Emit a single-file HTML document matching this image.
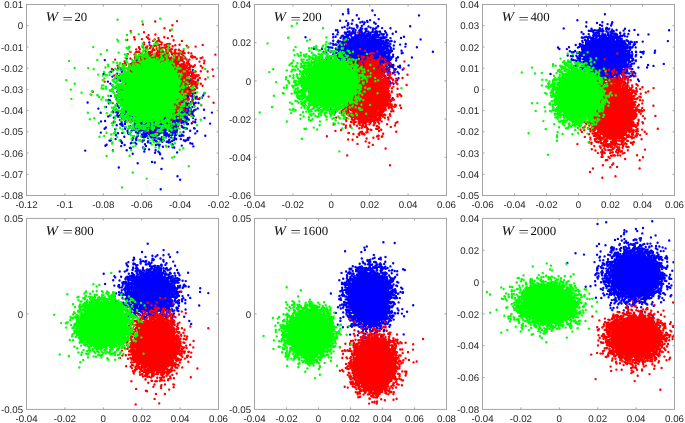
<!DOCTYPE html>
<html><head><meta charset="utf-8"><title>W clusters</title>
<style>
html,body{margin:0;padding:0;background:#fff}
svg{display:block}
text{font-family:"Liberation Sans",sans-serif;font-size:9.7px;fill:#262626;text-rendering:geometricPrecision}
text.t{font-family:"Liberation Serif",serif;fill:#111}
text.i{font-style:italic;font-size:13.4px}
text.e{font-size:13px}
text.n{font-size:12.4px}
</style></head><body>
<svg width="685" height="423" viewBox="0 0 685 423">
<rect width="685" height="423" fill="#fff"/>
<g>
<g fill="#0000ff" stroke="#0000ff">
<ellipse cx="158" cy="100" rx="24.3007" ry="25.8518" transform="rotate(0 158 100)" stroke="none"/>
<path d="M149.3 42.5h0m0.1 11.5h0m17.5 0.2h0m-62.1 5.9h0m21.9 -1.5h0m10 1.8h0m44.6 -2.7h0m-56.3 6.1h0m7 -0.3h0m4.1 -0.6h0m-25 8.9h0m2.1 -1.8h0m4.9 -1.9h0m2.3 1.2h0m1.4 2.4h0m0.9 -1.9h0m0.7 0.2h0m65.3 -0.9h0m4.3 1h0m0.2 1.7h0m-89.6 2.1h0m8.8 2.7h0m4.7 -2.8h0m1.7 2.3h0m68.8 -0.8h0m1.8 -2.4h0m2.7 1.8h0m0.6 2.4h0m0.3 -3.3h0m-85.1 7.8h0m8.3 -3.3h0m3.5 1.5h0m0.6 1h0m4.9 1.4h0m60.3 -0.4h0m4.1 -0.8h0m0.1 1.2h0m0.3 -3.4h0m1.8 1.5h0m3.3 2h0m3.1 -2.1h0m-87.8 3.4h0m2.1 1.9h0m-0.2 3.9h0m3.1 -1.9h0m1.9 4.3h0m0.5 -4.1h0m0.7 2.3h0m1.8 0.5h0m2.3 -0.4h0m62.5 -1.3h0m3.3 0.2h0m0 -0.8h0m1.7 0.1h0m0 1.6h0m0.6 1.5h0m1.1 -0.7h0m3.1 -1.2h0m-84.1 6.4h0m5.1 0.8h0m70.3 -1.6h0m1.2 1.3h0m0.7 0.9h0m0.2 0h0m0.3 -2.2h0m2.5 0.8h0m1.3 -2.3h0m0.2 3.8h0m0 -1.1h0m0.1 -1.7h0m0.9 2.8h0m1 -0.3h0m0.7 -4.1h0m1.4 3.8h0m6.5 -1.3h0m1.3 -2.2h0m-116.9 9.2h0m20.9 -2.5h0m1.5 0.4h0m6.8 -1.8h0m0.9 2.2h0m3.7 -1.1h0m0.8 1.6h0m0.7 -2.4h0m60.4 3.3h0m2 -2.1h0m0.9 2.2h0m2.4 -3h0m2.1 2.9h0m1.9 -3h0m0.8 -0.7h0m2.4 0h0m3.4 0.6h0m2.6 -1.4h0m-95.8 9.3h0m2.9 -3.7h0m8.4 0.3h0m0.2 2.1h0m64.6 -2.4h0m2 2.6h0m0.2 1.4h0m0.2 -0.3h0m0.1 -0.6h0m0.8 0.5h0m1.5 -2.8h0m0.6 3.2h0m0.1 -4.3h0m0.2 2.2h0m0.9 -1.1h0m0.6 3.2h0m1.4 -3.3h0m1.8 3h0m1 -3.9h0m0.5 0.5h0m0 1.1h0m1.7 -2h0m2.8 0.3h0m-100.1 5.6h0m14.7 2.6h0m0.1 1.1h0m3.2 -0.1h0m1.4 0.1h0m1.2 -4.7h0m3 1.8h0m0.5 2.7h0m2.6 -1.9h0m0.8 0.9h0m0.4 1.2h0m54.1 -1.5h0m0 1.4h0m1.3 -0.6h0m0.8 0.3h0m1.1 -2h0m1.1 2.5h0m0.1 -4.7h0m0.5 0.7h0m0.2 2.9h0m0 -3.7h0m0.4 3.7h0m0.1 -2.3h0m0.5 2.8h0m0.1 0.4h0m0.4 -3.8h0m0.4 1.8h0m0.4 1.5h0m0 0.6h0m0.7 -4.1h0m0.1 2.9h0m0.7 -0.9h0m0.5 -1.9h0m0 2.1h0m1 -1.2h0m1.1 2.4h0m1.2 0h0m0.9 -1.1h0m0.4 -0.4h0m1.1 -0.5h0m2.2 -1.2h0m6.3 1.3h0m-103.3 3h0m7.5 3.7h0m2 -1h0m6.7 0.2h0m0.4 -0.4h0m0.5 -2.3h0m0.2 3.6h0m1.4 -0.8h0m0.4 1.2h0m1.1 -2.7h0m2.4 -1.6h0m1.3 4.7h0m0.2 -3.6h0m4.6 2h0m0.1 1.6h0m0.4 -2.3h0m1.6 1.4h0m0.4 0.4h0m1.6 0.6h0m1.6 -0.8h0m2 0.4h0m39.7 0.3h0m0.9 -0.5h0m1.8 -3h0m0.9 -0.8h0m0.4 3.6h0m0.1 -1.7h0m1.4 -2.1h0m0.6 0.4h0m0.2 0.8h0m0.1 3.3h0m0.4 -3.8h0m0 2.2h0m0.7 0.3h0m0.2 1.4h0m0.5 -0.5h0m1.2 -2.7h0m0.1 0.8h0m0.6 2.1h0m1.4 -2.8h0m2 -1.2h0m1 2.1h0m0.1 -1.4h0m1.2 0.1h0m0.4 2.1h0m0.6 -0.1h0m18.3 -3.3h0m-110.9 8.8h0m4.1 -0.4h0m8.8 -3.2h0m0.2 3.9h0m5.8 -1.6h0m1.7 2.2h0m0.5 -3.8h0m3 3.2h0m0.7 -0.4h0m5.1 1h0m0.8 -2.9h0m0.3 1.1h0m0.5 0h0m2.1 -0.2h0m0.4 -1.6h0m0.4 2.9h0m0 -3.3h0m2.1 2.4h0m0.8 1.3h0m1.9 -1.8h0m1.5 1.3h0m0.8 -0.3h0m0.1 0.7h0m0.5 0.6h0m27.5 -0.3h0m1.7 -0.7h0m0.7 -1.1h0m0.3 0.8h0m0.8 -1.3h0m0.2 2.5h0m0 -2.4h0m0.3 1.5h0m0.1 -1.3h0m0.4 -0.7h0m0.3 -2h0m0.2 1.8h0m0.8 -0.5h0m0.5 2.6h0m0.4 -0.5h0m0.5 -0.7h0m0.2 1.7h0m0.4 -0.4h0m0.5 0.4h0m0.6 -2.3h0m0.8 1.8h0m0.8 -1.9h0m0.2 -2h0m0.2 2.8h0m0.3 1.4h0m1.4 -0.5h0m1.6 -0.4h0m0.5 -3h0m0.7 2.6h0m0.3 2.1h0m0.1 -2.8h0m1.2 -1.2h0m1.2 1.3h0m4.2 -1.8h0m1.7 4h0m0.5 0.3h0m0.4 -2.7h0m8.9 -1.6h0m-87.8 7.3h0m3.5 -1.2h0m1.4 0.9h0m0.7 -0.9h0m0.3 1.8h0m2.4 -2h0m0.4 3.3h0m5 -1.1h0m3.2 -0.4h0m0.5 -0.6h0m0.7 -1.6h0m0 -0.9h0m0.6 3.5h0m0.2 -2.2h0m1.5 3.1h0m2.5 -4.4h0m0.9 0.1h0m0.3 1.9h0m0.6 0.8h0m0.2 -1.6h0m2 1.8h0m0.2 -0.7h0m1.1 -1.3h0m0.5 1.6h0m0.1 -2.1h0m0.7 1.8h0m0.1 -1.9h0m0.8 1.3h0m0.7 -0.6h0m0.8 3.5h0m0.6 -3h0m0.5 3.2h0m0.5 -1.6h0m1.9 -1.1h0m0.3 1.4h0m1.6 -0.9h0m0.4 0.1h0m0.2 1.6h0m0.1 -2.1h0m0.8 0.5h0m1.2 0.7h0m0 1.1h0m0.6 0h0m1.9 0.1h0m0.9 -0.2h0m1 0.3h0m2.9 -0.2h0m2.2 -2.2h0m0.7 -2.1h0m1.2 1.1h0m1.6 -1.2h0m0.2 4h0m0.7 -1.2h0m1 -1.2h0m0.9 2.3h0m0.5 -3.2h0m0.1 2.2h0m0.6 0.4h0m0.7 -3h0m0 2.5h0m0.7 -1.7h0m1 -0.7h0m0 2.7h0m0.2 -3h0m0.3 0.9h0m1.9 1h0m3 -1.9h0m0.1 2.9h0m0.3 1.1h0m1.7 -4h0m3.3 1.3h0m1.1 -0.1h0m3.8 -0.7h0m18.3 0.3h0m-105.5 5.2h0m1.3 -1.3h0m9.3 1.7h0m10 -0.5h0m2.3 2.2h0m2.2 -3.4h0m1.6 3.7h0m1.2 -1.7h0m1.2 -2h0m0.3 2.2h0m0.6 -0.2h0m0.3 -0.2h0m1 2.8h0m0.2 -0.9h0m1.4 -2.6h0m0.2 0.2h0m0.8 1.5h0m0.5 2.2h0m0 -2.5h0m0.4 1.4h0m0.7 -2.7h0m0.3 2.4h0m0.7 -0.8h0m0.7 -2h0m0.3 1.8h0m0.6 -1.3h0m0.2 1.2h0m0.2 -0.4h0m1.7 0.8h0m0.5 0.2h0m1.2 -0.6h0m0.3 -2.4h0m0.3 2.9h0m0.5 -2.4h0m0.6 0.4h0m0.1 0.7h0m1.6 3h0m0 -2.2h0m0.3 -2.5h0m0 2.1h0m0.1 1.5h0m0.4 1.3h0m0.5 -2h0m2.2 1.3h0m0.8 -0.5h0m0.2 -1.8h0m0.9 2.9h0m0.1 -2.4h0m0 -1.9h0m0.7 1.4h0m0.7 2.4h0m0.1 0.7h0m0.3 0h0m0.1 -2.6h0m0.9 -1.9h0m0.1 4.1h0m0.2 -3.3h0m0.4 -0.3h0m0.2 3.8h0m2.5 -0.9h0m0.2 -2.8h0m0.3 1.3h0m0.1 2.3h0m0.3 -3.6h0m0.2 2.8h0m0.4 0.9h0m0.3 -1.4h0m1.3 -1.3h0m0.5 2h0m0.2 -3h0m0.1 0.6h0m0.3 0.7h0m3.5 0.8h0m0.6 -2.4h0m1.2 2.8h0m0.4 0.2h0m0.4 -0.7h0m0.3 -3.1h0m0.3 0.7h0m0.7 4.3h0m0.2 -4.1h0m0.5 2.3h0m0.4 1.4h0m0.2 -3.6h0m0.2 -0.9h0m1 0.3h0m0.4 4.3h0m0.2 -1.7h0m0.4 -1.6h0m0.1 3.5h0m0 -4.6h0m0.2 2.5h0m6.1 -2.7h0m0.4 4.4h0m0.4 -4.4h0m0.7 0.3h0m1 0.4h0m1.4 0.3h0m3.2 2.1h0m3.9 -2.5h0m0.5 0.3h0m2.6 2.7h0m-96.4 1.4h0m15.1 2.7h0m2.1 -2.1h0m4.3 -0.3h0m2 3.8h0m3.7 -3.7h0m0.6 0.8h0m0.8 -0.5h0m7.2 4.1h0m1.2 -4.2h0m0.1 2.5h0m4 -1.3h0m0.3 2.3h0m0.6 0.1h0m0.9 -4.2h0m0.3 2h0m0.3 2.3h0m0.4 -3.2h0m0.1 3.2h0m0.3 0h0m0.1 -1.2h0m0.9 -1.8h0m0.1 -0.8h0m0.7 3h0m0.5 -2.9h0m0.6 -0.6h0m1.3 2h0m1 -1h0m0 2.5h0m0.9 -0.9h0m0.4 0.7h0m0.4 -3h0m1.5 -0.3h0m0.9 1.6h0m0.1 0.8h0m1.9 -0.8h0m0.4 3.1h0m0.3 -1h0m0.9 -2.6h0m0 1.6h0m0.2 -0.3h0m0.5 -2.3h0m0.1 1.7h0m1.6 -1.3h0m1.4 4.1h0m2.4 -4.1h0m0.1 1.8h0m1.3 2.5h0m0.2 -3h0m0.2 0.5h0m0.4 0.9h0m0.1 -2.9h0m0.3 1.8h0m0 -1.5h0m1.9 1.5h0m0.1 1.6h0m0 0.2h0m0.1 -0.8h0m0.7 -1.1h0m1 0.2h0m0.2 -1.7h0m1 1.8h0m0.3 -1.8h0m0.3 1.4h0m2.5 1h0m0.3 -2.5h0m0.8 2h0m0.9 -2h0m2.6 2.8h0m1 0.3h0m0.9 -0.3h0m0.5 -1.2h0m1.5 1h0m11.9 -2.2h0m10 2.4h0m-95.8 4.8h0m1.2 -0.1h0m4.9 -1.4h0m5 1.4h0m0.4 0.5h0m0.6 0.9h0m10.9 -2.2h0m0.7 -1.7h0m2.9 1.3h0m0.2 0.8h0m6 1.4h0m0.5 -1h0m1 -0.2h0m4.1 1.9h0m0.2 -4.2h0m0.1 3.1h0m3.1 -3.6h0m2.3 0.1h0m0.6 2.4h0m1.3 -2.4h0m0.5 3h0m0.2 0.9h0m0.8 0.1h0m1 -3h0m1.1 -0.1h0m1.1 0.7h0m0.9 1.4h0m0.4 -2.1h0m0.8 3.2h0m0.3 -3.3h0m0.1 0.6h0m1 1.4h0m3 1.4h0m1.5 -0.3h0m0.5 1h0m0.6 -2.8h0m0.8 2.4h0m1.2 -4.6h0m0.7 3.6h0m1.7 -1.8h0m0.3 0.7h0m0.6 -2.2h0m1.6 1.2h0m4.6 0.1h0m3 1.2h0m1.4 0.7h0m1 -0.8h0m1.6 -2h0m0.4 1.5h0m1.3 -2.1h0m-84.1 8.1h0m1.2 -1h0m14.6 1.4h0m0.8 -3.1h0m2.6 2h0m6.3 -1.8h0m0.7 -0.5h0m3.6 -0.1h0m1.1 1.3h0m6.7 3.5h0m2 -3.1h0m1 1.7h0m4.5 -2.9h0m5.3 2h0m1.8 -0.8h0m1.7 1.4h0m0.4 -1.1h0m3.2 2.1h0m5.7 -0.1h0m3.5 -2.3h0m0.5 2.9h0m0.1 -2.7h0m9.1 1.1h0m8.5 -2.4h0m2.1 0.5h0m1 2.7h0m-108.2 4.2h0m27.7 -0.1h0m13.8 -0.2h0m3.2 -2.4h0m0.4 -0.1h0m0.6 0.6h0m12.6 -0.2h0m0.8 3.3h0m0.7 -2.4h0m4.1 0.3h0m6.5 0.9h0m2.7 1.3h0m15.9 -4.1h0m2.9 4.9h0m-44.4 1.4h0m22.3 -1h0m4.5 0h0m0.6 1.5h0m-8.1 7.6h0m2.8 0.6h0m7.5 -4.1h0m-24.6 4.9h0m-18.9 4.2h0m42.6 1.5h0m16.1 7.2h0m2.6 3.5h0m-19.4 9.6h0" fill="none" stroke-width="2.4" stroke-linecap="round"/>
</g>
<g fill="#ff0000" stroke="#ff0000">
<ellipse cx="160" cy="85" rx="24.431" ry="25.9904" transform="rotate(0 160 85)" stroke="none"/>
<path d="M155.2 21.5h0m21.8 -0.4h0m-34.1 3.3h0m29.5 0.9h0m-41.7 5.8h0m13.3 1.2h0m20.5 -4.1h0m5.6 2.3h0m-35.9 6.8h0m12.5 -0.2h0m1.8 -1.9h0m6.9 -0.7h0m8.9 2.7h0m7.7 -0.9h0m-44.8 3.6h0m7.6 -0.5h0m7.1 -0.3h0m6.2 -0.8h0m1.2 1.1h0m3.9 1.5h0m1.5 -1.4h0m1.4 3h0m1.1 -1.1h0m1.3 -3.3h0m0.2 1.9h0m0.3 1.1h0m1.1 0.5h0m7.7 -3.5h0m5.8 2.1h0m8.3 0.7h0m-52.8 6.5h0m9.9 0h0m0 -0.3h0m3.7 -0.2h0m1.3 -4.1h0m0 1.8h0m3.2 1.8h0m2.4 -1.3h0m1.4 1.7h0m0.3 -0.8h0m2.9 -0.3h0m2.1 0h0m2.1 -0.9h0m0.9 0.1h0m0.2 2.2h0m1.9 -2.6h0m0.4 -1.8h0m2.5 4.7h0m0.3 -2.5h0m1.7 2h0m0 -2.3h0m0.8 2.2h0m0 -2.7h0m0.9 -0.2h0m1.8 0.1h0m2.9 2.3h0m2.6 -1h0m4.3 -0.6h0m7.1 0.9h0m1.6 1.6h0m7.3 -0.6h0m7.1 -1.7h0m-72.1 7.2h0m5.1 0.3h0m0.5 -3h0m0.7 2.6h0m1.9 -0.2h0m0.3 -4h0m0.3 4.2h0m0.6 -2.8h0m5.3 1.4h0m0.4 -3.1h0m0.3 4.6h0m0.8 -3.9h0m1.9 4h0m1.3 -3.9h0m0.1 3.6h0m0.1 0.2h0m1.6 -0.1h0m0.2 -0.2h0m0.1 -0.6h0m0.6 -1.2h0m0.5 -1.8h0m1.3 1.9h0m2.2 -1.7h0m0.8 2.1h0m0.1 -0.8h0m0.3 0.1h0m0.3 2.2h0m0.5 0h0m0.7 -3.2h0m0.4 3.1h0m0 -0.5h0m0.2 0.8h0m0.1 -3.4h0m0.1 2.2h0m1.8 0.2h0m0 -3.5h0m0.1 0.7h0m0.8 3h0m2.6 -3.2h0m0.8 2.9h0m0.2 -1.2h0m1.4 2.3h0m1.5 -2h0m0 -2.7h0m0.8 3.3h0m0.3 -0.9h0m0.6 1.9h0m0.4 0.4h0m0.3 -3.2h0m2.9 1.3h0m0.1 0.6h0m0.1 1.6h0m0.8 -2.9h0m3.1 0.1h0m1.8 1.6h0m2.1 0.8h0m0.7 -1.1h0m-55.6 3.1h0m6.7 0.3h0m0.7 2.6h0m1 -1.1h0m3.6 -0.1h0m0.1 0.4h0m0.4 0.3h0m0.6 -2.6h0m1.9 2.5h0m1.6 -1.8h0m1.3 -1.4h0m0.1 2.7h0m1.5 0.2h0m0.9 -3h0m0.1 2.6h0m0.7 1.5h0m0.7 -0.4h0m0 -3.4h0m0.4 -0.3h0m0.6 2.7h0m0.5 -0.7h0m1.3 -0.4h0m0.4 2.5h0m2 -1.1h0m0.1 0.7h0m0.2 -3.1h0m0.4 2.1h0m0.2 -0.9h0m0.2 2.1h0m1.1 -4h0m0.2 2.5h0m0.1 0.6h0m0.6 0.8h0m0.5 -1.9h0m0.4 -0.3h0m0.2 2.4h0m0.6 -2.4h0m1 2.1h0m0 -3.6h0m0.2 -0.3h0m0.9 3.4h0m0.1 1.1h0m0.3 -2.6h0m0.2 -1.4h0m0.1 -0.3h0m0.2 3.6h0m0.9 -0.5h0m0 1h0m0.1 -2.5h0m0.5 1.5h0m0.3 -3.4h0m0.5 1.9h0m0 -0.6h0m0.6 2.2h0m0.9 0.2h0m0.6 -3.5h0m0.1 2.2h0m1.1 -0.7h0m0 1.6h0m0.2 -0.5h0m2.8 1.8h0m0.5 -4h0m0.3 0.9h0m1.1 0.8h0m0.3 0.4h0m0.1 -1.8h0m0.3 1.4h0m0.5 -0.2h0m0 1.6h0m0 -2.8h0m0.2 1.3h0m1.6 -1.6h0m0.4 3.3h0m0.9 0.7h0m0.6 -0.8h0m0.3 -3.2h0m0.2 1.5h0m0.2 0.9h0m0.7 0.9h0m0.7 -3.5h0m0.5 3.9h0m1.4 -2.8h0m1 3.1h0m0.4 -1.5h0m0.2 -2.8h0m0.8 4.1h0m0.2 -4.1h0m3.8 -0.3h0m2.5 3.7h0m0.3 -3.1h0m1.1 2.5h0m0.4 1.3h0m1.9 -0.1h0m0.2 0h0m20.4 -2.5h0m-100.2 5h0m9.5 1.9h0m0.7 0.7h0m5.1 -3.7h0m4.5 -0.6h0m0.1 2.5h0m2.4 -1h0m0.3 3h0m1.3 -0.6h0m1.6 -3.9h0m0.6 2h0m1.4 -0.6h0m0.5 0h0m0.5 -1.6h0m1.1 2.5h0m0.4 -2.1h0m0.9 0.4h0m5.4 -0.6h0m1 0.6h0m0.2 0h0m0.2 1h0m1.3 -1.7h0m1.1 0.8h0m0.5 1.3h0m0.3 -2.4h0m2 1h0m0.8 -0.5h0m0.2 1.2h0m0.4 0.4h0m4.9 -0.5h0m0 -0.4h0m1.4 -1h0m0.3 0.7h0m0.6 1.3h0m0.5 0.1h0m1.2 -2h0m0.3 3.6h0m0.3 0.3h0m1.1 -2.1h0m0.3 -1.5h0m0.9 3.4h0m0.3 -3.2h0m0.3 1.7h0m0.2 -0.6h0m0.2 1.2h0m0.2 -0.3h0m0.1 1h0m0.8 -0.8h0m0.5 1.1h0m0.1 -2.5h0m1.8 2h0m0.1 -0.7h0m0.1 -2.9h0m0.1 2.3h0m0.3 1.5h0m0.6 1.2h0m0 -3.6h0m0.5 1h0m0.4 1.2h0m0.3 1h0m0.7 -1.1h0m0.6 -0.8h0m0 1.2h0m0.4 -0.8h0m0.8 -1.8h0m0.4 1.6h0m0.5 -1h0m0.9 -0.8h0m0.1 -0.3h0m0 0.4h0m0.2 2.1h0m1.3 1.3h0m0.7 -3.7h0m0.4 -0.9h0m1.5 2h0m0.4 2.9h0m0.3 0h0m0.9 -1h0m1.2 -1.8h0m2.8 -2.1h0m4.5 1.2h0m2.8 2.9h0m1.1 -3.4h0m1.8 -0.7h0m2 3.2h0m-86.9 4.9h0m5.5 -1.4h0m3.1 0.6h0m2.8 1.9h0m1.6 -2.6h0m0.9 2.1h0m2.4 -3.4h0m0.3 0.7h0m1.3 0.5h0m0.1 0.1h0m0.3 2h0m0.5 -2.5h0m0 -0.5h0m1.8 0.6h0m1.6 3.2h0m0 -3.5h0m0.6 0.8h0m0.9 1.2h0m32.4 -2.7h0m0.5 0.3h0m0.2 2.2h0m0.4 -1.9h0m0.1 2h0m0.3 -0.9h0m0.2 -1h0m0.5 -0.6h0m0.5 0.9h0m0.1 0.9h0m1 1.7h0m0.4 -2.4h0m0.3 -0.9h0m0.1 4.2h0m1.5 -2.3h0m0.5 1.8h0m0.2 -1.3h0m0.1 0.6h0m0.2 0.4h0m0.8 -2.1h0m0.2 1.6h0m0.3 -0.9h0m0.3 -1h0m0.6 2.3h0m0.3 -1h0m0.8 -1h0m0.4 -0.5h0m0.7 3.5h0m0 -0.7h0m0.2 -1.4h0m1.2 0.2h0m0.3 0.6h0m0.3 -3.1h0m1.2 1.1h0m0.6 -0.4h0m0.5 1.3h0m0.2 0.1h0m0.9 1.3h0m0.9 -0.3h0m1.5 1.1h0m0.3 -0.1h0m0.7 -0.9h0m0.9 -0.8h0m6 0.6h0m3.3 -2.6h0m-92.2 5.6h0m8.7 -0.7h0m7.5 1.5h0m2 -0.2h0m0.1 1.6h0m1.3 0.1h0m0.7 0.7h0m0.7 -4.1h0m46.2 2h0m0.5 -0.8h0m0.5 3h0m0.6 -3.6h0m0.4 2h0m0 -2.5h0m0.7 0.4h0m0.4 1.7h0m0 0.9h0m1.4 -2.3h0m0 2h0m0.2 -2.9h0m0.1 3.2h0m0.9 -2h0m0.9 -0.7h0m0.1 -0.7h0m0.1 3.8h0m0.4 -0.6h0m1.6 0.8h0m0.1 -3.3h0m0 3h0m0.7 1.2h0m0.2 -4.7h0m1 -0.2h0m0.3 2.1h0m0.7 2.4h0m2.1 0.5h0m0.2 -0.5h0m1.4 -0.5h0m0.9 0h0m0.1 0.1h0m5.2 -0.4h0m1.7 -3.5h0m5.1 3.8h0m5 -2h0m-98.4 5.9h0m12.4 0.6h0m54.3 -3.3h0m1.1 1.5h0m0.3 -1.5h0m0.1 3.1h0m0.1 -0.6h0m0.2 1h0m0 -2.2h0m1.2 2.2h0m0.2 -1.1h0m0.4 -2.4h0m0.4 1.2h0m0.2 -0.9h0m0.5 1h0m0.3 2h0m0 1h0m0.1 -3.9h0m0.3 3.7h0m0.9 0.2h0m0.2 -4.1h0m0.2 2.8h0m0.5 -0.9h0m0.7 -0.4h0m1.8 1.5h0m0.8 -2.9h0m0.6 3.5h0m0.6 -1.2h0m1 -0.4h0m1.3 0.5h0m0.8 1.6h0m0.9 -1.7h0m0.9 0.7h0m1.1 -0.7h0m14.8 0.8h0m-108.8 5.5h0m16.4 -3.1h0m62.5 -0.1h0m0.4 -0.8h0m0.1 3.3h0m0.3 -3h0m0.1 2.8h0m0 -0.3h0m0.2 -1.2h0m0.1 1.5h0m0.5 1.4h0m0 -3h0m0.8 0.5h0m0.3 -0.3h0m0.8 -1.3h0m0.1 3.3h0m0.3 -2.7h0m0.7 1.6h0m0.4 -1.4h0m0.4 3.6h0m1.9 -0.2h0m0.3 -2.7h0m0.4 -0.1h0m0.9 1.6h0m0.3 0.9h0m0.5 -3.7h0m0.3 3.1h0m0.3 -3.7h0m1.2 0.8h0m1.4 3.9h0m0.3 -0.7h0m1 -2.2h0m2 -1.4h0m5.6 1.3h0m-79.8 5.2h0m58.5 1.8h0m0.3 -2h0m0.3 -1.7h0m0.2 4.7h0m0.5 -2.8h0m0.3 2.1h0m0.9 -2.8h0m0.1 2.3h0m0.8 -1.6h0m0 1.2h0m0.1 -2.9h0m0 1h0m0.2 2.5h0m1.2 -2.4h0m1.6 -0.5h0m0.6 2.9h0m0.7 -2h0m0.4 -1.5h0m0.2 0.8h0m0.2 1.5h0m0.1 -2h0m1.2 0.2h0m0.7 -0.3h0m0.2 0h0m0.3 1.9h0m0.4 1.4h0m0.3 -1.4h0m0.7 0.8h0m0.1 1.6h0m0.9 -3.6h0m3.2 0.1h0m1.8 2h0m-109.8 5.9h0m28.7 -2.5h0m60.9 2.6h0m0.8 -0.9h0m0.5 -1.7h0m0.2 1.7h0m0 -2.9h0m0 0.8h0m0.1 3.7h0m0.1 -0.7h0m0.2 -2h0m0.3 0.9h0m0.3 -2.8h0m1.2 4h0m0.1 0.3h0m0.2 -1.3h0m0.3 -1.2h0m0.3 -1.3h0m0.5 0.7h0m0 1h0m0.3 1.1h0m1.6 0.6h0m0.2 -1.2h0m0.1 -2.9h0m1.7 2.9h0m2.1 -0.8h0m0.2 0h0m0.3 -0.4h0m3.1 -1.5h0m-79.9 7.5h0m64 0.1h0m0.4 0.4h0m0.3 -1.7h0m0.8 0.3h0m0.8 -1.5h0m0.3 3.7h0m1.4 -1.5h0m0.2 -0.2h0m0.2 1.1h0m1.7 -2.5h0m1.5 0.2h0m0.1 -0.8h0m0.4 1.6h0m0.8 0.9h0m1 -2.5h0m2.6 2.7h0m0 -3.1h0m14.9 4h0m-30.2 5.8h0m1.9 0h0m0 -0.3h0m0.3 -2.5h0m0.1 -1.8h0m0.7 2.4h0m1 -2.3h0m0.2 3.2h0m0.5 -1.9h0m0.9 1.3h0m0.2 1.6h0m0.4 0.1h0m0.4 -3.2h0m0.5 0h0m0.2 -1.1h0m1.9 1.3h0m0.6 1.2h0m0.4 -1.6h0m3.3 2.9h0m0.6 -1.5h0m0.2 1h0m1.3 -3.6h0m3.5 1.2h0m2.2 -0.6h0m-87 4.9h0m62.8 0.7h0m0.5 2h0m0.1 1.6h0m0.7 -3h0m0.9 1h0m0.6 0.7h0m1.5 -3.3h0m0.7 1.5h0m0.5 -0.6h0m1.2 1.6h0m0.2 1.3h0m0.6 -0.4h0m2.5 -1.8h0m0.7 0.9h0m8.1 1.2h0m0.1 -0.9h0m6.9 -0.4h0m12.3 -2.4h0m-39.3 8.8h0m0.7 0h0m0.6 -3.9h0m0.4 3.1h0m0.9 -1.1h0m0.3 -1.7h0m0.2 -0.4h0m0.3 4.4h0m0 0.3h0m0.2 -1.3h0m1 -2.8h0m0.4 1.1h0m0.7 -1.7h0m2 0.4h0m0.4 -0.4h0m1.6 1.6h0m2.2 1.6h0m0.4 -0.6h0m3.9 0.5h0m-57.4 4.1h0m30.2 2.5h0m0.8 -1.3h0m3.3 -1.9h0m3.6 -0.7h0m1.7 0.1h0m0 2.3h0m1.2 -3.1h0m1.5 0.6h0m1.8 -0.1h0m1.9 2.9h0m0.7 -0.5h0m9.8 -0.9h0m-76 7.8h0m15.1 -2.5h0m30.7 1.7h0m2 -0.5h0m6.2 -2.2h0m0.8 3.5h0m3.4 -2.2h0m0.2 -1.4h0m0.4 -1.3h0m7.6 0h0m0.4 1.6h0m0.1 1.8h0m4.4 -1.2h0m8.2 1.9h0m-54.7 3h0m27.1 -1.2h0m4 2h0m2.3 0h0m6.3 1.3h0m-29.6 4.8h0m4.6 -1.4h0m3.3 2h0" fill="none" stroke-width="2.4" stroke-linecap="round"/>
</g>
<g fill="#00ff00" stroke="#00ff00">
<ellipse cx="152" cy="91" rx="24.1182" ry="25.6576" transform="rotate(0 152 91)" stroke="none"/>
<path d="M117.6 19.8h0m24.7 1.7h0m17.9 -2.8h0m-29.2 13.8h0m40.9 -3h0m-44.9 5.5h0m11.8 -0.9h0m-21.5 5.5h0m1 1.8h0m7.7 -1.4h0m28 0.1h0m-60.8 7h0m36.2 -0.3h0m12.9 -0.8h0m0.4 -2.2h0m10 2.7h0m1.8 -2.5h0m2.6 -1h0m0.4 1.5h0m11 0.6h0m0.4 0.5h0m18.7 1.6h0m-80.6 3h0m19.6 -2.5h0m1.5 1h0m1.4 2.7h0m13.9 -0.4h0m0.1 -2.5h0m0.6 2.6h0m2.5 -1.1h0m1.2 -0.5h0m10.4 -0.8h0m2.8 1.9h0m1.5 -1.2h0m5.1 2h0m0.4 -3.4h0m0 0.8h0m12.6 3.5h0m3.1 -3.4h0m-82.9 5.3h0m17.9 -1.6h0m6.1 1.8h0m2 0.2h0m0.3 1.5h0m8.6 -1.6h0m0.2 1.6h0m1.1 0.9h0m1 -0.1h0m1.2 -2.2h0m0.7 0.7h0m0.9 -0.7h0m1.4 -2.1h0m0.7 4.8h0m0.1 -2.8h0m0.2 1.7h0m2.1 -2.3h0m0.1 1.5h0m0 1.6h0m0.1 -0.2h0m1.1 -4h0m0.7 2.4h0m0.3 -1h0m0.4 2.2h0m4.9 -0.6h0m1.5 -0.5h0m0.2 -1.4h0m6.6 -0.3h0m0.1 2.3h0m0.5 1.1h0m1.1 -3.4h0m2 -1h0m0.7 3.7h0m1 -1.2h0m0.1 2.1h0m2.6 -2.3h0m4.5 0.3h0m0.4 2.1h0m9.5 0h0m-114.6 3.5h0m28.2 -1h0m16.1 2.3h0m12.1 -4.5h0m0.6 3h0m1.1 1.8h0m4.8 -2.7h0m0.6 1.1h0m1.9 0.1h0m0.4 0.2h0m0.8 -2.7h0m0.7 -0.1h0m2 2.7h0m0.4 -2.6h0m0.3 2.2h0m0.3 0.4h0m0.7 0.8h0m1.7 -4.1h0m0.2 4.1h0m0.5 -1.1h0m0.1 0.7h0m0.3 -2h0m0.7 0.9h0m0.3 0.5h0m1 0.8h0m1.4 -1.2h0m0.2 -0.9h0m0.6 2.2h0m0.1 -1.4h0m0.5 -2.2h0m0.2 3.8h0m0.7 -2.1h0m0.2 2.1h0m0.3 0.2h0m0.4 -2.8h0m0.3 -1.8h0m0.4 4h0m0.4 -2.9h0m0.1 0.3h0m0 -0.2h0m0.3 1.1h0m0.1 2.3h0m0.6 -1.2h0m0.7 -1.3h0m0.3 1h0m0.7 -0.6h0m0.2 2.2h0m0.3 -3.5h0m1.1 1.6h0m0.6 0h0m0.7 0.8h0m0.1 0.2h0m0.2 0.3h0m0.1 -0.6h0m0.2 -3.2h0m0.8 0.5h0m1 3.5h0m0.6 -1.1h0m0.1 -0.3h0m0.4 0.8h0m0.2 -0.6h0m1 -2h0m1.3 1.3h0m0.3 -0.1h0m0.6 -0.3h0m0.2 -0.8h0m1.6 3.2h0m1.7 -1.2h0m0.5 -1.7h0m0.2 0.5h0m0.7 0.4h0m2.5 1.8h0m0.6 0h0m1.1 0.7h0m0.3 -2.7h0m6 -0.2h0m0.5 -2.1h0m-71.2 7.3h0m0.4 1.6h0m8.7 -3.7h0m2.2 4.3h0m0.3 -2.6h0m0.6 -1.5h0m2.3 2.9h0m0.7 1.3h0m0.6 -1.6h0m0 0.4h0m0.6 0.8h0m0.2 -1.9h0m0.4 0.7h0m0.2 -0.3h0m4 -0.9h0m0.2 3.1h0m0.1 -1.9h0m0.2 0.6h0m0.9 1.3h0m1.6 -0.7h0m0.3 -0.4h0m0.2 -0.8h0m0.2 -1.7h0m0.2 -0.4h0m0.1 3.4h0m0.1 -1.1h0m1.5 0.9h0m0.3 0.7h0m0.6 -3.6h0m0.8 2.6h0m0.2 0.2h0m0.2 -2.1h0m0.6 2.7h0m0.1 -2.7h0m0.4 0.3h0m0 1h0m0.5 1h0m0.7 0.5h0m0.1 -2.5h0m0.7 2.4h0m1.2 -0.2h0m0.3 -0.6h0m0.1 -2.5h0m0.1 2.7h0m0.1 -1.3h0m0.1 1.1h0m0.4 -2.4h0m0.2 0.9h0m0.2 0.6h0m0.3 0.5h0m0.2 -0.9h0m1 -1.8h0m0.4 2.8h0m0.4 -1.9h0m0.3 2.1h0m0.2 -2.9h0m0.9 1.2h0m0 2.2h0m1 -0.6h0m0.3 -3.2h0m0.6 0.4h0m0.2 3h0m0.1 -1.6h0m1.4 0.4h0m0.1 1.1h0m0.6 -2.4h0m0.1 1.6h0m0.1 -1h0m1.5 0.8h0m0 -0.2h0m0.7 -1.8h0m0.1 1.9h0m0.1 -2.1h0m1.4 1.8h0m0.6 1h0m0.3 -2.9h0m0.2 0.5h0m0.2 -0.3h0m0.2 3.3h0m0.1 -2h0m0.6 -1.7h0m0.1 3.5h0m0.7 -2.4h0m0 1.2h0m0.2 -2.1h0m0.4 -0.1h0m1 2.2h0m0.1 1.2h0m0.1 1.1h0m0.1 -2h0m0 -1.6h0m0.2 1.8h0m0.2 -1.2h0m1.2 1.6h0m0.6 -0.5h0m0.1 -0.3h0m0.2 -1.9h0m0.1 -0.5h0m1 1.1h0m0.2 0.4h0m0.2 2.1h0m0.2 -3.5h0m0.1 3.8h0m0.1 0.1h0m0.3 -1.7h0m0.5 0.3h0m0.8 1.1h0m0.1 -1.8h0m0.7 -1.8h0m0.1 0.7h0m0.2 0.9h0m0 1.4h0m0.5 1.3h0m0.2 -1.5h0m0.2 0.3h0m0.7 -3.1h0m0.1 2.2h0m0.1 -1.9h0m0.3 3.5h0m0 -1.3h0m0.8 -1.3h0m0.2 3.2h0m0.2 -3.6h0m0.2 1.5h0m0.6 0.1h0m0 0.8h0m0.9 -3h0m0.2 3.5h0m2.2 -2.5h0m0.6 2.7h0m3.5 -0.7h0m-103.5 1.9h0m13.6 0.2h0m5.5 1.2h0m10.3 2.6h0m1.4 -4.4h0m4.1 4.7h0m3.2 -1h0m2.6 -2.5h0m1.9 1.3h0m0.3 0h0m2.1 -1h0m3.1 0.1h0m0.6 1.1h0m1 2.3h0m0.1 -4.3h0m0.1 4.2h0m0.5 -3.8h0m0 2.6h0m1.4 1h0m0.2 -4.3h0m0.6 4.5h0m0.7 -3h0m0.5 1.5h0m0.1 0.2h0m0.3 -2.7h0m0.1 1.7h0m0 1.8h0m0.2 -3.1h0m1.2 -0.2h0m1.8 -0.1h0m0.3 1.3h0m0.1 0.3h0m0.4 0.4h0m0.3 -0.8h0m0 1.3h0m0.2 0.7h0m0.4 0.2h0m0.2 -1.2h0m0.2 -1.9h0m0 1.7h0m1.1 1.3h0m0.3 -3h0m0.1 2.2h0m0.4 -2.4h0m0.3 2.5h0m0.2 -0.6h0m0.3 -0.9h0m0.2 1.4h0m0.6 -3.4h0m0.3 1.1h0m1.4 0.5h0m0.6 -0.2h0m0.8 0h0m0.4 -0.1h0m20.1 -1.2h0m1.1 -0.2h0m0.1 0.2h0m0.7 -0.1h0m1.1 1.4h0m0.2 -0.4h0m1.5 1.1h0m0.5 -0.6h0m0.2 3h0m0.2 -3.4h0m0 1.6h0m1.4 -0.9h0m0 1.6h0m0.8 -3.4h0m0.1 2.2h0m0.2 1.5h0m1.2 0.6h0m0.2 -1h0m0.1 -2.2h0m0.3 -0.4h0m0.3 1.4h0m0.5 2.1h0m0.2 0.2h0m1.1 -3.6h0m0.1 1.8h0m0.5 0.3h0m0.2 1.5h0m0.3 -1.1h0m1.6 1.1h0m0.3 -1.6h0m0.2 0.3h0m0.1 -2.4h0m0.1 2.6h0m1.2 -2.5h0m1 0.1h0m1.7 0h0m3.1 2.9h0m1.1 0h0m9.3 -0.5h0m11 -2h0m-106.9 5.7h0m4.7 1h0m2.5 -0.4h0m1.4 0h0m2.8 -0.5h0m6.6 -0.2h0m0 0.8h0m1 1.6h0m1.6 -0.3h0m1.1 -2.7h0m1.2 2.1h0m0.2 -0.8h0m0.2 1.2h0m0.8 -2.4h0m0 0.6h0m0.8 1.1h0m0 -1.2h0m1.2 0.2h0m0.3 2.5h0m0.5 -1.2h0m0.4 1.2h0m0.2 -3.3h0m0.1 1.1h0m1.4 -0.3h0m0.1 -1.3h0m0.1 1.5h0m0 1.9h0m0.4 -2h0m0 2.3h0m0.5 -0.6h0m0.1 -3h0m0.2 3.4h0m0.2 -2.3h0m0.8 -0.2h0m0.5 -1.1h0m0.1 3h0m0.7 -2.3h0m0.7 1.6h0m0.1 1.5h0m0.2 -1.5h0m0.3 -1.7h0m1 -0.6h0m0 0.5h0m0.1 -0.2h0m1 -0.1h0m0.1 1.3h0m0.9 -2h0m0.4 0.1h0m31.7 -0.3h0m0.8 0.6h0m0.5 -0.4h0m0.5 1h0m0.6 1h0m0.6 -0.2h0m0.5 -1.8h0m1.4 3.1h0m0.3 -1.5h0m0.1 -0.4h0m0.4 2.8h0m0.2 -4.1h0m0.5 4.5h0m0.7 -2h0m0 0.8h0m0 -1.2h0m0.2 -2.1h0m0.1 0.3h0m0.6 1.9h0m0.3 0.4h0m0.4 1.8h0m0.3 0h0m0.4 -3.4h0m0.4 2.6h0m0.8 -1h0m1.2 -1.7h0m1.3 3.6h0m0.3 -2.1h0m0.4 -1.3h0m0.6 1.3h0m26.1 2.3h0m-141.7 2.7h0m36.5 0h0m1.7 -1.7h0m8.2 1.8h0m1 1.3h0m0.3 -2h0m1 2.9h0m0.3 -4.7h0m0.7 4.4h0m0.2 -0.7h0m0.4 -0.3h0m0.9 -0.8h0m0.8 0.1h0m0.3 -2.7h0m0.2 1.1h0m2.2 -0.6h0m0.2 -0.6h0m0.9 2.9h0m0.1 0.1h0m0.4 0.6h0m0.2 -1.6h0m0.1 -0.1h0m0.2 -1.6h0m0.6 4.2h0m0.6 -1.9h0m0.2 1.4h0m1 -2.8h0m0 2.8h0m0.1 -3.4h0m0 3.4h0m0.2 -2h0m0.1 1.9h0m0.3 -1h0m0.9 1.7h0m0.1 -3.7h0m1 1.9h0m0.3 -2.3h0m0.3 4.1h0m0.1 -4.5h0m0.6 -0.1h0m0.3 3.4h0m0 -1.3h0m0.3 -0.8h0m0.3 1.5h0m43.1 -0.3h0m0.3 -2.3h0m0.2 1.7h0m0.4 -0.6h0m0.1 -0.8h0m0.1 4.2h0m0.1 -1.4h0m0.1 -0.7h0m0.1 2.2h0m0.7 -1.4h0m0.6 -3.2h0m0.4 1.6h0m0.2 1.4h0m0 0.8h0m0.4 0.7h0m0.1 -4.3h0m0.6 3.9h0m0.1 -0.5h0m0.1 -1.9h0m0 0.1h0m1 2.6h0m0.2 -0.5h0m0.2 -3.4h0m0.3 2.2h0m0.8 1.2h0m0.4 -0.5h0m3.3 -1h0m2.3 1.9h0m0.6 -4.4h0m2.3 0.7h0m8.9 4.1h0m-123.6 1.2h0m27.1 1.9h0m1.6 -0.2h0m2.5 1.3h0m7.1 -1.5h0m1.8 1.7h0m0.1 0.5h0m1.4 -1.1h0m0.1 -2.8h0m1 2.6h0m0.2 -2h0m0.1 2.9h0m1.3 -2.5h0m0.6 1.9h0m0.3 0.9h0m0.6 -3.3h0m0.1 2.2h0m0.3 -2.1h0m0.4 1.2h0m0.4 0.9h0m0.1 -0.9h0m0.5 -1.6h0m0.2 -0.5h0m0.9 2h0m0.2 1.5h0m1.6 -0.3h0m0.1 0.7h0m0 0.3h0m1.3 -2.4h0m0.2 -0.8h0m0 1.5h0m0 -2.8h0m0.3 0.8h0m0.1 0.9h0m0.3 0.8h0m0 1.7h0m0.2 -2.4h0m0.4 2h0m0.1 -4.1h0m0.6 1.6h0m45.5 -0.8h0m0.1 0.1h0m0.5 0.2h0m0.1 2.6h0m0 -2.5h0m0.1 -0.7h0m0.4 3.9h0m0.4 -1.1h0m0.7 -0.3h0m0.2 -1.7h0m0.2 2h0m0.7 -0.1h0m0 -1.4h0m0.4 -0.2h0m0.4 0.4h0m0.1 1h0m0.7 -0.8h0m0.4 -0.9h0m2 3.1h0m0.8 -1.2h0m0.2 0.9h0m0.4 0.4h0m0.3 -3.6h0m0.1 1.1h0m0.6 2.1h0m2.8 -0.6h0m1.2 -2.6h0m4.9 3.3h0m0.6 -0.4h0m-122.8 3.2h0m21.1 1.7h0m9.7 -3h0m1.9 0.5h0m2.6 0h0m3.7 1.4h0m0.5 0.8h0m1.1 -0.6h0m0.6 0.4h0m0.6 0.7h0m0.1 -0.3h0m0.2 -2h0m0.3 -1.4h0m4.2 1.4h0m0.5 2.9h0m0 -3.8h0m0.5 3.4h0m0.2 -2.3h0m0.1 -0.4h0m1.2 3h0m0.4 -1.1h0m0.1 -3h0m0.4 0.1h0m0.9 3.1h0m0 -3.3h0m0.1 -0.3h0m1 4.7h0m0.5 -3.5h0m0.3 3h0m0 -2.4h0m0.3 2.3h0m0.4 -1.6h0m0.2 1.4h0m0.5 -3.3h0m0.3 0.6h0m0.1 -0.2h0m0.2 2.4h0m0.3 -2h0m0.2 3.3h0m0.7 0h0m0 -0.4h0m0 -1.6h0m0.5 2h0m0.1 -0.4h0m0 -3.5h0m0.1 1.4h0m1.1 -1.7h0m46.8 2.8h0m0.2 -0.3h0m0.1 -1.3h0m0.2 0.5h0m0.5 -1.7h0m0.2 4.1h0m0.1 0.2h0m0.1 -2.8h0m0.3 2.6h0m0.1 -1.6h0m0.5 -1.7h0m0.3 1.5h0m0.7 -2.7h0m0.7 2.2h0m0.6 -1.2h0m0 -0.2h0m2.4 -0.6h0m0 3.5h0m0.5 -3.4h0m0.8 -0.2h0m3.8 3.7h0m3.5 -3.7h0m1.6 4.2h0m0.7 -0.3h0m0.1 -3.2h0m3.7 4h0m-115.5 0.4h0m9 1.7h0m0.8 0.2h0m5.9 0.5h0m0.4 -0.1h0m1.4 1.8h0m3.7 0.3h0m5.5 -1.4h0m5.6 -3.1h0m1.1 2.9h0m0.1 1.3h0m0.1 -2h0m0.2 0.3h0m0 0.5h0m1.6 0.7h0m0.8 0.9h0m0.4 -4h0m0.6 1.5h0m0.2 0.7h0m0.3 -2.2h0m0.3 3.7h0m0.9 -0.6h0m0.3 -3.4h0m0.1 1.6h0m0.4 -0.9h0m0.4 0.6h0m0.6 1.6h0m0.7 -2.5h0m0.4 3.1h0m0.1 -0.8h0m0.3 -2.1h0m0.3 3.5h0m0.1 -0.9h0m0.3 0.1h0m0.2 -1.9h0m0.2 -1h0m0.3 2.9h0m0.6 1.1h0m0.2 -3.2h0m0.1 -0.3h0m0.1 0.4h0m0.2 0.8h0m0.8 -0.2h0m0.3 1.6h0m0.7 -2.6h0m0 -0.6h0m0.6 2.3h0m0.2 1.7h0m45.8 -4.3h0m0.4 3.1h0m0.6 -1.7h0m0.1 3h0m0.2 -1.3h0m0.6 -2.7h0m0.5 2.7h0m0.6 -1h0m0.1 -2.3h0m0.1 1.6h0m0.1 0.5h0m0.5 -1.2h0m0 3.2h0m1 -0.1h0m0 -2.8h0m0.3 1.9h0m0.5 -1.2h0m0.6 1.1h0m0.6 1.4h0m0.6 -4.3h0m0.9 3.6h0m1 -2h0m0.2 -0.2h0m1.1 3.1h0m0.2 -3.5h0m0 3.2h0m0.2 -3.1h0m8.4 1.5h0m10.3 -2.9h0m-133.1 6.3h0m30 0.6h0m4.7 0.8h0m2.3 1.4h0m3.2 0.7h0m4.5 -3h0m1 0h0m0.1 0.8h0m0.5 -1h0m0.3 2.7h0m0.5 -0.3h0m1.2 -1.5h0m0.1 1.6h0m1 -3.2h0m0.4 3h0m0 0.7h0m0.5 -4.7h0m0.1 4.1h0m1.3 -1.3h0m0.2 -0.4h0m0 -1.9h0m0 4.5h0m1.3 -2.2h0m0.5 -1.7h0m0.1 3.5h0m0.3 -3.4h0m1 -0.2h0m0.1 2h0m0.4 -0.5h0m0 0.9h0m0.2 0.2h0m0.6 -1.9h0m0.3 -0.9h0m0.7 2.6h0m0 -1.9h0m0.4 3.3h0m1.2 -0.6h0m0.2 0.2h0m42.7 -1.6h0m0.3 1.1h0m0 0.7h0m0.1 -2.4h0m0.2 1.5h0m0.1 -3.5h0m0.5 3.6h0m0.1 0.8h0m0.5 -2.2h0m0.3 0.5h0m0.1 0.9h0m0.5 -2.9h0m0.2 -0.1h0m0.6 0h0m0.1 3.6h0m0 -3.6h0m0.9 2.9h0m1.5 -1.9h0m0.1 0.8h0m0.3 0.7h0m0.2 -2.8h0m0.1 1.3h0m1.8 -1.7h0m0.1 1.7h0m2.7 -1.6h0m0.8 3.4h0m2.2 0.6h0m6.2 -3.7h0m7.3 -0.3h0m-96.2 9.3h0m5 -4.1h0m4.5 4.4h0m1 -2.2h0m0.3 0.8h0m0.1 -0.2h0m2.1 -3h0m0.4 0.4h0m1.7 -0.4h0m0.2 3.4h0m0.6 -1.1h0m0.9 -1.5h0m0.1 -0.4h0m0.2 1.8h0m0 -1.9h0m0.1 2.3h0m0.4 -0.7h0m0.7 1.4h0m0 -2.1h0m0.6 2.9h0m0.1 -4.2h0m0.3 3.4h0m0.2 -2.2h0m0.2 -0.5h0m0.1 2.2h0m1.3 -1.7h0m0.3 1.1h0m0.1 2.2h0m0.1 -4.5h0m0.3 0.3h0m0 2.6h0m0.2 -0.6h0m0.7 -1.8h0m0 2.8h0m0.5 -0.9h0m0.1 -0.5h0m0.4 2.6h0m0.1 -1.5h0m0 0.7h0m0.4 -3.5h0m0.1 1.3h0m0.1 0.4h0m0.1 1.3h0m0.7 0h0m0.3 -1.2h0m0.6 2.7h0m0.1 -4.6h0m0.7 2.8h0m0.4 0h0m0.5 1h0m37.8 -0.7h0m0.3 0.6h0m0.7 -1.2h0m0.3 -0.4h0m0 1.5h0m0.1 -2.6h0m0.6 3.1h0m0.2 -1.4h0m0 -1h0m0.4 -1.5h0m0.2 4h0m1.8 -0.5h0m1.3 -3h0m0.6 0.1h0m0.4 -0.6h0m1.1 2.5h0m2.4 1.1h0m1 -0.1h0m0.2 -2.3h0m0.5 1.7h0m1.5 -0.1h0m0.1 -1h0m0 -1.4h0m3 3.7h0m1.8 -1.8h0m1.5 -0.7h0m1.1 -1.9h0m0.1 0.5h0m2.1 3.7h0m7 -2.1h0m-89.3 7.2h0m0.2 -4.3h0m1.3 0.4h0m0.6 1.9h0m1 0.4h0m1.5 -1.6h0m0.5 0.9h0m1.4 0.8h0m1.1 0.2h0m0.5 1.1h0m0.9 -0.8h0m1 -1.3h0m0.6 0.4h0m0.2 2.3h0m0.6 -3.3h0m1 1h0m0.1 -0.8h0m0.3 -0.3h0m0.4 -1.4h0m0.8 0.6h0m0.2 0.9h0m1.6 -0.4h0m0 0.7h0m0.2 3h0m0.2 -0.9h0m0 -2.2h0m0 1.4h0m0.2 -2.2h0m0 2.2h0m0.6 -2.6h0m0.7 3.3h0m0.1 -2.2h0m0 1h0m0.6 -1.4h0m0.2 0.4h0m0.4 -1h0m0.6 3.8h0m0.1 -0.8h0m0.8 -1.7h0m0.4 -1.6h0m0 2.2h0m0.2 1.3h0m0.1 -1.3h0m0.1 -1.5h0m0.1 2h0m0.2 1.9h0m1 -2.6h0m0.4 -0.6h0m0.2 0.8h0m0 1.1h0m1 -0.7h0m0.1 1.4h0m0.6 0h0m2 -0.6h0m0.6 0.8h0m26.6 0.3h0m0.4 -0.3h0m0.1 0.3h0m0.3 -1.7h0m0.8 0.3h0m0.4 1.4h0m0.2 -3.2h0m1 1.6h0m0.4 -2.1h0m0.5 2.7h0m0.4 -2.5h0m0.2 3.7h0m0.1 -4.6h0m0.1 3.1h0m0.1 -0.8h0m0.9 1.7h0m0.6 -1h0m0.3 -2.3h0m0.1 2.2h0m0.5 -1h0m0 1.8h0m0.6 0.4h0m0.1 -3.3h0m0.2 1.9h0m0.6 -0.2h0m0.1 0.5h0m0.7 -3h0m2.8 2.6h0m0.5 1h0m1.2 -0.3h0m0.5 -2.2h0m1.4 0.7h0m0.4 0.1h0m7.9 -0.3h0m-102.2 3.2h0m18.9 0.5h0m3.9 1.9h0m4.8 1.2h0m4.5 1h0m0.9 -2.6h0m1 0.5h0m0 -1.4h0m0.2 2.2h0m0.2 -0.1h0m1.6 0.1h0m0 0.9h0m0.6 -3.8h0m1.6 3h0m0 -0.4h0m0.4 -0.5h0m0.8 0.8h0m0.1 0.7h0m0.2 -3.3h0m1 1.1h0m0 2.7h0m0.5 -3.8h0m0.7 0.4h0m0.8 -0.5h0m0.4 3.8h0m0.2 -3.1h0m0.2 -0.9h0m0.1 2h0m0.2 -1.1h0m0.7 0.5h0m1.1 -0.2h0m0.2 -1h0m0.3 -0.3h0m0.1 1.7h0m0 2h0m0.3 0.6h0m0.2 -4.4h0m1.3 2.7h0m0.3 -1.5h0m0.6 -0.8h0m0.1 1.4h0m0.2 1h0m0.5 0.7h0m0.2 -2.3h0m0 -0.4h0m0.3 2.5h0m0.2 -2.9h0m0 3.4h0m0.3 0.5h0m0.9 -1.5h0m0.6 -1.5h0m0.5 0.2h0m0.3 1.2h0m1.3 -1.3h0m0.2 1.1h0m0 0.5h0m0.7 -2.1h0m1.2 1.2h0m0.1 1.5h0m0 -2.4h0m1.2 2.3h0m0.6 0.3h0m1.4 -0.3h0m0.4 -0.3h0m0.8 0.8h0m1.8 -1.1h0m0.5 1.6h0m0.3 -0.4h0m0.2 -0.3h0m0.2 -0.1h0m1.4 0.3h0m1.2 -0.2h0m1 0.5h0m0.8 -0.2h0m1 -1.8h0m1 0.3h0m0.7 0.9h0m0.1 -1.6h0m1.5 1.1h0m0.3 1.4h0m0.6 -3.3h0m0.1 2.6h0m0.4 -0.4h0m0.1 -0.7h0m0.1 -2.1h0m0.7 3.9h0m0.3 -2.7h0m0.2 0.5h0m0.2 0.3h0m0.5 -1.4h0m0.2 1.5h0m0.2 0.2h0m0.5 -2.9h0m0.1 3h0m0.2 -2.3h0m0.3 1.8h0m0.5 -0.6h0m0 -0.3h0m1.3 1.4h0m0.9 -3.2h0m0 1.5h0m0.1 1.7h0m0.2 -1.4h0m0.5 0h0m0.8 2.4h0m0.6 -1h0m0.9 -2.3h0m0.1 1.6h0m0.3 1.7h0m0 -1.6h0m0.3 1.7h0m0 -1.5h0m2.2 -0.9h0m0.1 1.9h0m0.2 0.1h0m0.6 -1.5h0m2.1 -0.8h0m0.4 0.4h0m0.3 -0.2h0m1.2 -1.6h0m1.3 1.6h0m0.5 2.9h0m0.6 -2.5h0m1.2 2.6h0m0.6 -2.9h0m1 -0.1h0m0.4 -1h0m2.1 1.3h0m2.9 -2h0m1.5 3h0m1.4 1.3h0m-102.8 2.2h0m4.5 -1h0m20.5 0.3h0m0.1 3.4h0m5.8 -1.5h0m1.7 -1.4h0m0.7 -1.2h0m0.7 1.9h0m1.4 -0.5h0m0.2 -1.5h0m0.7 0.4h0m0.7 3.8h0m0.9 -2.7h0m0.4 -0.7h0m1.4 0.8h0m0 2.5h0m0.3 -4.2h0m0.1 3.1h0m0.5 -2.8h0m0.3 0.3h0m0.7 3.9h0m0.2 -0.9h0m1.3 -3h0m0.2 0.9h0m0.7 1h0m0.8 -2.6h0m0.5 1h0m0.3 3.4h0m0.7 0.4h0m0.1 -2.5h0m0.6 -1h0m0.4 -1h0m0.3 1.9h0m0.7 1.1h0m0.6 -3.2h0m0.1 3.2h0m0.2 -3.3h0m0.3 1.1h0m0.4 3h0m0.5 -4.1h0m0.1 1.6h0m0.5 -1.5h0m0.3 3.1h0m0.6 -0.3h0m0.6 -1.2h0m0.2 -1.6h0m0.7 2.7h0m0.2 0.6h0m0 1.4h0m0.3 -4.4h0m0.1 2.9h0m0.1 -1.5h0m0.4 3.2h0m0.2 -3.1h0m0.1 3.1h0m0.3 -0.4h0m0.5 -1.2h0m0.1 -1.6h0m0.5 -1.5h0m0.1 3.4h0m0.2 -2.8h0m0.8 0.6h0m0.2 -0.4h0m0 2.9h0m0.6 -1.9h0m0.1 -1.2h0m0.4 3.3h0m0.1 -1h0m0.1 -2.4h0m0.2 1.1h0m0.6 -1.1h0m0.5 2.8h0m0.2 -1.9h0m0.8 2.4h0m0.4 0.2h0m0 -0.9h0m0.1 0.9h0m0 -3h0m0 1.3h0m0.7 2h0m0.5 -4.5h0m0.2 3.6h0m0.7 -3h0m0.3 1.2h0m0.1 -1.7h0m0.3 1.4h0m0.5 0.9h0m0.9 1.6h0m0.2 0.9h0m0.6 -4.1h0m0 1h0m0.5 2h0m0.6 0.2h0m0.2 -2.4h0m0.1 -1.7h0m0.2 0.2h0m0.8 2.5h0m0.1 2.2h0m0.1 -1.6h0m0.5 -3.3h0m0.5 1.3h0m0.2 -0.7h0m0 0.1h0m0.4 1.3h0m0.2 -2h0m0.4 4.9h0m0.1 -2.7h0m0.3 0.5h0m0.9 0h0m0.2 -1.7h0m0.1 2.9h0m1.6 1h0m0.4 -1.7h0m0.4 0.3h0m0.5 -1.2h0m0 1.6h0m0.9 -1.1h0m0.3 0.5h0m0.1 -3.2h0m0.2 3.4h0m0.5 -1.6h0m0.7 2.3h0m0.2 0.3h0m0.5 -4.3h0m0.1 2.2h0m0.9 -2h0m0.7 4.1h0m2.6 -3.4h0m1.3 0.1h0m0.4 -0.3h0m2.9 -0.4h0m6.5 1.8h0m2.9 1.1h0m13.3 -1.2h0m-101.9 3.6h0m13 -0.2h0m0.7 2.3h0m13.1 1.3h0m3.2 -0.8h0m1.3 0.8h0m3.1 -2.1h0m0.3 1.6h0m2.5 0.6h0m0.1 -1.5h0m1.6 -1.9h0m0.1 2.4h0m0.1 1.4h0m0.2 -3.9h0m0.7 -0.7h0m0 1.8h0m0.9 0.5h0m0.1 1.4h0m2.2 -0.7h0m1.5 -2h0m0.6 2.3h0m0.4 -3.1h0m1.5 2.7h0m0.7 0.6h0m0.3 -1.5h0m0.4 1.5h0m0.9 -3.2h0m0.3 3.2h0m0.4 -0.8h0m0.1 0.7h0m0 -2h0m2.4 2.5h0m0.3 -3.4h0m0.3 2.2h0m0.4 2h0m0.9 -2.9h0m0.5 2.8h0m0.1 -2.8h0m1.3 0.1h0m0.9 0.9h0m0.9 -1.9h0m0.6 2.2h0m1 -2.4h0m0.4 2.5h0m1.9 0.7h0m0.2 0.5h0m0.9 -0.6h0m1 -0.4h0m0 -2.6h0m0.6 -0.6h0m0.3 3.3h0m0.4 -2.3h0m0.7 -1.1h0m0.2 2.2h0m0.4 2.5h0m0.7 -2.1h0m1.1 0.9h0m0.3 -0.1h0m0.7 -0.3h0m0 -0.7h0m0.5 -0.8h0m0.1 1.4h0m0.2 -0.5h0m2.1 -1.5h0m0.1 2.7h0m2.1 -2.8h0m0.2 1h0m2.8 -1.4h0m1.4 1.5h0m1 -1.3h0m5 0.9h0m13 1h0m-82.1 6.5h0m0.7 -3.2h0m4.4 -0.7h0m2.6 1.5h0m0.9 3.1h0m4.4 -3.5h0m1.5 -1.5h0m1.4 4.4h0m1.1 -3.5h0m0.6 0.6h0m0.8 -0.2h0m0.6 -0.1h0m2 1.5h0m1.6 0h0m1.9 -1.5h0m0.8 -0.7h0m0.4 -0.4h0m1.5 1.1h0m1.6 0.4h0m0.6 -1.5h0m0.7 2h0m0.6 -1.2h0m1.9 2.1h0m0 -0.3h0m0.9 -1.6h0m2.8 -0.7h0m0.4 1.4h0m0.2 -0.1h0m1.1 0.6h0m0.6 -1.7h0m0.5 -0.1h0m3.6 2.9h0m0.4 -0.6h0m1.1 1.1h0m0.1 -0.6h0m1.1 -0.9h0m0 1.6h0m0.6 -1h0m0.9 -1.8h0m0.6 2.9h0m0.8 -3.6h0m4 0.2h0m0.6 1.7h0m0.9 -1.8h0m1.2 0.1h0m1.6 2.4h0m0.3 -1h0m3 -0.8h0m0.6 -0.2h0m2.4 -0.5h0m1.5 0.5h0m0.9 3.6h0m5 -3.5h0m-85.9 8h0m4.8 -0.8h0m2.3 -3.1h0m4.8 1.7h0m2.5 -1.1h0m2 -0.3h0m1.5 4h0m11.8 -4h0m1.6 2.1h0m2.3 1h0m1.1 -0.3h0m3.2 -0.8h0m2.8 -2.4h0m0.6 3.4h0m7.6 1h0m2.6 -2h0m1.3 0.5h0m0.8 -0.7h0m2.1 -0.6h0m0.6 1h0m1.5 -1.3h0m0.2 3.2h0m5.7 -0.3h0m0.7 0.2h0m6.9 -3.2h0m6.5 -0.2h0m-66 4.9h0m1.3 3.8h0m7 -2h0m12 -1.7h0m6.9 1.5h0m1.7 -0.2h0m1.1 1.1h0m2.6 -2.1h0m5.9 1.4h0m2.8 -0.6h0m1.3 2.2h0m5.8 -0.5h0m3.4 -3.2h0m0.2 2.7h0m2.1 -3.4h0m7.3 0.8h0m-60.5 5.2h0m21 -0.7h0m0.1 3.9h0m2.4 -1.3h0m16.2 -0.9h0m3.8 2.8h0m1.7 -4.6h0m8.6 2.9h0m0.4 0.8h0m5 -2.2h0m1.4 1.8h0m2.3 -2.9h0m-62 8h0m18.2 -1.1h0m12.4 -2.2h0m15.3 -0.1h0m20.8 1.9h0m3.6 -1.5h0m-76.7 7.7h0m23 -0.1h0m44.7 1h0m-2.2 0.8h0m16.7 8.6h0m-56 6.3h0m13.9 6.1h0m-24.7 8.8h0" fill="none" stroke-width="2.4" stroke-linecap="round"/>
</g>
<rect x="26.5" y="4.5" width="192" height="191" fill="none" stroke="#a4a4a4" stroke-width="1"/>
<text x="26.5" y="208" text-anchor="middle">-0.12</text>
<text x="64.9" y="208" text-anchor="middle">-0.1</text>
<text x="103.3" y="208" text-anchor="middle">-0.08</text>
<text x="141.7" y="208" text-anchor="middle">-0.06</text>
<text x="180.1" y="208" text-anchor="middle">-0.04</text>
<text x="218.5" y="208" text-anchor="middle">-0.02</text>
<text x="23.1" y="8.1" text-anchor="end">0.01</text>
<text x="23.1" y="29.32" text-anchor="end">0</text>
<text x="23.1" y="50.54" text-anchor="end">-0.01</text>
<text x="23.1" y="71.77" text-anchor="end">-0.02</text>
<text x="23.1" y="92.99" text-anchor="end">-0.03</text>
<text x="23.1" y="114.21" text-anchor="end">-0.04</text>
<text x="23.1" y="135.43" text-anchor="end">-0.05</text>
<text x="23.1" y="156.66" text-anchor="end">-0.06</text>
<text x="23.1" y="177.88" text-anchor="end">-0.07</text>
<text x="23.1" y="199.1" text-anchor="end">-0.08</text>
<path d="M64.9 195.5v-2M64.9 4.5v2M103.3 195.5v-2M103.3 4.5v2M141.7 195.5v-2M141.7 4.5v2M180.1 195.5v-2M180.1 4.5v2M26.5 25.7222h2M218.5 25.7222h-2M26.5 46.9444h2M218.5 46.9444h-2M26.5 68.1667h2M218.5 68.1667h-2M26.5 89.3889h2M218.5 89.3889h-2M26.5 110.611h2M218.5 110.611h-2M26.5 131.833h2M218.5 131.833h-2M26.5 153.056h2M218.5 153.056h-2M26.5 174.278h2M218.5 174.278h-2" stroke="#a4a4a4" stroke-width="1" fill="none"/>
<text class="t i" transform="translate(45.4 21.2) scale(1.12 1)">W</text>
<text class="t e" transform="translate(62.5 22.5) scale(1.4 1)">=</text>
<text class="t n" transform="translate(74.4 21.2) scale(1.04 1)">20</text>
</g>
<g>
<g fill="#0000ff" stroke="#0000ff">
<ellipse cx="362" cy="57" rx="20.3848" ry="19.5694" transform="rotate(0 362 57)" stroke="none"/>
<path d="M348.2 9.4h0m0.1 2.2h0m24.1 -1.1h0m-29.5 3.7h0m5.5 -1h0m8.4 2.1h0m18.1 -0.2h0m44.1 0.3h0m-78.9 5.3h0m6.2 0.2h0m6.3 -0.7h0m6.3 -1.5h0m1.4 3.7h0m2.2 -0.7h0m2.2 0.8h0m2.5 -1.6h0m0.3 1h0m2.6 -1.8h0m4 2.4h0m4.6 -3.4h0m-34.1 7.8h0m3 -1.4h0m0.5 -2.3h0m0.2 1.1h0m3.5 -0.6h0m4.9 1.7h0m0 -0.4h0m0.9 1h0m4.2 0h0m2 -1.8h0m4.7 2.3h0m7.2 -2.8h0m2.3 2.6h0m0.2 0h0m32 -0.1h0m-74.3 4.1h0m1.5 -0.2h0m0.7 2h0m4.1 -4.5h0m2.6 4.9h0m2.6 -3.7h0m0.2 3h0m0.9 0.2h0m1.1 -4.3h0m0 3.8h0m2.3 -3.1h0m0.4 3.8h0m0.3 0.1h0m0.4 -1.6h0m0.6 1.1h0m0.4 -3.2h0m1.6 1.6h0m1.7 -2.7h0m2 3.3h0m0 -0.4h0m0.2 0h0m0.1 0.8h0m0.1 1.2h0m0.6 -0.4h0m0.4 -3.7h0m0.6 1.8h0m0.1 1.1h0m0.1 1.3h0m0.2 -0.9h0m0.5 -3h0m3.2 0.3h0m0.4 2.1h0m0.1 0.6h0m0.6 -2.3h0m0.1 -0.7h0m0.2 2.8h0m1.7 0.4h0m2.1 -4.2h0m1.9 4.1h0m0.3 -1.7h0m0.4 -1.6h0m1.4 3.9h0m0.7 -3.6h0m0.1 2.8h0m0.6 -0.3h0m0.4 -3.5h0m0.7 4.6h0m0.5 -0.6h0m2.3 -0.2h0m0.4 1h0m1.8 -4.4h0m3 3.2h0m5.4 -3h0m5.5 3.5h0m-90.5 5.4h0m27.6 -2.9h0m0.1 3h0m2.4 -0.5h0m1.8 -2.4h0m4.3 1.8h0m0.9 -0.4h0m1.1 0.7h0m1.4 0.5h0m0.1 -3.5h0m0.8 3.3h0m0.1 -3.5h0m0 3.9h0m0.3 -2.6h0m0.2 1.3h0m1.3 0.9h0m0.3 -1.8h0m1.5 -1.2h0m0.2 1h0m0.6 -1.5h0m0.3 2.3h0m0.9 -1.9h0m0.2 3.6h0m0.5 -3.7h0m1.8 3.5h0m0.2 -4.1h0m0.2 4.3h0m0.7 -4.5h0m0 2.3h0m0.1 -0.2h0m0.3 0.5h0m0.6 1.2h0m0.2 -1.1h0m1.2 1.9h0m0 -1.3h0m0.9 -1.6h0m0 2.9h0m0.2 -0.8h0m0.1 -0.1h0m0.3 -2h0m0.9 2.5h0m0.2 0.3h0m0.5 0.1h0m0.2 -1.2h0m0 -1.5h0m0.1 1.2h0m1 -1.7h0m0.3 2.4h0m0.5 -2.8h0m0.2 2.2h0m0.4 0.5h0m0.3 0.1h0m0.3 -1h0m0 -0.6h0m0.1 1.6h0m0.1 0.3h0m0.2 -3.9h0m0.2 0.1h0m1.4 2.2h0m0.1 0.9h0m0.8 -2.1h0m1.1 1.8h0m0.5 -1.8h0m0 -0.1h0m0.6 -0.3h0m0.3 0h0m0.3 1.7h0m0 1.7h0m0.3 -3.3h0m0.1 0.9h0m0.8 -2.1h0m0.9 4.2h0m0.7 -1.9h0m0.9 1.5h0m0.4 -0.4h0m0.1 -1.3h0m0.1 2.6h0m0.9 -2.2h0m0.7 1.5h0m0.2 -3h0m0.3 3.7h0m0.1 -2.3h0m0.8 -1h0m0.8 1.2h0m0 2.1h0m0.3 -0.2h0m0.4 0.1h0m0.9 -2.4h0m2.4 -0.5h0m1.4 2h0m0.6 -2.2h0m2.1 -1.5h0m0.4 4.5h0m0.6 -2.1h0m0.1 -0.2h0m5.6 -1.1h0m11.3 3.1h0m-70.8 4h0m4.4 1.2h0m0.7 -1.4h0m0.3 1.9h0m1.4 -0.4h0m0.1 -0.7h0m0.5 -3.5h0m1.1 4.2h0m0.8 -0.1h0m1 -2.7h0m0.2 -1.1h0m0.1 3h0m0.7 0.7h0m0.3 -1.4h0m0.4 -1.1h0m0.1 2.9h0m1.2 -1.3h0m0.2 0.5h0m0.2 -1.7h0m0.1 0.9h0m0.3 0.2h0m0.2 -3h0m0.8 4.4h0m0.1 -0.4h0m0.3 -3.8h0m0.7 3.4h0m0.2 -0.1h0m0.1 -1.4h0m1.1 -0.5h0m0.4 0.6h0m0.5 -1.2h0m0.8 0.8h0m0.8 -2h0m0.9 1.5h0m1.2 -0.2h0m0.3 -1.4h0m1.9 0.5h0m1.4 -0.4h0m0.6 -0.1h0m5.4 0.9h0m0.1 -0.8h0m1.7 0.1h0m1.6 1.6h0m0.9 -1.9h0m0.7 0.5h0m1.5 1.8h0m0.3 0.9h0m0 -2.9h0m1.2 1.6h0m1 -1.7h0m0 2h0m0.1 1.4h0m0.4 1.2h0m0.1 -2.9h0m0.4 2.9h0m0.1 -0.4h0m0.1 -3.6h0m0 0.9h0m0.5 0.9h0m0.1 -2.4h0m1 2.6h0m0.2 0.7h0m0.8 -0.2h0m0.4 1.2h0m0.2 -2.1h0m0.3 0.4h0m0.8 1.6h0m0.3 -1.5h0m0.7 -1.9h0m0.5 -1h0m0.1 2.7h0m0.2 -2h0m0.2 -0.5h0m0.2 4h0m0.5 -3.9h0m0.1 3.3h0m0.2 0.2h0m0.4 0.7h0m0 -1.3h0m0.1 -2.7h0m1.5 0h0m0.1 4.3h0m0.6 -4.8h0m0.3 3.1h0m0.9 -0.6h0m0.4 2.2h0m0 -1.7h0m0.2 0h0m0.9 -0.5h0m1.8 1.4h0m0.8 -3.3h0m0.6 3h0m0.5 -0.1h0m3.1 0.8h0m6.3 -3.9h0m19.6 1.5h0m-93.7 7.5h0m1.6 0.4h0m2 -3.9h0m0.1 4h0m2.4 -3.6h0m0.3 0.9h0m1.5 -0.1h0m1.1 -0.2h0m0.6 0.3h0m2.1 1.9h0m0.3 0.7h0m0.3 -4.5h0m0.4 2.1h0m0.4 1.7h0m0.5 -0.8h0m0.9 1.1h0m0 -4.1h0m0.4 0.4h0m0.5 4.1h0m0.3 -2.5h0m0.1 0.6h0m0.2 -1.6h0m0.1 3.2h0m0.1 -4.1h0m0.6 3.6h0m1.3 -3.9h0m0.7 4.3h0m0 -1.9h0m0.1 0h0m1.8 -2h0m28.9 -0.4h0m0.3 1.6h0m0.6 -1.3h0m0.3 2.8h0m0.4 -0.7h0m0.1 -1.9h0m0.2 2.8h0m1.2 -3.2h0m0.3 1.5h0m0 -1.1h0m0.3 3.8h0m0.1 -0.7h0m0.1 0.7h0m0.4 -4h0m0.2 1.4h0m0.3 0.7h0m0.2 1.7h0m0.5 -2.8h0m0.9 2.8h0m0.1 -4.1h0m0.3 4.1h0m0.4 0.4h0m0.2 -1h0m0 -1h0m0.4 -1.2h0m0.5 1.5h0m0.8 -1.5h0m0.2 -0.9h0m0.2 3.3h0m1.4 -1.1h0m0.1 1.9h0m0.6 -3.7h0m0.1 -0.1h0m0.9 2.7h0m1 0.6h0m0.3 -2.5h0m3.4 1.4h0m6.3 -0.9h0m5.3 2h0m0.3 -2.7h0m11.2 3.3h0m-102.9 1.6h0m8.1 0.1h0m1.5 3h0m4.8 -1.4h0m0.4 -1.3h0m1.7 2.8h0m1.1 -0.5h0m0.7 -3.7h0m0.9 3.9h0m2.6 -2.9h0m0.1 -0.1h0m0.6 0.9h0m0.5 -0.3h0m0.2 0.2h0m1.2 0.3h0m0.4 2.2h0m0 -1.1h0m0.6 0.7h0m1 -3h0m0 2.9h0m0.1 -2.6h0m1.8 1.6h0m0.9 -2.4h0m36.9 0.2h0m0.4 2.6h0m0.5 0h0m0.1 -2.4h0m0.8 0.2h0m0.3 1.4h0m0.2 -1.4h0m0.1 -0.6h0m0.2 3.6h0m0.1 -2.1h0m0.6 1.1h0m0.1 0.2h0m0.8 1.3h0m0.1 -3.2h0m0.4 -0.8h0m0 3.7h0m0.6 0h0m0.8 -3.9h0m0.2 4.1h0m0.2 -1.9h0m0.5 -1h0m0.9 1.1h0m0.3 -1.2h0m0.5 1.7h0m0.3 1.2h0m0.1 -0.5h0m1.3 0.7h0m0.2 -2.3h0m0.2 -2h0m1.1 3.1h0m1.6 -2.3h0m7.9 2.1h0m31.4 0.9h0m-106.7 0.9h0m0.8 4.1h0m2.5 0.1h0m1 0.6h0m2.8 -3h0m0.2 -0.3h0m0.7 -0.1h0m1.9 -1.3h0m0.3 4.6h0m0.4 -4.2h0m0.4 2.8h0m0.8 -2.8h0m0.3 1.7h0m0.5 0.7h0m0 0.9h0m0.5 1h0m1.2 -4.3h0m1.1 0.5h0m40.1 3.7h0m0.1 -1.5h0m0.2 -2.1h0m0.1 2.8h0m0.1 -3.9h0m0.7 1.3h0m0.3 3.5h0m0.4 -1h0m0.3 -1.5h0m0.1 -0.2h0m0.9 0h0m0.3 -1.1h0m0.2 0.1h0m0.2 -0.7h0m0 2.8h0m0.1 0.5h0m0.1 0.7h0m0.1 -4.3h0m0.9 4.7h0m0.5 -4.8h0m0.3 0.9h0m0.3 -0.7h0m0 3.4h0m0.3 0.7h0m0.8 -1.7h0m0.2 -1.2h0m0.5 2.5h0m0.4 -3.9h0m1.9 4.6h0m1.1 -0.7h0m0 -1.7h0m4.8 2.4h0m3.8 -3.9h0m0.9 -0.4h0m-75.8 5.3h0m0.5 1.2h0m3.3 -0.7h0m4.3 -0.5h0m2.2 0.6h0m0.1 -1.1h0m0.7 1.5h0m2 -1.5h0m0.3 2.6h0m0.6 -2.1h0m0 1.2h0m0.3 0.7h0m0.1 -0.3h0m0.6 -1.9h0m38.6 4.6h0m0.8 -3.2h0m1.1 1.6h0m0.4 0.2h0m0.7 -2.4h0m0.5 3.5h0m0.6 -1.3h0m0.6 1.3h0m0.1 -3.5h0m0.1 2.2h0m0.9 -3.1h0m1 2.3h0m0.4 1.1h0m0.3 -2.8h0m0 2.5h0m0.1 0.8h0m0.8 -0.8h0m0.4 0.8h0m0.2 -2.7h0m0.1 0.1h0m0.8 0.7h0m0.8 -1.4h0m0.1 0.4h0m4.9 1.8h0m0.2 -2.1h0m15.6 -1h0m-31.9 6.2h0m0.5 1.6h0m0.7 -2.4h0m0.7 0.9h0m0.5 1.5h0m0 -1.5h0m0.5 -0.6h0m2.6 -0.5h0m0.1 0h0m0.6 3.8h0m0.6 0h0m0.2 -3.8h0m1.2 1h0m0.6 1.2h0m0.4 -0.4h0m0.4 2.4h0m0.6 -4h0m0.1 1.6h0m0.6 2h0m0.3 -2h0m0.6 1h0m0.2 0.3h0m0.9 1.5h0m0.4 -2.4h0m0.2 0.7h0m4.7 1.2h0m1.8 -1h0m8.6 -0.4h0m-31.1 6.8h0m0.1 -1.3h0m0.9 -0.5h0m0.3 -1.5h0m2.3 0.6h0m0 1.2h0m1.1 -1.9h0m0.1 2.2h0m1.6 -3.4h0m0.3 3.2h0m0.3 1.5h0m1.2 -2.1h0m1.1 -0.4h0m0 1.4h0m0.4 -2.6h0m0.2 3.1h0m0.2 -1.3h0m0.2 -0.3h0m1.2 -2.1h0m0.4 3.7h0m0 -2.5h0m5 -0.1h0m0.2 3h0m0.3 -2.1h0m0.9 -0.9h0m1.7 2.8h0m2.6 -4.3h0m2.6 2h0m-20.7 7.5h0m0.2 -0.5h0m1.3 -3.5h0m1.5 4.1h0m0.2 -1.2h0m2.7 -1.9h0m4.9 -0.9h0m6 0.4h0m-13.2 6.7h0m0.4 -2h0m2.3 -0.3h0m1.4 3.4h0m7.5 -1.2h0m1.3 -2h0m-13.7 6h0m2.2 -0.5h0m1.6 1h0m2.1 -1.2h0m2.9 0.3h0m-0.9 14.5h0m-61.9 10.6h0m4.5 3.3h0" fill="none" stroke-width="2.4" stroke-linecap="round"/>
</g>
<g fill="#ff0000" stroke="#ff0000">
<ellipse cx="366" cy="92" rx="19.0898" ry="24.8998" transform="rotate(0 366 92)" stroke="none"/>
<path d="M358.2 32.5h0m-12.3 11.3h0m14.1 5.1h0m4.8 2h0m12.5 0.6h0m-18.9 4.3h0m3.3 0.6h0m2.2 0.4h0m3.7 0h0m0.1 0.5h0m1.9 -3.4h0m1.6 3.1h0m0.1 -3.9h0m0.3 0.5h0m0.5 2.4h0m0.6 1h0m1 -3.9h0m6.3 3.2h0m-33.2 5.4h0m0.9 -1.9h0m2.6 -2.3h0m1.4 4.5h0m4.1 -1.7h0m3 -0.8h0m0.9 2.5h0m1.9 -1.1h0m0.7 -2.4h0m0.1 2h0m0.1 -2.5h0m1.8 3.9h0m1.5 -1.2h0m0.6 1.1h0m0.6 -0.3h0m0.5 -2.6h0m0.6 0.6h0m0.7 2.9h0m0.5 -1.4h0m0.5 -2.9h0m0.3 3.8h0m0.1 -0.3h0m0.2 -3.7h0m0.6 4.1h0m0.7 -2.6h0m0.4 0.6h0m0.3 2.1h0m0.4 -2.1h0m1.5 0.3h0m1.2 0.5h0m1.3 0.7h0m0.9 -1.5h0m0.1 2.1h0m0.8 -1.1h0m1 -2.2h0m2.6 0h0m3 0.7h0m0.1 1.1h0m19.1 0.8h0m-54.7 1.5h0m0.2 1.2h0m1.7 1.3h0m0.7 -2.2h0m0.2 2.1h0m1.9 -0.2h0m0.3 0.3h0m0.5 -2.5h0m1.6 2.2h0m0.3 0.9h0m0.9 0.8h0m0.1 -0.9h0m1 -2.6h0m0.2 3.4h0m0.2 -2.9h0m0.3 2.8h0m0.6 -1.4h0m0.1 2.1h0m0.3 -1.2h0m0.2 -3h0m0.1 2.1h0m0.7 0.7h0m0.2 -0.5h0m0.2 -1.4h0m0 1.1h0m0.6 2.1h0m1.7 -0.8h0m0 -0.2h0m0.1 -3.4h0m0.6 4.3h0m0.1 -3h0m0.3 0.9h0m0.8 -0.3h0m0 -0.4h0m0.3 -1h0m0.2 2.5h0m0.3 -0.2h0m0.2 -1.9h0m0.6 1.4h0m0.1 2.2h0m1 -2.8h0m0.5 1.9h0m0.5 -0.6h0m0.2 -1.2h0m0.2 -0.8h0m0.5 2.3h0m0.2 0.6h0m0 0.4h0m0.6 -1.6h0m0.8 -1.8h0m0.4 3.3h0m0 -1.2h0m0.1 -1.3h0m1.2 -1.5h0m0.7 2h0m0.2 0.2h0m0.1 1.3h0m0.2 -2.4h0m0.1 -0.7h0m0.2 2.3h0m0.7 0.7h0m0.2 -3.1h0m0.6 2.3h0m0.6 -2.4h0m0.5 0.6h0m1.5 2.2h0m0.5 0h0m1.7 0.8h0m0.1 -2.8h0m0.7 2.6h0m1 0.4h0m1.4 -2.1h0m0.2 -1.6h0m1.1 0.7h0m1 -1.1h0m3 0.6h0m-38.6 6h0m1.2 2.2h0m1.5 -0.9h0m0.4 -0.5h0m1.4 -2h0m1.1 0.3h0m0.2 0.5h0m0.7 0.3h0m1.4 -1.3h0m4 -0.1h0m3.7 -0.3h0m0.7 0.2h0m3.4 0.4h0m1.9 0.4h0m1.5 -0.9h0m0.3 3.8h0m0.2 -1.8h0m0 1.5h0m0.1 0.3h0m0.2 -2.9h0m0.5 0.7h0m0.6 -0.8h0m0.7 0.7h0m0.6 2.4h0m0.2 -3.1h0m0.5 2.6h0m0.5 -3.6h0m0.4 4.8h0m0.3 -1.8h0m0 1.3h0m0 -3.6h0m0.1 -0.4h0m0.4 2.5h0m2.4 -0.9h0m1.7 -0.2h0m0 1.8h0m0.1 -2.6h0m2.1 2.8h0m1.7 -2.7h0m1.7 3.9h0m3.5 -1.4h0m9.9 -2.7h0m-25.1 5.2h0m0.2 1.8h0m0.3 -1.8h0m0.2 1.1h0m0.9 1.5h0m0.9 -2.9h0m0 1.9h0m0.3 -1.5h0m0 -0.9h0m0.1 0.6h0m0.1 2.6h0m0.2 -0.4h0m1.2 -2.9h0m0 2.7h0m0.1 0.5h0m0.6 -1.2h0m0.2 -0.1h0m1.5 2.1h0m2.2 -2.6h0m0.1 0.4h0m0.3 0.5h0m0.7 -0.9h0m0.8 2.2h0m0.7 -1.8h0m4.6 0.1h0m12.6 0.2h0m-27 2.7h0m1 1.9h0m1 1.9h0m0.5 -1h0m0.2 -0.5h0m0.5 1.2h0m0.1 -2.1h0m0 -0.1h0m0.4 1h0m0.1 0h0m0.1 -1.2h0m0.1 3.5h0m0.8 -3.8h0m0.9 3.7h0m0.2 -2.6h0m0.2 1.4h0m0.5 1h0m0 -2.3h0m0.1 -0.4h0m1 2.3h0m0.4 -1.3h0m1.1 -1.8h0m1.6 -0.4h0m0.9 1.2h0m0.8 1h0m0.1 -0.4h0m2.5 1.5h0m0.5 -2.6h0m0.1 3.8h0m6.3 -4.4h0m-19.1 6.6h0m0.5 -1.6h0m0.1 1.3h0m0 1h0m0 0.9h0m0.3 -1h0m0.7 -1.3h0m0.7 -0.9h0m0.4 0h0m0.4 2.7h0m0 -2.4h0m0.9 2h0m0 -0.3h0m0.1 1.6h0m0.5 -2.4h0m0.9 -1.3h0m0.2 2.7h0m0.2 -2.5h0m0.7 2.7h0m2.4 -3.1h0m1 3.9h0m3.2 -3.4h0m0.8 0.8h0m9.2 1h0m-22.6 6.7h0m0.6 -1.3h0m0.3 0.9h0m0.2 -2h0m0 -1.6h0m0.5 1.9h0m0.4 -1.6h0m0.1 -0.4h0m0.2 4.8h0m0 -0.8h0m0.1 -4h0m0.2 1.5h0m0.9 2.2h0m0.1 0.9h0m0.5 -1.7h0m0.5 -2.5h0m0.3 3.1h0m2.8 1.2h0m0.1 -0.9h0m0.1 -3h0m5.7 0.3h0m-13.2 6.2h0m0 -0.4h0m0.2 -1.6h0m0 3.3h0m0.7 -3h0m0.3 3.2h0m0 -2.2h0m0.8 -1h0m0.5 2.9h0m0.5 -2.8h0m0.4 1.8h0m0.5 -1.8h0m0.5 2.1h0m0.1 -1.7h0m0 2.3h0m0.6 -2h0m0.5 1.5h0m7.4 -0.9h0m0.2 1.8h0m2.1 -2.3h0m0.6 0.8h0m1 1.1h0m-18.3 3.4h0m0.1 2.2h0m0.1 -3.2h0m0.6 1.5h0m1.2 -2.1h0m0 1.5h0m0.1 2.6h0m0.5 -1.3h0m0.2 -2.6h0m0.2 4.2h0m1 -2.7h0m0.5 3h0m0 -3.9h0m0.1 2.2h0m0.2 -1.7h0m0.1 -1.5h0m0.5 3.1h0m0.1 0.4h0m1.2 -3.6h0m0.2 2.1h0m0.6 1.4h0m0.7 0.1h0m0.9 -1.6h0m1.8 0.3h0m-46.9 7.4h0m0.8 -1.2h0m0.1 1.3h0m0.4 -3.5h0m0.3 2.2h0m0.1 -2.7h0m0.6 2h0m0.3 -1.5h0m0.6 1.7h0m0.3 -0.7h0m0.2 0.4h0m1 2.2h0m0.2 -0.6h0m29 0.6h0m0.5 -2.4h0m0.5 1h0m0.9 0.5h0m0.1 -3.9h0m0 4h0m0.2 -1.9h0m0 1.7h0m0.3 -3.6h0m0.3 1.6h0m0.8 0.3h0m0.2 -2h0m0.2 1.8h0m0.4 -0.5h0m0.1 2.8h0m0.5 -0.9h0m0.4 -2.1h0m1.2 0.6h0m0.2 -0.8h0m0.3 1.9h0m0.5 0.8h0m0.2 -1.7h0m0.7 2.5h0m0.5 -4h0m0.9 2.2h0m0.9 -0.9h0m0.3 1.9h0m2.3 0.4h0m0.7 -1.9h0m0.3 1.7h0m0.6 -1.3h0m4.2 0.2h0m-64.6 3.5h0m6 2.3h0m1.6 -1.1h0m0.4 -0.4h0m1.1 2.4h0m0 -3.7h0m0.6 -0.7h0m0.6 0.6h0m0.5 2h0m0.3 1.8h0m0.1 -3.7h0m0.6 1h0m0.8 1.3h0m0.5 1.8h0m0.5 -3.6h0m1.1 0h0m0.6 1h0m0.2 -0.5h0m0.9 0.7h0m0.8 1.2h0m0 -2.5h0m0.9 2.2h0m0.2 1.5h0m1.7 0h0m22.9 -0.6h0m0.4 -3.3h0m0.1 3h0m0 0.6h0m0.8 -4.6h0m0.2 2.4h0m0.1 -0.8h0m0.2 1.5h0m0.3 1.6h0m0.8 -1.4h0m0.3 -3.3h0m0 1.9h0m0.8 1.2h0m0 -0.7h0m0.2 -2.3h0m0.2 4.4h0m0.1 -4.6h0m0 1.6h0m0.3 1.6h0m0.7 0.3h0m0.2 -1.2h0m0.2 0.4h0m0.7 -2.1h0m0.2 -0.1h0m0.2 0h0m0.4 1.8h0m2.9 -1.8h0m2.4 3.4h0m0.4 -3.7h0m0.8 1.6h0m1.1 2h0m7.7 -3.4h0m-59.6 5h0m2.1 2.5h0m3 -1.4h0m1.7 0.2h0m0.7 1.3h0m1.4 0.5h0m0.3 0.4h0m0 -2.7h0m0.5 3.1h0m0.5 -3.1h0m1.5 3h0m0.2 -2.7h0m0.6 -0.6h0m1 0.6h0m0.1 -0.3h0m0.1 1.7h0m0.2 -0.8h0m0 2.7h0m1.2 -1.7h0m0.6 0.4h0m1.1 1h0m0.1 -2.8h0m0.1 2.1h0m0.2 -2.3h0m1 3.3h0m0.5 -2.1h0m1.2 0.6h0m1.7 1.1h0m1.7 -0.9h0m1.9 -0.3h0m1.2 1.5h0m1.2 -1.6h0m0.3 1.6h0m0.9 -0.5h0m0.3 -0.3h0m0.6 -1h0m1.2 0.6h0m0.8 -0.8h0m0.4 1.6h0m0.8 0.4h0m0.3 -1.3h0m0 -0.7h0m0.4 -1.6h0m0.7 2.7h0m0 -3h0m0.3 2.5h0m0.4 -0.8h0m0.2 0.8h0m0.2 -2.8h0m0.8 1.5h0m0.2 1h0m0.8 -1.3h0m0.8 0.8h0m0.5 1.5h0m0.3 -2.7h0m0.8 -0.8h0m0.5 1.9h0m0 -1h0m0.2 1.6h0m0.3 -2.8h0m0.7 3.9h0m0.8 -1.6h0m0.9 -0.4h0m0 -0.1h0m0.9 0.6h0m4.5 -0.9h0m0.4 1.6h0m-54.1 1.8h0m9.6 1.6h0m0.5 1.8h0m0.4 -2.9h0m4.3 3.8h0m0.8 -3.8h0m0 1.3h0m0.3 0h0m0.9 0.5h0m0.3 2.2h0m0.8 -0.1h0m0.4 -2.4h0m0.2 -1.1h0m0.2 3.4h0m0.8 0h0m0.1 -3.7h0m0.1 -0.2h0m0.4 0.5h0m0.2 -0.4h0m0.7 0.3h0m0.4 0.3h0m1 -0.7h0m0 3.4h0m0.2 -2.2h0m0 1.3h0m0.8 -2.7h0m0 2h0m0.3 1.9h0m0.7 0h0m0.1 -4.1h0m0.3 3.2h0m0 -1.9h0m0 3.6h0m0.9 -4.5h0m0.1 -0.3h0m0.8 0.3h0m0.1 0.8h0m0 1.6h0m0 -0.4h0m0.5 -1.4h0m0.4 -0.5h0m0.1 3.9h0m0.3 -3.2h0m0.1 0.2h0m0 1.8h0m0.1 -3.2h0m0.5 1.5h0m0.1 1.8h0m0.1 -0.5h0m0.1 0.3h0m0.6 -2.1h0m0.2 3.5h0m0.1 -4.4h0m0.4 2.5h0m0.1 -2.3h0m0.6 3.6h0m0.3 -2h0m0.8 0.4h0m0.7 -2.3h0m0.2 4.2h0m0.6 -3.9h0m0.2 0.9h0m0.2 2h0m0.6 1.1h0m0.3 -2.3h0m0.2 -2.1h0m0.6 3.2h0m1.1 0.2h0m0 -1.2h0m0.3 -1.9h0m0 -0.3h0m0.3 3.8h0m0 -3.5h0m0.6 4.5h0m0.2 -2.1h0m0.2 0.6h0m0.3 -2.8h0m0.6 1.7h0m0.5 -0.8h0m0.3 -1.4h0m0.5 2.8h0m0.1 -1.8h0m0.3 2.3h0m0.7 -1.6h0m0.1 2.5h0m0.4 -3.3h0m0.4 -0.4h0m0.4 2.1h0m0.1 -2.2h0m0.6 2h0m0.6 -1.4h0m1.1 2.9h0m3.2 -3.7h0m3.3 -0.2h0m0.3 2h0m9 2.5h0m-63.7 2.5h0m10 -0.1h0m2.3 1.3h0m4.1 -0.3h0m0.4 1.3h0m3.3 -3.4h0m0.3 1.1h0m3 1.3h0m1.7 -2.5h0m0.2 0.6h0m0.4 -0.8h0m0.8 2.1h0m2.1 0.6h0m0.4 -3.1h0m0.2 2.6h0m0.1 0.8h0m0.1 -2h0m1.8 2.9h0m0.2 -3.5h0m0.6 0.3h0m0.1 2.1h0m0.5 -1.2h0m3.1 -0.4h0m1 -1.1h0m3.2 2.1h0m0.6 -0.7h0m1 -1.7h0m1.6 3.1h0m1.7 0.9h0m0.6 -3.3h0m8 0.7h0m3.7 2.7h0m4.2 -1.4h0m0.7 -2.4h0m-60.3 7.8h0m5.7 -0.9h0m4.6 -2.2h0m13.6 0.5h0m0.7 4.2h0m0.8 -0.1h0m0.4 -0.4h0m0.6 -4.3h0m0.2 3.9h0m4.3 0.8h0m0.6 -4.5h0m0 -0.3h0m0.4 2.6h0m0.3 -1.5h0m0 3.4h0m0.4 -3h0m2.5 0.6h0m0.8 0.2h0m4.9 -1.1h0m1.5 -0.1h0m1.3 2.3h0m0.1 -3.2h0m2.1 2h0m15 1.9h0m-69.3 4.5h0m21.5 -3.1h0m0.5 -0.2h0m4.5 1.1h0m3.8 3h0m1.5 -3h0m0.1 0h0m0.3 0.8h0m0.2 0.2h0m3 -1h0m1.4 -0.5h0m0.9 1.1h0m12.4 1.8h0m1.1 -0.7h0m0.6 0.1h0m3.1 1h0m0.5 -0.5h0m0.9 -2.5h0m-35.1 5.7h0m4.5 0.3h0m13.1 1.6h0m0.9 -2.9h0m6.8 -0.8h0m5.1 1.1h0m-21 5.1h0m11.1 2.9h0m0.7 -4h0m3.5 2.1h0m12.8 3.6h0m-38.4 6.9h0m42.8 9.8h0" fill="none" stroke-width="2.4" stroke-linecap="round"/>
</g>
<g fill="#00ff00" stroke="#00ff00">
<ellipse cx="330" cy="83.5" rx="23.81" ry="22.639" transform="rotate(0 330 83.5)" stroke="none"/>
<path d="M291.8 26h0m5.1 -2.5h0m26.1 4.8h0m3.4 9.1h0m-38.2 0.4h0m18.9 2.9h0m2.8 -1.1h0m16.6 2.3h0m18.1 -1.5h0m1.8 -1.1h0m-78.8 4.1h0m28 3.5h0m18.4 0.2h0m2.4 -1.2h0m5.9 1.4h0m0.8 -1.6h0m2.4 -1.2h0m1 2.6h0m2.7 -3.6h0m11.1 -0.1h0m1.4 1.7h0m-48 5.2h0m15.4 -2h0m0.4 2.8h0m2.2 -2.8h0m4.2 0.9h0m0.1 -1.4h0m0.9 1.5h0m1.9 1.2h0m1.4 -0.4h0m5 -1.1h0m0.1 2.5h0m1.4 -0.9h0m2.8 0.5h0m0 -2h0m1.9 2.5h0m1.1 0.3h0m1.1 -0.7h0m0.9 0.2h0m1.1 -0.2h0m1.4 -3.6h0m3.3 4.7h0m1.4 -3.8h0m1.1 -0.3h0m0 4h0m4.8 -1.6h0m1.3 0.6h0m4.1 0.5h0m-58.4 3.4h0m2.9 -0.9h0m1.2 1.7h0m2.1 -3.2h0m0.2 2.8h0m2.9 -0.5h0m0.4 1.3h0m1.5 0.4h0m0.5 -2.4h0m2.6 1.9h0m0.9 0.5h0m2 -3.9h0m0.8 4.6h0m0.7 -2.4h0m1.1 0h0m1.6 1h0m2.5 1.2h0m0.1 -3.3h0m0.4 3.3h0m0.7 -0.3h0m0.6 -2h0m0.8 0.3h0m0.2 -0.8h0m0.4 0.5h0m0.4 2.3h0m0.4 -3.6h0m0.7 -1h0m1.9 0.6h0m1.3 1.1h0m0.6 1h0m0 0.3h0m0.2 -0.8h0m0.6 -0.9h0m1.7 2.3h0m0.8 1h0m1.4 -1.3h0m1.7 1.3h0m0.7 -1.2h0m0.3 -1.9h0m0.8 0.8h0m0.1 0.5h0m0.6 1.2h0m0.2 0.5h0m2.3 -3.8h0m0.6 2.8h0m0.4 0.5h0m0.2 -1.8h0m0.3 -0.3h0m0.1 0.6h0m0.4 1.5h0m0.3 -2.6h0m0.6 2.9h0m0.4 -2.1h0m0.4 1.6h0m0.4 0.5h0m0.3 0.1h0m0.9 -4h0m0.4 -0.2h0m1.5 2.3h0m1.1 1.8h0m1.1 -1h0m2 -3.2h0m17.1 1.2h0m-73.5 6.8h0m8.2 -1.3h0m0.1 1.6h0m1.3 1.2h0m0.5 0.3h0m0.3 -2.9h0m3.4 0.4h0m1.4 2.2h0m0.3 0.2h0m0.3 -3.1h0m0.3 -0.9h0m0.1 0.2h0m1.6 2.7h0m1 -3.6h0m0.6 1.3h0m0.2 3.2h0m1.4 -3.3h0m0.2 1.4h0m0.2 1.8h0m0.2 -0.7h0m0.6 -3.5h0m0.5 2h0m0.4 0.5h0m0.1 -0.3h0m0.4 -2.6h0m1.3 2.6h0m0.3 -1.9h0m0.4 1.5h0m0.4 2.4h0m0.3 -2.8h0m0.1 0.4h0m1 0.9h0m0.1 1.8h0m0.8 -3.8h0m1 0.4h0m0.2 2.7h0m0 -1h0m0.8 0.1h0m0.4 -0.6h0m0.7 1.6h0m0.1 0.2h0m0.1 -1.8h0m0.7 -2.4h0m0 3.1h0m0.6 1h0m0 -0.7h0m0.8 -3.1h0m0.2 3.4h0m0.1 -4h0m0.5 3.2h0m0.2 -2.2h0m0.1 1h0m0.1 -0.4h0m0 1.1h0m1.5 0.1h0m0 -0.6h0m0.1 -1.9h0m1.7 3.9h0m0.5 -1.9h0m0.4 0.2h0m1 0.4h0m0.3 0.7h0m0.9 0h0m0.3 -3.4h0m0.4 1.6h0m0.2 -1.8h0m0.3 4h0m1 -0.9h0m0.1 -1.9h0m0.3 2.5h0m0.1 0.1h0m1.1 -1.3h0m0.5 0.9h0m0.1 1h0m0.2 -0.3h0m1.6 0.4h0m0.1 -0.6h0m0.8 -1.9h0m0.8 0h0m0.3 2.5h0m0.2 0.1h0m0 -3h0m0.5 0h0m0.1 2.7h0m0.6 -1.4h0m0.2 -2.5h0m0.4 3.8h0m0.1 -2.3h0m0.3 2.4h0m0.7 0.2h0m2.1 -1.1h0m0.1 -1.5h0m0.8 2.9h0m0.8 -3h0m1.5 2.5h0m0.1 -0.6h0m0.8 -2h0m1.6 0.6h0m1.9 2h0m0.6 -1.8h0m2.5 -1.1h0m-69.3 6.4h0m1.4 -1.7h0m1.1 -0.3h0m0.6 2.8h0m2.8 0.5h0m1 -0.9h0m0.3 1.1h0m0.8 -3.6h0m3.4 3.8h0m0.1 -3.2h0m0.3 3.3h0m0.1 -1.5h0m1.1 1.2h0m0.9 -0.8h0m0.9 -1.9h0m0.2 2.3h0m1.1 -3.8h0m0.5 3h0m1.2 -2.4h0m0.3 3.2h0m0 -0.5h0m0.8 -2.2h0m0.1 2.4h0m0 -2.2h0m0.1 3.4h0m0.4 -4h0m0.8 2.4h0m0.1 0.7h0m0.6 -2h0m0 -0.8h0m0.1 2.3h0m0.2 -1.1h0m0.7 0.6h0m0.1 -1.7h0m1.4 3.2h0m0.9 -2.9h0m0.4 1.8h0m1.6 -1.4h0m0.1 0.7h0m1.1 -2.2h0m0.1 1.7h0m2.2 -1.4h0m0.2 0.4h0m0.9 0h0m17.9 -0.4h0m3.4 -0.4h0m0.4 1.7h0m0.9 -0.8h0m0.6 0.3h0m0.8 -0.2h0m0.1 1.1h0m0 -0.4h0m1.1 1.9h0m0.2 0.7h0m0.2 -1.5h0m0.2 1h0m0.1 -3.4h0m0.9 2h0m0.7 -1.7h0m0.2 3.8h0m0.4 -0.1h0m0 -4.1h0m0.1 2.5h0m0.4 1.1h0m0.4 -1.1h0m0.6 1h0m0.6 -3.9h0m0.7 3.8h0m0.1 -0.2h0m0.1 0.8h0m0 -3.6h0m1.1 1.2h0m0.1 1.5h0m1.8 0.8h0m0.8 -3.5h0m0 2.2h0m0 -1.1h0m0.8 0.2h0m0.6 1.6h0m1 -1h0m3.8 1.2h0m8.8 -1.6h0m-101.1 7.1h0m3.9 -2.8h0m13.6 1.1h0m4.6 1.1h0m0.9 -1.6h0m0.3 0.4h0m1.2 -0.9h0m1.6 0.9h0m2.5 -1.1h0m2 1.8h0m0.6 0.9h0m2.3 0.5h0m0.5 -1.1h0m0.2 -3.5h0m1 3.5h0m0.2 -0.5h0m0 -0.6h0m0.7 -1.6h0m0.6 0.2h0m0 0.4h0m0.2 2.4h0m0 -2.6h0m0.5 2.3h0m0.4 -2.2h0m0.2 1.6h0m0.7 1.4h0m0.2 0.1h0m0.5 -2.5h0m0.5 2.2h0m0.2 -1.6h0m0.2 -1.8h0m1 2.8h0m0.5 -1h0m0.7 -0.8h0m0.1 -1.5h0m0.1 -0.2h0m0.9 0.1h0m0.8 0h0m34.1 0h0m1.3 0.6h0m0.2 2.2h0m0.2 -1.3h0m0.3 1.5h0m0.5 -1.2h0m0.2 -0.9h0m0 2.4h0m0.4 1h0m0.1 -3.2h0m0.8 0.9h0m0 2h0m1.3 0.3h0m0.4 -2.2h0m0.6 -1.3h0m0.1 -0.5h0m0 1.5h0m0.8 2.6h0m0.1 0.1h0m0 0.1h0m0.5 -2.6h0m0.8 -1.9h0m0.5 2.6h0m0 -0.3h0m1.7 -0.9h0m0.2 1.8h0m1.3 -3.1h0m1.6 0.8h0m0.5 0.6h0m0.2 2.9h0m0.5 -0.3h0m1.3 -2.6h0m0.4 2.4h0m3.7 -1.3h0m5.7 -2.2h0m-87.9 8.7h0m3.8 -1.1h0m3.6 -0.7h0m3.5 -0.8h0m0.2 1.8h0m2.5 -2.2h0m1.8 3.1h0m0.5 -1.8h0m0.1 -0.1h0m0.3 -1.7h0m0.1 3.6h0m0.5 -0.9h0m0.5 -1.1h0m0.3 0.7h0m0.6 1.5h0m0.5 -4.3h0m1.2 1.5h0m0.2 -0.8h0m0.7 -0.4h0m0 3h0m0.1 -1.9h0m0 -1.4h0m0.3 1.4h0m0.2 -1.5h0m43.2 0h0m0.3 2.8h0m0.3 -0.1h0m0.2 -3h0m0.4 0.1h0m0.4 1.7h0m0.5 2.5h0m0.6 -3.6h0m0.2 2h0m0.1 -2h0m0.1 3.3h0m0.2 0.5h0m0.1 0h0m0.1 -3.8h0m0.7 2.1h0m0.7 -1.1h0m0.6 2.4h0m0.3 -3.4h0m0.1 -0.3h0m0.4 1.5h0m0.6 2.6h0m1.5 0h0m0.2 -2.1h0m1.3 -0.2h0m0.4 0.9h0m0.2 0.2h0m0.4 -0.8h0m1.1 1.4h0m0.1 -2h0m0.4 1.1h0m0.5 0.7h0m1.5 0.5h0m2.5 -0.3h0m2.5 -0.3h0m0.4 -3.1h0m-94.6 8.9h0m9.9 -2.9h0m2.2 1.7h0m5 -2.9h0m0.4 -0.3h0m0.3 4h0m0.8 -0.9h0m0.4 0.8h0m0.9 -0.6h0m2 -3h0m0.2 0h0m0.4 3.3h0m0.7 -2.4h0m0.9 2.8h0m0 -1.2h0m0 -1.6h0m1.1 -0.1h0m0.6 2.1h0m0.1 -1.1h0m0.5 -0.2h0m0.1 -1.4h0m0.1 -0.3h0m0.8 4.1h0m0.2 -1.6h0m0.1 -0.7h0m0.4 1.9h0m0.3 -3.5h0m0 4h0m0.8 -4.3h0m0.2 2.8h0m0.1 -0.7h0m0.2 1h0m0.3 -2.9h0m0.2 1.4h0m0.3 2h0m0.1 0.4h0m0 -3.7h0m0.3 0.8h0m0.1 0.7h0m45.9 1.9h0m0.2 -1.4h0m0.2 -1.5h0m0.6 3.8h0m0.4 -0.5h0m0 -2.3h0m0.6 0.5h0m0.2 -0.9h0m0 -1.1h0m0.2 4.4h0m0.4 -0.7h0m0.1 -3h0m0.1 0.7h0m0.5 -1.4h0m0 4.1h0m0.1 -2.5h0m0.6 0.9h0m0.8 -0.1h0m0.1 1.9h0m0.5 -4.9h0m0.1 4.1h0m0.9 -1.9h0m2.5 -0.5h0m0.7 3.3h0m0.6 -4.7h0m0.3 4.6h0m0.1 -4.1h0m1.1 -0.8h0m1.6 1.7h0m0.5 2.2h0m8.2 -3.5h0m0.2 3.3h0m2.9 -0.8h0m-91.6 5h0m2.2 -2.8h0m0.4 0.6h0m3 2.5h0m0.7 1h0m0.5 -0.5h0m1.8 -0.8h0m0.1 -1.6h0m0.5 1.4h0m0 -2h0m0.6 2.2h0m0.9 -0.2h0m1.5 -1.6h0m1.2 -0.2h0m0.4 -0.5h0m0.9 3.1h0m0.4 -2h0m0.1 -0.8h0m0.1 1h0m0.1 2.6h0m0.2 -3.3h0m0.4 0.3h0m0 1.7h0m0.4 0h0m0.3 -1.6h0m0.5 -0.8h0m0.7 3.2h0m0 -0.5h0m0.6 -3.1h0m0.2 1.1h0m0 1.8h0m0.2 1.7h0m0.3 -2.1h0m0.1 1.9h0m0.7 -1.1h0m46.9 -0.8h0m0.1 -1.6h0m0.1 1.4h0m0.4 2.4h0m0 -3.6h0m0.7 3.6h0m0.1 -2h0m0.1 -2.1h0m0.4 2.7h0m0.3 -0.9h0m1 -0.6h0m0.1 0.7h0m0.1 -1.2h0m0.1 2.6h0m0.3 -2h0m0.1 1.9h0m0.5 -0.9h0m1.6 1.5h0m0.4 -2.1h0m0.7 0.7h0m0.4 1.2h0m0 -0.5h0m2.4 -2.7h0m-79.5 4.1h0m2.8 0h0m6.5 -0.2h0m1.2 3.2h0m1 -1.5h0m0.1 -0.3h0m0.9 3.2h0m0.5 -3.5h0m0.7 2.2h0m0.2 -2.8h0m1.6 4h0m0.2 -1.1h0m1.1 -0.3h0m0.4 1.7h0m0 -2.2h0m0.7 0.2h0m0.4 0.5h0m0.1 0.8h0m0.1 -1h0m0.5 -1.8h0m0.6 1.1h0m0.4 -2.1h0m0.2 4.5h0m0.7 -4h0m0 2.3h0m0.1 -1.9h0m0 2.5h0m1.3 -2.5h0m0 1.9h0m0.2 -1.7h0m0.1 1.4h0m2.2 1.7h0m42.3 -0.7h0m0.6 0.1h0m1.1 1h0m0.2 -2.4h0m0.2 -1.2h0m0.4 0.1h0m0.4 1.6h0m0.1 -1.1h0m0.3 -1h0m0.7 1.9h0m0.2 0.5h0m0.3 -1.1h0m1 -1.9h0m0.7 0.3h0m0.3 3.3h0m1.3 -3.5h0m0.6 2.8h0m0.1 -2.2h0m0.5 1.2h0m0.4 -1.9h0m0.2 1.3h0m3.7 2.5h0m0.2 0.1h0m0.7 -4.1h0m2.8 1.3h0m1.7 -0.6h0m31.6 -0.1h0m-127.5 7.5h0m8.9 -2.7h0m1.1 0.5h0m7.8 0h0m2.9 -0.6h0m1.8 0.5h0m0.6 2.9h0m0 -0.6h0m0.6 -2.8h0m0.8 3.9h0m0 -1.6h0m1.6 1.1h0m1.2 0h0m0.2 -1.5h0m0.5 -2h0m0.3 0.3h0m0.1 1.7h0m0.9 2.1h0m0.8 -1.3h0m0.2 -2h0m0.3 3.3h0m0 -3.7h0m0.5 1.6h0m0.4 1h0m0 -0.9h0m1.4 2.3h0m0.8 -0.1h0m0.1 -0.5h0m0.8 -1.3h0m0.2 1.6h0m0.5 -4h0m0.2 2.3h0m0.8 0.6h0m0.2 -0.5h0m1.1 1.3h0m0.2 -0.3h0m36.8 0.5h0m1.3 -2.7h0m0.2 2h0m0.2 0.5h0m1.1 0.1h0m0.3 -2.8h0m0.2 1.9h0m0.1 1.4h0m0.3 -0.8h0m0 0.7h0m0.2 -3.4h0m0.3 2.1h0m0.4 -2.4h0m0.2 0.5h0m1.9 -1h0m0.2 0.3h0m0 1.2h0m0.3 2.5h0m0.7 -3.9h0m2.1 3.1h0m0.6 -2.8h0m1.4 -0.3h0m1.7 1.7h0m15.3 -1.5h0m-82 7.4h0m1.9 0.7h0m0.6 -3.4h0m0.9 -0.4h0m0.4 1.2h0m1 0.2h0m0.9 2.8h0m0.9 -2.2h0m0.5 -2.1h0m0.9 0.3h0m0.3 4.4h0m0.7 -4.7h0m0 3.8h0m0.5 -0.2h0m0.3 1.4h0m1 -2.1h0m0.2 -2.5h0m0.1 -0.2h0m0.1 0.9h0m0.7 -0.5h0m0.4 0.7h0m0.1 0h0m0 1.7h0m0.1 0h0m0.3 -0.9h0m0.5 -1h0m0.9 1.4h0m0.2 1.4h0m0.2 -3.5h0m0.1 -0.4h0m0.3 1.1h0m0.1 1.7h0m0.2 1.7h0m0.1 -3.2h0m0.6 0h0m0 3.2h0m0.3 -1.8h0m0.5 2h0m0.4 -0.2h0m0.9 -2.4h0m0.7 1.5h0m1.6 0.4h0m0.4 0.2h0m28.3 -0.1h0m0.5 0h0m0.2 -1.4h0m0.6 -0.9h0m0.7 -0.2h0m0 1h0m0.8 0.9h0m0.2 0.2h0m0.8 -3h0m0.1 1h0m0.7 0.1h0m0 -0.7h0m0.2 1h0m0.3 1.8h0m0.4 0.6h0m0.7 -3.2h0m0.1 2.4h0m0.4 1.1h0m0 -2.9h0m0.7 3.1h0m0.1 -4.5h0m0.1 4.5h0m0.3 -1.1h0m1.8 1h0m1.1 -3.4h0m0.8 -0.4h0m0.1 2.2h0m0.7 0.1h0m0.6 -3.2h0m0.9 0.5h0m1.1 2h0m1.2 -1.4h0m2.5 1.3h0m-91.3 6.9h0m18 -4.4h0m2.2 1.1h0m6.3 -0.9h0m2.9 1h0m0.7 -0.2h0m0.3 -0.3h0m0.2 1.9h0m1.4 0.8h0m0.8 -2.7h0m0.3 -0.4h0m0.7 2.6h0m2.4 1.4h0m0.4 -3.4h0m0.2 2.2h0m0.2 -1.7h0m0.6 1.6h0m0.4 -0.6h0m1.5 -0.3h0m1.2 -0.9h0m0.4 1.2h0m0.1 -0.6h0m0 0.9h0m0.1 -2h0m0.6 0.9h0m0.1 -1.5h0m0.1 3.8h0m0.7 0.2h0m0.8 -0.7h0m0.3 -2.5h0m0.2 0.9h0m1 2.9h0m0.1 -1h0m0.2 -2h0m0.2 -0.7h0m0.7 1.2h0m0.4 0.1h0m0.9 -0.5h0m0.1 -0.2h0m0.2 -1.3h0m0.7 4h0m0.3 -2.2h0m0.1 0.8h0m0.4 -1.5h0m0.2 2.1h0m0 -0.7h0m1 -0.3h0m0.7 1.2h0m0 0.4h0m0.9 -1h0m0.7 1.2h0m1.1 -1h0m0.3 1.3h0m0.8 -0.9h0m0.3 -1.1h0m0.3 0.4h0m0.7 -0.6h0m0.6 2.2h0m1.8 -0.5h0m0 0.5h0m1.6 -0.3h0m1.1 -0.4h0m1 -0.4h0m1.1 1h0m0.8 -1.5h0m0.1 -0.7h0m0.5 -0.4h0m1.8 1.7h0m0.1 -0.4h0m0.3 -0.9h0m0.9 -0.3h0m0 0.6h0m0.1 -1.3h0m0.5 1.8h0m0.2 -2.4h0m0.1 2.1h0m0.8 1h0m1.2 -2.9h0m0.1 -0.4h0m0.2 2.5h0m0.2 0.8h0m0.5 -2.2h0m0.1 -0.7h0m0.1 1.1h0m0.2 2h0m0.6 -3h0m0 2h0m1.3 0.3h0m0.1 -0.1h0m0.3 -1.2h0m0.1 -1.8h0m0.7 1.8h0m2.8 -1.4h0m1.9 3.4h0m0.6 -1.1h0m2.8 1.9h0m0.3 -4.2h0m1.1 0.5h0m4.4 1h0m8.7 0.2h0m-110.4 7.6h0m30.2 -2.9h0m2.4 0.5h0m1 -1.4h0m1.2 2.4h0m1 -1.2h0m5.9 -2.3h0m1.7 4.7h0m1.4 -4.6h0m1.8 3.9h0m1.1 -3.7h0m0.6 1.6h0m0.3 0.2h0m0.5 -2.2h0m0.1 4.2h0m1.7 -0.4h0m0 -1h0m1 1.1h0m0.8 -2.7h0m1.4 -0.9h0m0.2 -0.1h0m1.4 3h0m1.3 -0.6h0m1.3 -1.7h0m0.5 2h0m0.2 0.4h0m0.2 -2.8h0m0.3 1.6h0m0.5 0h0m1.2 0.5h0m0.8 0.5h0m0 1.7h0m1.1 -3h0m0.3 1.3h0m0.4 -3.1h0m0.3 2.2h0m0.8 -0.7h0m1.9 0h0m0.2 1.3h0m0.4 -2.7h0m0.5 1.6h0m0.6 0.7h0m0.3 0h0m1.1 0.9h0m0 0.4h0m1.3 -0.2h0m0.5 -2.4h0m0.5 3.8h0m1.2 -3h0m0.1 1.7h0m0.9 -1.1h0m0.4 -0.8h0m1.2 0.8h0m0.7 -2.4h0m0.5 3.1h0m0.1 -2.7h0m0.6 1.1h0m0.8 0.4h0m0.2 -1.1h0m0.2 -0.9h0m0.5 1.6h0m1 -1.3h0m0.5 0.3h0m0.1 -0.2h0m1.5 0h0m1 4.4h0m0.5 -0.8h0m2.3 -2.3h0m3.5 -1.7h0m9 0.8h0m1 -0.1h0m0.6 1.7h0m1.6 -0.3h0m-70.8 3.5h0m9.4 1.8h0m3.1 1.6h0m5.3 0.7h0m1 -2.8h0m1.4 1.1h0m0.1 -1h0m2.2 -0.7h0m1.8 1.9h0m1.9 1.4h0m1.1 -0.8h0m0.4 -2.5h0m1.5 -0.9h0m0.2 0.1h0m0 -0.3h0m0.6 2.5h0m3.7 -0.5h0m0.2 -1.8h0m0.8 3.5h0m0.6 -3.5h0m0.3 3.6h0m3 -3h0m1 2.7h0m0.2 -0.4h0m0.1 -1.4h0m0.4 0h0m0.6 -1.2h0m0.3 0h0m0 0.1h0m2 1.6h0m0 -2.1h0m0.2 1.2h0m3.8 2.5h0m0.6 0.9h0m0.8 -4.5h0m2 1.7h0m0.6 0.8h0m1.3 -1.9h0m1.2 3h0m0.3 -3.8h0m2.8 1.9h0m3.5 -0.2h0m1.4 1.1h0m3.4 -1.7h0m0.8 1.4h0m9.1 -1.5h0m-79.3 7.8h0m13.7 -2.8h0m8.6 1.1h0m1.7 1h0m1.7 -1.5h0m7.4 2.1h0m6.7 -1.9h0m5.8 -0.7h0m1.5 -0.9h0m1.8 2.4h0m4.3 -1.7h0m0.1 -0.3h0m3.7 0.2h0m0.3 -0.3h0m1 0h0m3.2 0.4h0m-28.6 6.6h0m13.9 -2.1h0m1.3 0.8h0m3.6 -0.8h0m3.2 0.5h0m-37.2 5.3h0m1.6 -0.2h0m7.7 -1.1h0m3.4 1.9h0m25 -1.1h0m9.5 -0.3h0m-49.8 10.7h0m37.4 12.6h0" fill="none" stroke-width="2.4" stroke-linecap="round"/>
</g>
<rect x="254.5" y="4.5" width="192" height="191" fill="none" stroke="#a4a4a4" stroke-width="1"/>
<text x="254.5" y="208" text-anchor="middle">-0.04</text>
<text x="292.9" y="208" text-anchor="middle">-0.02</text>
<text x="331.3" y="208" text-anchor="middle">0</text>
<text x="369.7" y="208" text-anchor="middle">0.02</text>
<text x="408.1" y="208" text-anchor="middle">0.04</text>
<text x="446.5" y="208" text-anchor="middle">0.06</text>
<text x="251.1" y="8.1" text-anchor="end">0.04</text>
<text x="251.1" y="46.3" text-anchor="end">0.02</text>
<text x="251.1" y="84.5" text-anchor="end">0</text>
<text x="251.1" y="122.7" text-anchor="end">-0.02</text>
<text x="251.1" y="160.9" text-anchor="end">-0.04</text>
<text x="251.1" y="199.1" text-anchor="end">-0.06</text>
<path d="M292.9 195.5v-2M292.9 4.5v2M331.3 195.5v-2M331.3 4.5v2M369.7 195.5v-2M369.7 4.5v2M408.1 195.5v-2M408.1 4.5v2M254.5 42.7h2M446.5 42.7h-2M254.5 80.9h2M446.5 80.9h-2M254.5 119.1h2M446.5 119.1h-2M254.5 157.3h2M446.5 157.3h-2" stroke="#a4a4a4" stroke-width="1" fill="none"/>
<text class="t i" transform="translate(273.4 21.2) scale(1.12 1)">W</text>
<text class="t e" transform="translate(290.5 22.5) scale(1.4 1)">=</text>
<text class="t n" transform="translate(302.4 21.2) scale(1.04 1)">200</text>
</g>
<g>
<g fill="#0000ff" stroke="#0000ff">
<ellipse cx="604.6" cy="57.5" rx="21.0296" ry="20.4171" transform="rotate(0 604.6 57.5)" stroke="none"/>
<path d="M604.9 14.2h0m-27.5 6.1h0m9 1.9h0m16 0h0m9.9 0.1h0m-26.1 4.2h0m10.8 -3.5h0m3 1.9h0m2.1 0.8h0m5.5 -1.6h0m3.5 1.4h0m0.7 -1.7h0m-48.1 4.6h0m17.9 3.8h0m7.2 -1.5h0m1.7 0.2h0m0.9 0.2h0m0.1 -2.3h0m1 1.4h0m0.8 2h0m0.1 -1h0m1.5 -1.1h0m1.8 0.5h0m1.5 0.1h0m0.2 1.2h0m0.1 -1.7h0m0.8 0.5h0m0.5 -2.4h0m0.1 3h0m1.1 -0.6h0m0.5 -1.1h0m0.5 1.7h0m0.5 -2.3h0m0.2 2.1h0m0.7 -0.1h0m2.7 -1.7h0m0.2 -1.4h0m0.1 3.5h0m0.6 -3.4h0m0.8 4.5h0m0.6 -2.9h0m0.1 -0.1h0m0.8 -0.9h0m1.1 3.1h0m1.7 -0.7h0m0.1 -1.3h0m0.5 1.4h0m1.1 0.1h0m2.8 -1.2h0m7 0.6h0m1.4 -1.8h0m4.2 2h0m5.3 -0.9h0m34.6 0.4h0m-85.6 3.7h0m1.2 3.1h0m1.7 -0.4h0m2.1 0.6h0m0.2 -3.2h0m0.9 2.3h0m3.6 -0.9h0m0.2 1h0m0.5 -2.6h0m0.5 1.2h0m1.2 -2.2h0m0.1 3.1h0m0.5 -1.1h0m0.7 1.9h0m0.2 -1h0m0.3 -2.8h0m1.1 2.5h0m0.8 0.5h0m0 -2.3h0m0.4 3.7h0m0.7 -0.9h0m1.1 0.2h0m0.4 -1.3h0m0.7 -2h0m0.2 1.2h0m0.4 -0.1h0m0.1 1.3h0m1.2 1.2h0m0.2 -1.4h0m0.6 -1.2h0m0.5 1.9h0m0.4 0.2h0m0.4 0.9h0m1.3 -2.7h0m0.3 -1.2h0m0.4 1.5h0m0.4 2.2h0m0.5 -1h0m1.1 -0.1h0m0.1 -3.4h0m0.1 4.4h0m0.1 -2.7h0m0.5 2.8h0m0.2 -3.8h0m0.5 0h0m0.5 2.2h0m0.2 0.7h0m0.7 -2.7h0m0.4 3h0m0.6 -0.3h0m0.1 -2.6h0m0.6 0.8h0m0.1 1.1h0m0.3 -2h0m1 0.7h0m0.7 1h0m0 1.4h0m1 0.2h0m1.5 0.1h0m0.4 -4.2h0m0 0.3h0m0.1 2.5h0m0.2 0h0m1.5 0.3h0m1.7 -0.8h0m0.7 -1.3h0m0.4 2.3h0m2.4 0.5h0m1.2 -2.6h0m9.7 0.7h0m10.4 -0.3h0m-66.7 3.1h0m0.5 3.5h0m0.5 -3.1h0m2.2 1.8h0m0 0.2h0m1 0.9h0m0 1h0m0.9 -0.6h0m0.9 -1.7h0m0.2 -1.1h0m0.6 2.8h0m0.1 0.8h0m1.2 -0.9h0m0.3 1h0m0.1 -4.4h0m0.5 3.1h0m0.5 -2h0m0.1 2.2h0m0.1 -3.1h0m0.4 1.5h0m0.9 -0.6h0m0.7 2h0m0.2 -0.4h0m0.2 -2h0m1.8 0.6h0m0.1 0.1h0m0.2 -1h0m0.2 -0.2h0m3.5 0.3h0m3.5 -0.3h0m4.1 -0.1h0m0.9 0.6h0m1.6 -0.6h0m0.7 0.3h0m1.9 0.3h0m1.6 0.9h0m0.5 -1.1h0m0.3 -0.3h0m0.5 -0.2h0m1.4 0.1h0m0.1 3.1h0m0 -2.5h0m0.1 1.8h0m0 -0.3h0m0.6 -0.2h0m0.7 1h0m0.1 -2.6h0m0.5 3.3h0m0 -3.1h0m0.7 -0.5h0m0.1 4.6h0m0.7 -3.7h0m0 1.8h0m0.5 0.5h0m0.8 -2.4h0m0.5 3.4h0m0.1 -1.5h0m2 0.7h0m0.9 1.3h0m1.4 -2.3h0m1.2 0.7h0m0.7 0.5h0m2.5 0.3h0m1 0.4h0m2.7 0.2h0m2.2 -0.2h0m5.9 -0.5h0m25.2 -0.5h0m-98.9 6.2h0m6.7 -2.3h0m3.3 2h0m0.8 -3h0m0.3 2h0m0.8 -1.2h0m0.9 2.5h0m0.9 -4.7h0m0.2 2.6h0m0.6 2h0m1.2 -0.3h0m0.1 -1.2h0m0.7 -0.4h0m0.5 -2.4h0m0.4 4.3h0m0.3 -2.5h0m0.4 1.5h0m0 -3.3h0m0.5 3.1h0m0.1 -2.3h0m0.2 1.8h0m1.1 -1.9h0m0.3 1.1h0m0.6 -1.2h0m0 -0.7h0m29.4 0.4h0m0.8 1.6h0m0.3 -0.9h0m0.7 1.3h0m0.4 0.3h0m0.1 -2.8h0m0.5 0.9h0m1.1 3.2h0m0.1 -0.2h0m0 -3.3h0m0.4 1.7h0m0.1 1h0m0.3 -1.5h0m1.4 1.9h0m0.4 0h0m0.1 -2.2h0m0.6 2.7h0m0 -1.6h0m0.3 0.5h0m0.7 -0.2h0m0.2 -0.5h0m0.7 2.2h0m0.5 -4.3h0m0.9 3.7h0m0.2 -2.7h0m0.5 3.3h0m1.9 -0.2h0m1 -1.8h0m0.5 -0.4h0m0.2 -0.9h0m0.7 0.2h0m0.8 3.2h0m-77.7 0.1h0m1.4 1.5h0m7.5 0.1h0m2.9 2h0m2 1.2h0m1.8 0h0m1.5 -1.3h0m2.8 -3.4h0m1.7 4.5h0m2.3 0.4h0m0.1 -3.3h0m0.4 1.3h0m1.2 1.8h0m0.2 -4.6h0m0.4 2h0m0 1.8h0m0.3 0.2h0m0.3 -1.8h0m0.1 0.9h0m0 1.1h0m0.6 -3.2h0m0.6 -1h0m0.2 -0.2h0m37.4 0.9h0m0.5 -0.8h0m0.2 3h0m0 1.6h0m0.6 -3.8h0m0.3 1.2h0m0.2 0.2h0m0.5 1.6h0m1.1 -1h0m0.1 -2.5h0m1.1 4.1h0m0.6 -1.3h0m0.1 -3.2h0m0.7 2.4h0m0.5 -0.4h0m1.7 2.4h0m0.1 -4.3h0m3.9 4.4h0m0 -0.2h0m0.3 0.3h0m4.3 -0.2h0m1.6 0.4h0m1.6 -0.6h0m11.4 -0.9h0m-87.4 4.7h0m3.2 0.6h0m1.9 0.2h0m3.6 -0.6h0m0.7 -2.9h0m0.4 4.6h0m1 -4.6h0m0.8 2.6h0m0.8 -0.9h0m0 2.9h0m0.4 -4.5h0m0.2 2.9h0m0.4 -2.7h0m0.8 2.6h0m0 -1.3h0m0.9 1.2h0m0.6 0.2h0m0.2 -2.4h0m0.4 0.6h0m0.4 3.1h0m40.3 -1.1h0m0 -0.8h0m0.5 0.5h0m0.1 -2.5h0m0.5 0.8h0m1.5 1.6h0m0.2 -0.3h0m0.2 -1.8h0m0.8 3.8h0m0.2 -3.8h0m0.3 1.7h0m0.5 0.3h0m0 -2.9h0m0.4 2.1h0m0.2 0.3h0m0.3 0.9h0m0.3 1.3h0m1.5 -1.4h0m0.1 -1.6h0m3.4 2.1h0m0.4 -1.3h0m5 2.1h0m2.2 -3.6h0m11.4 -0.8h0m-84.4 9.3h0m1.3 -2.7h0m0.4 0.7h0m1.3 0h0m2.2 0.5h0m1.4 0.7h0m0.6 -0.2h0m0.2 -2.5h0m0.1 2.6h0m0.9 -3.2h0m0.7 4h0m0.3 -2.5h0m0.1 1.3h0m0.7 -1.8h0m1.1 3.6h0m1.5 -0.4h0m0.1 -2.9h0m0.2 -0.6h0m0.2 0.2h0m0.1 3.1h0m40.7 -2.4h0m1 1h0m0.5 1.6h0m0.1 -1.3h0m0.4 -3.3h0m0.2 2.8h0m0 -1.6h0m0.7 0.6h0m0.9 -0.9h0m0.5 2.8h0m0.1 -2.1h0m0 1.2h0m0.9 -2.6h0m0.4 4h0m1.9 -4.1h0m0.2 0.8h0m0 2.4h0m0.9 -1.8h0m0.3 0.9h0m2.4 1.2h0m0.1 -0.7h0m-61 5.6h0m1.8 -2h0m0.5 2.3h0m4 -3.7h0m0.4 4h0m1.2 -2.3h0m0.9 -1.2h0m1.3 4.3h0m0.2 -2.1h0m0.6 1.2h0m36.8 0.9h0m0.4 -0.8h0m1 -0.9h0m0 -3.1h0m1 1.1h0m0.3 0.6h0m0.1 -0.9h0m0.1 0.6h0m0.1 1.6h0m0.3 -1.6h0m1 2.9h0m0.8 -0.6h0m0.2 -1.5h0m0.4 2.5h0m0.1 -3.8h0m1.9 1.8h0m0 0.6h0m0.9 0.2h0m0.4 -2.4h0m1.5 -0.1h0m0.9 -0.2h0m0.1 0h0m13.9 1.6h0m5.5 0.9h0m10.3 -2h0m-92 4.4h0m8.8 -0.7h0m1.3 1.8h0m0 -0.4h0m0.5 -0.7h0m0.8 -0.8h0m1.5 3.1h0m6.2 1.5h0m28.6 -1.3h0m1.3 0.8h0m0.5 0.2h0m0.2 -1.1h0m0 -2h0m0 3.7h0m0.6 -4.8h0m0.5 0h0m0.4 2.5h0m0.8 0.1h0m0.5 2h0m0.6 -4.6h0m0.5 1.1h0m0.3 -0.7h0m0.2 4.2h0m0.4 -2.2h0m0 -1.5h0m0.8 1.4h0m0.1 1.5h0m2.5 -3.2h0m0.9 0.3h0m0.7 3.1h0m1.1 -2.5h0m1.4 2.9h0m4.6 -4.5h0m8.7 0h0m-96.6 6.4h0m39.1 -1.2h0m18.5 4.1h0m0.3 0h0m1.5 -0.4h0m0.6 0.5h0m1.4 0.5h0m0.1 -0.2h0m0.8 -0.4h0m0.4 -0.1h0m0.3 -1.4h0m0.7 -0.5h0m1.6 -0.2h0m1 1.3h0m0.3 0h0m0 -1h0m0.5 1.1h0m0.6 -3.2h0m0.4 2.9h0m0 -1.8h0m0.3 0.6h0m0.9 -1.8h0m1.3 0.8h0m0.6 1h0m1.3 2.3h0m1 -2.2h0m0.4 0.8h0m0.2 -2.3h0m1.7 3.7h0m0.4 -3.4h0m2.3 0h0m0.5 3.4h0m0.1 -3.2h0m1.2 2.6h0m1.3 -0.8h0m0.5 -1.5h0m1.3 2.4h0m1.4 -2.8h0m-38 5.7h0m0.6 2.2h0m5.8 -2.3h0m0.9 0.7h0m0.9 -0.5h0m0 0.1h0m0.8 -0.9h0m1.6 1.4h0m0 -1.8h0m0.4 4.3h0m0.3 -1.9h0m1.6 1h0m1.5 -0.4h0m0.8 -1.2h0m1.4 2.2h0m2.5 -3.8h0m0.3 3.1h0m0.6 -2h0m0.3 -1.8h0m1.4 3.3h0m0.9 -3.4h0m0.5 2.3h0m3.8 2.2h0m0.3 -3.2h0m0.2 -0.4h0m3.3 0.8h0m10 0.2h0m1 1.7h0m-38.3 2.3h0m6.3 -0.4h0m8.2 1.6h0m1 -1h0m1.5 0.8h0m0.1 -1.8h0m7.3 0h0m0.5 0.9h0m6 13.6h0m0.2 -4h0" fill="none" stroke-width="2.4" stroke-linecap="round"/>
</g>
<g fill="#ff0000" stroke="#ff0000">
<ellipse cx="612.5" cy="109.5" rx="18.024" ry="25.2336" transform="rotate(0 612.5 109.5)" stroke="none"/>
<path d="M617.3 53.5h0m-12.6 5.6h0m-6.6 12.1h0m0.9 0.7h0m6.3 -1.3h0m0.8 -0.4h0m2.8 -0.4h0m3.3 1.8h0m1.3 -0.9h0m0.9 -0.9h0m2.2 2.5h0m6.5 -0.2h0m0.6 -1h0m2.1 -2.5h0m4 -0.8h0m2.4 4.6h0m-28.6 5h0m2.3 -3.6h0m1.4 0.3h0m5.6 -0.4h0m0.6 -0.7h0m2.2 4.4h0m3.2 -0.2h0m0.2 -1.6h0m3.4 -1.8h0m1.2 3.2h0m0 -2.9h0m0.4 -0.1h0m0.3 2.1h0m3.5 0.7h0m7.6 -0.8h0m-39.4 4h0m1.1 -0.2h0m0.5 1.8h0m1.4 0.3h0m3.6 -3.9h0m0 4.1h0m0.1 -2h0m0.8 -2.2h0m0.5 3.1h0m0.9 -2.5h0m1.4 0.7h0m0.1 -0.2h0m1.5 0.6h0m1.5 2.7h0m0.3 -3.5h0m0.2 2.5h0m0.5 -1.5h0m0.1 -0.8h0m1.1 0.6h0m0.5 2.8h0m0.3 -0.7h0m0.5 0.1h0m0.4 -2.7h0m0.5 -1.2h0m0.8 1.9h0m0.2 1.1h0m0.1 -0.6h0m0 2h0m0.5 -2.8h0m0.6 1.5h0m1 0.4h0m0.3 -0.5h0m0.2 -0.3h0m0.2 0.6h0m0.7 -2.3h0m0.5 3.5h0m0.1 -2.2h0m0.1 -2.5h0m1.1 4.6h0m0.4 -3.5h0m0.1 0.8h0m1 1.8h0m0.2 0.3h0m0.3 -2.3h0m0.2 -0.4h0m1.1 2.4h0m0.6 0.9h0m1 -2.8h0m0.1 -0.9h0m0.4 0h0m2.2 1.6h0m0.1 -0.3h0m0 2.6h0m0.3 -2.9h0m2.4 0.6h0m-31.5 4.7h0m1.4 -1.9h0m0.1 3.8h0m0.7 -1.3h0m1.2 -2.8h0m0.1 4.4h0m0.4 -3.3h0m0.2 1h0m0.9 -1.8h0m1.2 0.2h0m0.1 1.7h0m1.8 0.7h0m0.7 -1.5h0m1 0.1h0m0 -1.4h0m0.6 0h0m0.5 0h0m0.9 1.8h0m1.4 -1.9h0m0.3 0.7h0m0.4 0.4h0m1.1 1.5h0m1.1 -0.3h0m1.1 -1.1h0m0.1 0h0m0.2 0.2h0m0.1 0.7h0m0.6 -0.8h0m0.3 0.1h0m0.2 -0.1h0m0.1 -0.2h0m0 2.6h0m0.6 0.3h0m0.2 -3h0m0.2 -0.6h0m0.2 -0.1h0m0.5 2.3h0m0.1 -0.9h0m0.8 -0.1h0m0.3 -1h0m0.3 3.1h0m0.2 -3.1h0m0.5 -0.5h0m0.4 3.9h0m0.6 -0.8h0m0 -0.6h0m1 -0.8h0m0.3 -0.3h0m0.1 -1.3h0m0.9 4.5h0m0.1 -1.6h0m1 -0.2h0m0 1.1h0m0.8 -0.7h0m0 1.3h0m0.2 -2.2h0m0.1 -0.9h0m1 2.1h0m3.7 -0.8h0m0.2 1.5h0m4.1 -2.8h0m1.4 1.3h0m4.6 1.7h0m-42.4 2.4h0m0.3 -0.7h0m19.4 -1.4h0m3 2.7h0m0 -2h0m0.3 0.4h0m0.3 -0.6h0m0.2 1.3h0m0.3 2.1h0m0.4 -1.7h0m0.2 0.4h0m0.1 -1.9h0m0.1 3.4h0m0.1 -1.3h0m0.8 -2.5h0m0.9 1.8h0m0.1 2.4h0m0.3 -0.8h0m0.2 -3h0m0.5 1.4h0m0.7 0.7h0m1.1 0.3h0m0.2 -0.6h0m0.4 -1.7h0m0 0.8h0m0.9 0.7h0m0.4 -1.4h0m0.2 1.5h0m0.3 2.4h0m0.5 -1.8h0m0.3 0.8h0m0.4 0.6h0m0.7 -1.4h0m1.1 0.9h0m1.6 -3.1h0m0.3 1.9h0m0.4 1.3h0m3.2 -2.4h0m5.6 3.4h0m2.5 -1.1h0m5.3 -3.3h0m-28.4 5.5h0m1.5 1.4h0m0.3 -1.4h0m0.8 1.1h0m0.4 1.8h0m0 -1.7h0m0.1 -2.2h0m0.8 4.7h0m0 -4.5h0m0.3 -0.2h0m0.6 0.6h0m0.1 3h0m0 -1.1h0m0.4 0.9h0m0.5 -2.7h0m0.6 1.4h0m0 1h0m1.7 0.7h0m1.2 -0.7h0m0.1 -2.9h0m1.3 1.2h0m3.5 2.6h0m1.2 0.7h0m0.1 -3.5h0m-13.1 4.1h0m0.7 1.1h0m0.1 0h0m0 2h0m1.6 -1h0m0.5 -0.8h0m0.3 -1.7h0m0.1 4h0m0.4 0.6h0m0.3 -2.4h0m0.4 0.7h0m0.2 -1.1h0m0.6 -0.7h0m0.7 3h0m0.8 -2.8h0m0.2 0.1h0m1 3.1h0m0.7 -2.9h0m1.3 -0.8h0m2.5 2h0m2.7 0.1h0m-13.6 2.6h0m0.4 4.2h0m0.4 -1.1h0m0.1 -2.5h0m0.3 -0.5h0m0 1.5h0m0.6 2.3h0m0.5 -1.5h0m0.2 -1.1h0m0.1 1.3h0m1.4 -0.1h0m0.1 0h0m0 -2.9h0m0.1 0.8h0m0.3 2.7h0m0.1 -3.1h0m0.1 4.3h0m0.3 -2.4h0m0.9 -0.2h0m2.5 1.6h0m0.3 -0.3h0m1.1 -1.2h0m3.4 -1.4h0m11.1 2.4h0m-58.9 4.5h0m35.2 0.5h0m0.4 0.9h0m0.4 0.4h0m0.2 -3.2h0m0.7 2.2h0m0.4 -1.1h0m0.2 -1.6h0m0.4 -0.6h0m0.4 3.4h0m0.1 0.8h0m0.3 -2.4h0m0.1 2.9h0m0.2 -1.6h0m1.1 0h0m0.7 -0.6h0m0.4 1.2h0m0.2 -3.9h0m0.1 2.2h0m0.7 -1.1h0m0.5 0.7h0m0.3 1h0m1.4 -0.5h0m0.1 1.9h0m0.5 -1.1h0m0.1 0.8h0m1.5 -1.2h0m0.9 1.1h0m0.1 -0.2h0m0.1 -3.3h0m1.7 2.3h0m-50.6 6.7h0m0.1 -0.2h0m1.1 -2.6h0m0.5 2.5h0m0.4 -0.2h0m34.3 -2.5h0m0.3 2h0m0.8 -2.9h0m0.7 1.3h0m0.2 2.4h0m0.5 0.6h0m0 -1h0m0 -1.4h0m0.8 2h0m0.3 -2.5h0m0.3 1.2h0m0.1 1.3h0m0.1 -1.5h0m1.3 -2.5h0m0.2 0.7h0m0.2 3.7h0m0.3 -2.7h0m0 1.1h0m0.6 0h0m0.1 -1.5h0m4.2 -0.5h0m2.3 2.4h0m12.4 -0.2h0m-71 6.1h0m3.5 0.5h0m1 -0.1h0m1.6 -0.4h0m1.7 -1.5h0m1.4 -1h0m0.1 0.2h0m0.6 -1.6h0m0.8 -0.6h0m0.1 4.9h0m0.1 -2.8h0m0.1 0.7h0m0 0.8h0m0.3 -0.8h0m31.9 0.1h0m0.3 1.9h0m0.8 -2h0m1.1 -2.8h0m0.1 4.1h0m0.1 -2.4h0m0 2.3h0m0.5 0.8h0m0.6 -3.2h0m0 0.3h0m0.1 -1.2h0m0.1 2.8h0m0.2 0.4h0m1.5 -1.9h0m0.2 -0.2h0m0.2 -0.2h0m0 3.2h0m0.8 -3.8h0m0.6 -0.5h0m3.8 2.7h0m0 0.1h0m0 -1.1h0m0.1 0.4h0m3.8 2.2h0m2.3 -3.8h0m-59.8 8.1h0m1.1 -3h0m0.1 0.1h0m3.2 1.8h0m1.7 -2h0m0.9 -0.7h0m0.4 3.2h0m0 -2.9h0m1.9 3.4h0m0.2 -1.1h0m0.2 -2.1h0m0.2 4h0m0.3 -0.1h0m0.8 -3.4h0m0.5 2.4h0m0.1 -0.5h0m0.4 -2.3h0m0.5 1.3h0m0.1 -1.4h0m0.9 1.9h0m0 1.1h0m0.3 -1.6h0m27.6 1.9h0m0 -1.9h0m0 -1.2h0m1.2 -0.5h0m0.2 3h0m0.2 -1h0m0.5 -1.8h0m0.3 3.3h0m0.5 -2.3h0m0.1 2.4h0m0.7 -2.5h0m0.6 1.6h0m0.2 0.8h0m0 -0.3h0m0.2 -0.7h0m0.2 -2.4h0m0.3 1.6h0m0.1 -2h0m0.1 3.8h0m0.9 -3.3h0m0.3 2.6h0m0.1 -1.6h0m1.1 0h0m0 1.5h0m1.3 0.6h0m0.1 -0.8h0m0.4 1.4h0m1.5 -3.8h0m0.1 1.4h0m0.1 0.7h0m0.1 -0.9h0m0.3 -1.1h0m4.9 0.1h0m-62.4 6.5h0m1.3 2.1h0m1.3 -4.2h0m1 2.3h0m3.7 -1.7h0m2.1 0.5h0m0.5 2.6h0m0 -0.6h0m1.7 -3.3h0m0.5 2.2h0m0.4 1h0m0 -1.7h0m0.7 1.5h0m0.8 -1.4h0m0.3 0.8h0m0.2 -0.5h0m0.3 -1.2h0m1.8 -0.5h0m0.5 1.8h0m0.3 2.6h0m0.4 0.2h0m0.2 -2.7h0m0 1.5h0m0.5 -3.3h0m0.2 2.1h0m0.1 -2.1h0m0 1.7h0m0.1 3h0m0.3 -3.8h0m0.8 1.9h0m0.3 -2.2h0m0.3 2.6h0m0.6 -0.9h0m0 2h0m0.5 -1.4h0m1.1 1.3h0m1.2 -0.2h0m16.4 0.2h0m0.2 -0.5h0m0.9 -0.4h0m0.1 1.3h0m0.9 -3h0m0.4 -1.5h0m0.5 0.7h0m0 2.6h0m0 -3.4h0m0.3 3.2h0m0.2 -3.2h0m0.7 0.2h0m0.1 1.4h0m0.7 2.6h0m0.2 0.4h0m0.1 -1.5h0m0.9 -1.1h0m0 -2h0m0.1 1.1h0m0 -1h0m0.5 0.2h0m0.2 0.7h0m0.1 0.8h0m0.5 1.6h0m0.6 0.2h0m0 -1.3h0m0.2 2.1h0m0.3 -4.2h0m0.1 0.2h0m0.8 -0.3h0m0.4 3.6h0m0.1 -1.4h0m0.5 -1.2h0m0.1 2.5h0m0.2 0.1h0m0.5 -0.4h0m0.1 0.1h0m0.4 0.9h0m0.8 -1.9h0m2.1 1.2h0m0.6 -1.6h0m1.2 -0.9h0m0.2 2.4h0m4.3 -1.7h0m2.6 2.2h0m13.1 -3.1h0m-73 8.2h0m4.3 -2.7h0m3.5 -0.7h0m1.3 2.3h0m0.6 -3h0m0.7 1.1h0m0.4 -0.7h0m0.1 2.9h0m0.3 -3.1h0m0.1 3.5h0m0.2 -1.4h0m0.5 -1.9h0m0.8 4.2h0m0.3 -2.7h0m0.6 1.9h0m0.4 -0.8h0m0.5 0.9h0m0.2 -1.3h0m0.3 0.8h0m1 -3.5h0m0 1.1h0m1.6 0.2h0m0.2 -1.1h0m0.2 1.4h0m0.1 -0.4h0m0.6 3.3h0m0 -2.3h0m0.2 -0.8h0m0.2 2.4h0m0.1 -1.6h0m0.1 1.7h0m0.1 -1.4h0m0.1 -0.1h0m0 -2.1h0m0.6 0.4h0m0.7 -0.8h0m0.2 3.6h0m0.2 -0.9h0m0.3 0.9h0m0.4 -1.8h0m0 3h0m0.7 -2.5h0m0.4 -1.9h0m0.1 1.2h0m0.2 2h0m0.2 0.8h0m0.2 -1.3h0m0.3 0.8h0m0.2 -1.9h0m0.4 1.7h0m1.2 0.8h0m0.1 -0.5h0m0.3 -2h0m0.4 2.8h0m0.5 -2.5h0m0.7 0.4h0m0.6 -0.6h0m0 0.1h0m0 2h0m0.6 -2.3h0m0.5 2.8h0m0.8 -1.4h0m0.3 0.7h0m0.1 -2.5h0m0.4 -0.3h0m0.2 1.7h0m0.2 -0.5h0m0.1 0.8h0m0 0.3h0m0.7 -2.2h0m0.6 -0.4h0m0.3 3h0m0.4 -0.9h0m0.1 -2.9h0m1 1h0m0.1 1.5h0m0.3 -0.5h0m0 0.8h0m0.3 -2.7h0m0.6 3h0m0.7 -1.8h0m0.8 3.1h0m0 -2.3h0m0.4 0.4h0m0.1 -1.2h0m0.4 -1.2h0m0 2.9h0m0.7 -0.6h0m0.1 -1h0m0 0.5h0m1.4 -1.6h0m0.8 1.7h0m0 0.5h0m0.2 0.2h0m0.6 1.4h0m0.1 -1h0m1.4 1h0m0.2 -1.6h0m0 1.4h0m0.2 0.1h0m0 -0.7h0m1.8 0.7h0m1.1 -2.4h0m0 2.7h0m1 -2.9h0m0 0.7h0m0.4 -2.2h0m2.3 3.2h0m0.8 0.7h0m0.4 -1h0m0.1 -1.7h0m0.8 0.1h0m2.4 1.2h0m6.5 -1.4h0m-57.4 8.7h0m0.1 -0.1h0m1 -4.7h0m0.2 1.8h0m4.2 -0.3h0m0.4 1.6h0m0.8 -1.6h0m0.6 2.8h0m1 -0.1h0m0.5 -0.1h0m0.1 -3.1h0m0.6 3.7h0m0.8 -3.4h0m0.4 2.5h0m1 -3.3h0m0.4 2.2h0m0.3 -2.5h0m0.7 0.6h0m0.5 -0.4h0m0.5 -0.1h0m0.9 3.5h0m0 -2.2h0m0.1 2.4h0m0.5 0.2h0m0.8 -1.3h0m0.4 -1.4h0m0 3.3h0m0.3 -2.3h0m0.2 1.2h0m0.2 -2.7h0m0.2 -0.5h0m0.4 -0.1h0m0.1 2.9h0m1.8 -3.3h0m0 0.9h0m1.4 0.2h0m0.6 2.9h0m0.6 0.8h0m0 -4.6h0m0.8 3.1h0m0.2 0.7h0m0 -2.4h0m0.3 -1.1h0m0.5 1.8h0m0.2 -1.2h0m0.1 -0.1h0m0 3.4h0m0.3 -2.8h0m0.4 3.3h0m0.7 -2.2h0m0.3 -0.6h0m0.1 -0.9h0m0.3 1h0m0.2 2.4h0m0.3 -1.4h0m0.6 -3h0m0.6 0.5h0m0.4 -0.2h0m0.7 2.5h0m0 -2.7h0m0.8 0.7h0m0.6 -0.8h0m0.5 0.2h0m0.1 3.3h0m1.2 -2.5h0m0.2 2.2h0m0.6 1.4h0m0.2 -1.6h0m0.3 -0.4h0m0.3 0.3h0m0.1 -2.8h0m1 1.3h0m0.1 -0.5h0m1 0.1h0m1.4 2.1h0m0.7 0.1h0m4 -2.6h0m2 3.6h0m0.1 -4.4h0m7.6 1.7h0m-64.2 4.8h0m14 -0.4h0m0.2 -1.1h0m2.7 3.5h0m5.6 0.4h0m1.2 -3.2h0m0.3 -0.4h0m1.1 2.5h0m0.7 -2.3h0m1.1 1.4h0m0.2 1.4h0m0.9 -0.3h0m0.5 -0.9h0m1.1 1.5h0m0.7 -2h0m0.2 2.8h0m0 -0.3h0m1.1 -1.6h0m0.3 -0.8h0m1.1 2h0m0.1 -1.6h0m0.1 2.3h0m0.3 -4h0m0.9 4.1h0m0.1 -0.4h0m0.8 -2.5h0m0.1 -0.7h0m0.5 1h0m2 0.9h0m0.1 -1.5h0m0.3 -0.2h0m0.9 2.9h0m0.9 0.7h0m0.3 -3.1h0m2 0.4h0m2 -0.6h0m0.4 -1.3h0m0.8 3.3h0m0.1 -1.1h0m0.6 -0.3h0m1.5 -1.3h0m1 3.3h0m0.4 -2.5h0m0.7 3h0m1.3 -0.1h0m2.2 -4.3h0m1.1 0.1h0m0.7 0h0m0.1 1.8h0m-40.9 4.6h0m3.6 1.3h0m5.4 -2.7h0m0.4 4.4h0m0.7 -0.1h0m0.4 -2.1h0m1.2 1.9h0m0.9 -3.7h0m1.1 1.7h0m2.8 0h0m1.7 0.4h0m0.7 2.2h0m1 -2.6h0m1.1 2.3h0m0.3 -3.3h0m0.2 -0.2h0m1.1 -1.1h0m1.7 4.2h0m0.8 -1.5h0m0.1 -0.2h0m1.2 -1.6h0m0.9 2.2h0m0.2 -3.2h0m0.2 2.2h0m1.1 2h0m1.4 -0.6h0m0.6 -3.4h0m5.2 2.6h0m17.2 -0.7h0m-47.1 3.5h0m3.6 3.8h0m0.5 -2.1h0m0.5 -1.4h0m0.1 3.4h0m2.1 -3.8h0m3.9 3.9h0m1.6 -3.8h0m0.9 2.7h0m1.4 -0.3h0m1.6 -0.3h0m1 0.4h0m2.6 -2.5h0m0.1 2.1h0m0.1 -2.4h0m2.4 2.7h0m2.5 -2.1h0m1.6 -0.5h0m12.7 2.3h0m5.9 2h0m-37.2 3h0m1.5 -0.3h0m2.4 -1.8h0m15.5 0.9h0m14.5 1.2h0m-36.8 5.1h0m7.4 1.9h0m1.9 -2.5h0m1.1 -1.2h0m3.8 3.4h0m-27.1 5h0m2.9 -3.4h0m46.7 0h0m-24.1 7.7h0m-13.2 1.6h0" fill="none" stroke-width="2.4" stroke-linecap="round"/>
</g>
<g fill="#00ff00" stroke="#00ff00">
<ellipse cx="578.5" cy="95" rx="20.9459" ry="23.4594" transform="rotate(0 578.5 95)" stroke="none"/>
<path d="M577.6 52.3h0m10 0h0m-19.9 1.2h0m5 0.4h0m11.1 1h0m-23.2 3.7h0m2.4 3.5h0m1.1 -1h0m0.6 1.3h0m3.3 0.1h0m0.1 -2.1h0m1.5 1h0m1 0.1h0m7.4 0.5h0m12.2 -0.9h0m0.4 -2.6h0m0.7 1.5h0m3.2 2.3h0m1.7 -4h0m-43.2 7.5h0m0.1 -1.6h0m2.5 1.5h0m4.6 0.1h0m0.6 0.4h0m1.2 0.2h0m2.5 0.9h0m0.2 -3h0m1.4 0.9h0m0.3 -1.6h0m0.9 -0.9h0m0.5 3.1h0m0.4 -0.6h0m2.5 0.6h0m0.3 -0.5h0m0.7 -1.3h0m0.2 3.4h0m1.6 -1.7h0m0.9 0.9h0m0.2 -4h0m1.7 1.3h0m0.4 -0.7h0m0.8 3.1h0m0.8 -0.9h0m0.5 -2.4h0m1.9 0.5h0m0.7 2.5h0m0.9 -2.3h0m1.1 2.5h0m0.7 -1.9h0m1.2 3.1h0m0 -4.3h0m1.3 0.4h0m0.9 3h0m1.1 0.8h0m2.6 -3.7h0m0 0.6h0m-69.4 8.2h0m10.1 -4.8h0m26.1 2.9h0m0.1 0.5h0m1.2 -1.2h0m0.6 1.1h0m0 1.1h0m0.2 -1.1h0m0.3 0.7h0m0.9 -0.2h0m0.1 -3.8h0m0.4 1.3h0m0.1 3.3h0m1.6 -4.4h0m0.8 2.9h0m1.3 -1.7h0m0.1 1.9h0m1.5 -1.3h0m1.2 2.6h0m0.3 -1.1h0m0.1 -3.6h0m0.4 2.7h0m0.1 2.1h0m0.1 -1.4h0m0.5 -2.9h0m0 3.5h0m1.8 -0.5h0m0.7 -2.3h0m0 -1h0m0.1 3.6h0m0.3 -0.2h0m0.6 0.3h0m0.1 -0.2h0m0.4 -1.8h0m0 -0.9h0m0.8 2.7h0m0.3 -1.7h0m0.7 -0.8h0m0.1 0.9h0m0.2 2.5h0m0.3 0.2h0m0.3 -1.1h0m0.4 -2.8h0m0.2 -0.1h0m0.5 1.7h0m0.6 1.1h0m0.6 -1.3h0m0.8 0.1h0m0 -0.5h0m0.1 2.6h0m0.8 -2.4h0m0.4 -0.8h0m0.3 2.4h0m0.5 0.4h0m0.2 0.5h0m1.1 0h0m0.5 -2h0m0.9 -0.6h0m0.8 -0.5h0m0.6 1.2h0m0 0.5h0m0.2 -1.8h0m0.2 1.8h0m0.2 -1.5h0m0.7 0.7h0m0.4 -0.5h0m0.1 2.3h0m0.1 -2h0m0.4 1.4h0m0.8 -2h0m0.2 2.9h0m0.4 -4.5h0m0.6 2.8h0m0.2 -0.3h0m1.2 -0.1h0m0.4 0h0m0.4 -1.7h0m1.2 -0.5h0m2.1 3h0m0.4 1.7h0m0.9 0h0m1.6 0.1h0m1.1 -2.1h0m4.2 -1.6h0m1.7 2.7h0m-70.6 2h0m6.8 -0.6h0m12.2 2.9h0m2.5 -2.7h0m2.5 4h0m0.9 -2h0m0.9 2.3h0m0.9 -0.1h0m0.6 -4h0m0 1.4h0m0.2 1.7h0m0.3 -0.8h0m0.4 1.3h0m0.1 -2.5h0m0.6 -0.4h0m0.7 0.9h0m0.6 0h0m0.7 -1.2h0m0.3 2.4h0m0.2 -2.4h0m0 3.3h0m1.1 -1.6h0m0.1 -2.8h0m0.1 1.2h0m0.3 0.7h0m0.4 0h0m0.3 0.4h0m0.9 -1.2h0m0.4 0.6h0m0.8 -1.6h0m0.5 1h0m0.1 -0.2h0m0.2 0.3h0m1.5 -1h0m2.4 -0.2h0m6.5 0.2h0m1.6 -0.1h0m0.7 0.4h0m0.6 -0.5h0m2.2 1.8h0m0.2 -1.6h0m0.8 1h0m0.5 -0.9h0m1.3 1.7h0m0.6 1.5h0m1 -3.2h0m0.6 1.3h0m0.1 0.2h0m0.2 1.4h0m0.2 0.4h0m0.2 -2.4h0m0.2 3.2h0m0.4 -3.8h0m0.2 1h0m0.9 2.2h0m0.9 -2.4h0m0 1.2h0m0.2 -0.3h0m0.6 1.8h0m0.4 0.6h0m0 -4.7h0m1.7 3.3h0m0.5 1.2h0m0.3 -2.9h0m0.2 2.7h0m-57 2.8h0m4 0.2h0m3.2 1.6h0m3.4 0.3h0m0.1 -1.6h0m1 -1h0m0.7 0.7h0m0.3 -1.6h0m1.5 1.1h0m0.3 0.7h0m1.6 -1.6h0m0.6 -0.8h0m0.6 2.6h0m0.3 1.9h0m0.1 -3.5h0m0.1 0.8h0m0.2 0.6h0m0.3 1.7h0m1.6 -1.9h0m0 -1.3h0m1.6 0.4h0m1.3 -1.5h0m27.9 0h0m0.1 1.9h0m1.4 0.1h0m0 -1.8h0m0.4 2.1h0m0.6 -1.5h0m0 2.5h0m0 -2.8h0m0.3 2.1h0m0.1 -0.6h0m0.1 2.9h0m0.3 -3.2h0m0.3 2.5h0m0.1 -4.1h0m2 1.5h0m0 0.1h0m0.2 -0.7h0m0.4 1.1h0m0.4 2.7h0m0.8 -4h0m0.3 1.9h0m0.7 -2.1h0m0.4 3.4h0m0 -2h0m0 2.7h0m0.5 -1.4h0m2.6 -3h0m0.7 0.3h0m3.7 2.4h0m-67.6 4.9h0m4.5 1.1h0m1.9 -3h0m0.1 3.2h0m0.1 -2.4h0m1.2 0.1h0m1.1 2.3h0m0.8 -1.1h0m0.7 -1.3h0m0.2 1.4h0m1.2 0.1h0m0.3 -1.8h0m0.6 2.4h0m0.2 -3.3h0m0 0.7h0m0.1 3.2h0m0.1 -0.2h0m2.4 -3.5h0m0 1.4h0m0.1 2.6h0m0.2 -4h0m1.4 -0.6h0m0 2.9h0m0.1 -0.3h0m0 -1.9h0m0.1 1.7h0m0.4 2.2h0m0.1 -2.9h0m0.1 -1.5h0m0.2 0.6h0m36.8 1.3h0m0 -1.6h0m0.9 1.7h0m0.1 1h0m0.1 -0.1h0m0.2 -2.5h0m0.3 3h0m1 -0.7h0m0.3 0.2h0m1.6 -2.7h0m0.5 0.9h0m1.9 2.6h0m0.5 -0.6h0m0.3 -0.1h0m0.4 -1h0m1.8 1.3h0m0.2 -2.7h0m0.5 2.2h0m4 -2.1h0m-62.9 4.7h0m3.2 2.2h0m0.2 0.1h0m0.1 1.5h0m0.9 -1.8h0m0.2 -2.2h0m0 1.2h0m0.2 2.4h0m0.1 -1.7h0m1.4 -0.7h0m0.1 -1.7h0m1.6 0.1h0m0.1 3.2h0m0.1 -2.5h0m0.2 0.9h0m0.4 1.8h0m0 -0.5h0m0.1 0.3h0m0.1 1h0m1.1 -4.4h0m0.3 1.5h0m39.3 1.8h0m0.3 -1.7h0m0.1 -1h0m0.7 2.5h0m0.6 -2.9h0m0.2 3.8h0m0.5 0.1h0m0.1 -3.6h0m0.1 3.5h0m0.1 1h0m0.6 -3.7h0m0.2 0.7h0m0.4 0.6h0m0.4 -2.5h0m0 2.8h0m0.2 -0.7h0m1.5 1.2h0m0.8 0.4h0m5.8 1.2h0m-65.6 0.6h0m1.3 0.7h0m4.1 -1.1h0m0.4 2.8h0m0.7 1.4h0m0.9 -3.7h0m0.4 1.3h0m0.4 1.8h0m0.6 -1.7h0m0.8 -0.4h0m0 1.8h0m0.2 -1.5h0m0.3 -0.3h0m0.3 1.6h0m0.5 -3.1h0m0.1 4.1h0m0.3 -4.2h0m0 3.8h0m0.3 0.4h0m0.4 -0.9h0m0 -0.2h0m0.2 -2.8h0m0.2 0.4h0m40.9 -0.5h0m0.2 4.6h0m0.7 -3.5h0m0.2 1.9h0m0.2 1.2h0m0.9 -2.1h0m0.4 -1h0m0.1 2.5h0m0.6 -0.4h0m0.3 -1.3h0m0.9 -1.2h0m0.3 -0.8h0m0.1 1.2h0m0.4 -0.9h0m0.7 2.2h0m1.3 1.2h0m0.3 0.1h0m1 -0.7h0m0.7 0.4h0m1 -0.6h0m0 1.2h0m1.1 -3.3h0m1.9 1.7h0m4 0.2h0m-64 5.7h0m0.4 0.4h0m2.1 -1.6h0m0.3 -0.1h0m0.2 1.9h0m0.7 -1.2h0m0.2 -2.6h0m0.1 0.1h0m0.3 0.9h0m0.7 2.1h0m1.1 -1.8h0m0.2 3.2h0m0.3 -3.9h0m0.1 1.5h0m0.1 -0.7h0m0.5 2.6h0m38.6 -0.9h0m0.5 -3.1h0m0.2 1h0m0.2 -0.7h0m0.7 2.6h0m0.1 -2.8h0m0.2 2h0m1.1 -1.2h0m1.1 2.8h0m0.3 -4.1h0m0.4 3.6h0m0.5 -2h0m0.1 1.4h0m1.3 -0.4h0m0 2.1h0m1.4 -0.7h0m0 -2.8h0m0.9 2.7h0m0.2 -1.1h0m1.3 2h0m-76.3 1h0m5.4 -0.2h0m7.4 4h0m4.9 -3.3h0m0.1 0.5h0m0.2 -1.2h0m0.4 1.4h0m2.3 2.1h0m0.4 -1.9h0m2.2 -1.5h0m0.1 1h0m0.2 0.7h0m0.9 -2.3h0m0.8 1.1h0m0.7 -1h0m0.2 4.1h0m0 -2.4h0m0.4 -0.7h0m0 3.4h0m0 -1.2h0m0.6 -0.3h0m0.4 1.6h0m0 -4h0m0.5 2.7h0m36 0.8h0m0.1 -0.4h0m0.8 -2.7h0m0.5 3.1h0m0.5 -3.6h0m0 0.9h0m0.1 0.8h0m0.2 0.3h0m0.2 1.6h0m0 -1.6h0m0.8 -2.3h0m0.3 1.3h0m0.6 1.5h0m0.3 -1.2h0m0.1 1.3h0m0.1 1h0m0.7 -1.2h0m0.7 -1.9h0m0.8 -0.7h0m0.5 2.8h0m0.1 1.4h0m1.2 -3.1h0m3.8 1.8h0m0.6 -3.1h0m-73.3 8.2h0m9.7 0.5h0m4.8 -0.5h0m1.2 0.6h0m1.6 -1.4h0m0.3 -1.1h0m0.2 -1.3h0m0.7 2.4h0m0.1 0.5h0m1.4 -1.1h0m0.4 1.5h0m1 -3h0m0.2 2.4h0m0.9 0h0m0 1.6h0m0 -4.4h0m0 1h0m0.1 -1.1h0m0.1 5h0m0.9 -1.2h0m0.7 0.9h0m0.2 -4.4h0m0.3 2.3h0m0.2 0.8h0m0.4 1.2h0m0.5 -2.6h0m0.2 -1.6h0m0.4 2.5h0m0.1 0.4h0m0.5 -1.7h0m1 3.4h0m0 -1.7h0m0.4 0.1h0m1.3 1.1h0m27.6 -2.1h0m0.1 1.6h0m0.5 0.2h0m0.3 0.3h0m0.7 -3.9h0m0.2 -0.4h0m0.4 3.5h0m0 -1.3h0m0.7 -0.8h0m0.1 0.2h0m0.7 -1.6h0m1.6 1.1h0m0.3 -1h0m0 1.6h0m0 1.9h0m1 -3.1h0m0.2 3.4h0m0.1 -1.2h0m0.4 -0.6h0m0.4 0.4h0m1 -2.7h0m0.9 3.7h0m0.8 -1.9h0m-48.8 4.4h0m0.2 1h0m0.3 -0.5h0m0.2 3.2h0m0.2 -3.8h0m1.5 3.4h0m0.1 -3.4h0m0.4 2h0m0.2 -1.4h0m0 2.8h0m0.1 -3.6h0m1 1.2h0m1 0.7h0m0.3 -2.6h0m0.2 4.5h0m0.9 -2.3h0m1.7 -0.2h0m0.7 2.6h0m0.4 -0.8h0m0 0.7h0m0 -1.5h0m0.4 -0.6h0m0.5 1.4h0m0.4 -2h0m0.4 -1.5h0m0.1 1.1h0m0.3 1h0m0.1 0.5h0m0 -2.2h0m0.8 3.1h0m0.3 0.2h0m0.5 0.3h0m0.1 0.1h0m0.4 0h0m0.1 -1.6h0m2.2 0.7h0m0.1 0.7h0m9.1 0.4h0m2.9 0.1h0m2 -1h0m0.6 0.5h0m0.4 -0.7h0m0.2 0h0m1.9 1h0m0.2 -1.8h0m0 0.2h0m0.5 1.4h0m0.5 -1.8h0m0.9 1.1h0m0.3 -2.5h0m0.5 -0.3h0m0.8 1.5h0m0 -1.8h0m0.4 3.3h0m0.5 0.7h0m0.5 -1.7h0m0.1 -2.7h0m0.3 1.2h0m1.7 0.7h0m0.2 0.5h0m0.1 -0.8h0m0.3 -1.4h0m0.4 0.8h0m0.5 1.7h0m0.9 -0.6h0m0 -1.5h0m0.1 1.5h0m1.3 1.2h0m0.4 -0.1h0m3.9 0.9h0m0.4 -2.3h0m0.4 0.4h0m-60.6 6.1h0m14.1 -3.3h0m0 0.5h0m0.3 0.5h0m1 2.6h0m1.2 0.4h0m0.6 -0.7h0m0.9 -0.3h0m1.6 1.7h0m0.6 -2.1h0m0.5 -2.5h0m0.5 2.6h0m0.1 1.4h0m1.2 -0.5h0m1.1 -1.1h0m0.1 -2.2h0m0.3 -0.3h0m0.2 0.8h0m0.8 0.4h0m0.4 -0.7h0m1.3 0.5h0m0.1 1.3h0m0.7 -2h0m0.4 2.5h0m0.1 -3.1h0m0.9 3.9h0m0.2 -1.4h0m0 -1.1h0m0.2 3.6h0m0.2 -1.5h0m0.1 -2.9h0m0 2.2h0m0.7 -2.7h0m0 1.1h0m0.5 0.6h0m0.2 2.6h0m1.2 -2.8h0m0.3 2.6h0m0.1 -1h0m0.3 -3.1h0m0.1 1.2h0m0.4 1.7h0m0.8 -0.8h0m0.5 -0.5h0m0.1 -0.9h0m0.3 3.9h0m0.7 -1.4h0m0.1 -2.9h0m0.9 0.1h0m0 3.9h0m0.4 -2.5h0m0.2 1.5h0m0.2 -1.9h0m0.5 -1.3h0m0.7 4.1h0m0.3 0h0m0.2 -2.2h0m0.4 -0.2h0m0.2 0h0m0 2.2h0m0.2 -2.5h0m0 1.4h0m0.1 -2.8h0m0.3 3h0m1.4 -0.5h0m0.3 -1h0m0.3 0h0m0.1 2.7h0m2 -3.8h0m0.4 0.8h0m0.5 1.5h0m0.5 -1.8h0m0.5 0.7h0m0.7 -0.9h0m0 2.8h0m0.3 -2.9h0m0.7 3.9h0m0.3 -2.2h0m0.9 -0.7h0m0.3 0.4h0m0.2 2.5h0m0.3 -0.7h0m0.4 -0.7h0m1.3 -0.6h0m2.1 1.4h0m0.1 -2.8h0m0.2 1.2h0m1.7 -0.4h0m-45.4 4.5h0m5 3.1h0m4.1 -3.3h0m1.2 1.7h0m4.1 1.2h0m0.3 -2.8h0m0.7 -0.6h0m0.2 2.1h0m1.7 1.2h0m1.1 -2h0m1.2 0.5h0m1.4 -1h0m0 -1.3h0m0.4 3.3h0m0 -2.2h0m0.9 -0.1h0m0.6 -0.8h0m0.6 0.5h0m1 1.7h0m0.2 -2.5h0m0.7 0.9h0m0.3 2.8h0m1.1 -1.2h0m0.9 -2.3h0m3.5 2.7h0m2.9 -2.3h0m0.8 0.5h0m3.2 1.2h0m1.7 -0.6h0m0.9 -0.1h0m1.5 -0.1h0m-50.7 4.8h0m0.3 0h0m11.7 3.1h0m8.5 -3.9h0m1.7 -0.1h0m7.4 1.7h0m2.7 -2h0m5.8 0.8h0m4.4 -0.1h0m4.4 -0.6h0m-63.9 5.2h0m28.3 4.1h0m0.1 -1.9h0m5.6 -1.5h0m9.9 0.3h0m5.7 -0.9h0m9.3 0.3h0m-30.6 7.1h0m31.8 1.7h0m-40.8 12.4h0" fill="none" stroke-width="2.4" stroke-linecap="round"/>
</g>
<rect x="482.5" y="4.5" width="192" height="191" fill="none" stroke="#a4a4a4" stroke-width="1"/>
<text x="482.5" y="208" text-anchor="middle">-0.06</text>
<text x="514.5" y="208" text-anchor="middle">-0.04</text>
<text x="546.5" y="208" text-anchor="middle">-0.02</text>
<text x="578.5" y="208" text-anchor="middle">0</text>
<text x="610.5" y="208" text-anchor="middle">0.02</text>
<text x="642.5" y="208" text-anchor="middle">0.04</text>
<text x="674.5" y="208" text-anchor="middle">0.06</text>
<text x="479.1" y="8.1" text-anchor="end">0.04</text>
<text x="479.1" y="29.32" text-anchor="end">0.03</text>
<text x="479.1" y="50.54" text-anchor="end">0.02</text>
<text x="479.1" y="71.77" text-anchor="end">0.01</text>
<text x="479.1" y="92.99" text-anchor="end">0</text>
<text x="479.1" y="114.21" text-anchor="end">-0.01</text>
<text x="479.1" y="135.43" text-anchor="end">-0.02</text>
<text x="479.1" y="156.66" text-anchor="end">-0.03</text>
<text x="479.1" y="177.88" text-anchor="end">-0.04</text>
<text x="479.1" y="199.1" text-anchor="end">-0.05</text>
<path d="M514.5 195.5v-2M514.5 4.5v2M546.5 195.5v-2M546.5 4.5v2M578.5 195.5v-2M578.5 4.5v2M610.5 195.5v-2M610.5 4.5v2M642.5 195.5v-2M642.5 4.5v2M482.5 25.7222h2M674.5 25.7222h-2M482.5 46.9444h2M674.5 46.9444h-2M482.5 68.1667h2M674.5 68.1667h-2M482.5 89.3889h2M674.5 89.3889h-2M482.5 110.611h2M674.5 110.611h-2M482.5 131.833h2M674.5 131.833h-2M482.5 153.056h2M674.5 153.056h-2M482.5 174.278h2M674.5 174.278h-2" stroke="#a4a4a4" stroke-width="1" fill="none"/>
<text class="t i" transform="translate(501.4 21.2) scale(1.12 1)">W</text>
<text class="t e" transform="translate(518.5 22.5) scale(1.4 1)">=</text>
<text class="t n" transform="translate(530.4 21.2) scale(1.04 1)">400</text>
</g>
<g>
<g fill="#0000ff" stroke="#0000ff">
<ellipse cx="151.5" cy="292" rx="19.394" ry="17.8876" transform="rotate(0 151.5 292)" stroke="none"/>
<path d="M147.7 243.8h0m-5.7 8.2h0m21.6 -1.9h0m13.8 2.1h0m-31.9 4.7h0m6.9 -1.1h0m3.2 0.8h0m1.8 -1.3h0m6.1 -0.1h0m5.2 -0.7h0m1.3 2.5h0m-41.6 5.1h0m4.8 -1.9h0m0.7 -2.5h0m0.3 1.4h0m6.1 0.3h0m0.3 2.6h0m0.5 -0.6h0m2 -0.3h0m1.7 0.5h0m1 0.4h0m0.4 -1.1h0m2.8 1.6h0m3.3 -2.1h0m0.2 -1.7h0m1.3 1h0m6.7 -1.2h0m2.8 1.4h0m0.3 1.6h0m9.6 0.1h0m-46.8 1.8h0m0.5 1.7h0m1 1.1h0m5.2 1.2h0m0.3 -3.1h0m0 -0.9h0m1.4 0.5h0m1.3 1.4h0m0.4 1.6h0m1 -1.8h0m3.1 -1.6h0m5.2 0.9h0m0.8 0.1h0m2 -1.1h0m0.5 0.7h0m0.8 1.2h0m0.1 0.7h0m0.2 -1.9h0m1.2 2.4h0m0.1 -3.8h0m0 4.7h0m1.9 -1.1h0m1.3 0.4h0m0.2 -1h0m2.4 0.5h0m1.1 0.4h0m0.4 -0.4h0m2.3 -0.6h0m0.1 -0.8h0m0.3 1.5h0m0.2 -1.4h0m0 0.9h0m3.7 -0.9h0m1.1 -1.6h0m8.6 2.4h0m-55.4 5.8h0m5 0.1h0m2 -1.1h0m0.6 -0.8h0m5.2 0.2h0m0.7 -1.4h0m2.5 2.7h0m0.2 -2.8h0m0.3 2.9h0m0.6 0.4h0m0 -2.6h0m0.7 2.4h0m0.2 -2.8h0m0.9 1.4h0m1.3 1.8h0m0.2 -0.7h0m0.1 -0.6h0m0.2 0.2h0m1 0.9h0m1.4 -1.9h0m0.1 -0.5h0m0.1 -1.5h0m0.1 2.8h0m0.5 0h0m0.5 0.1h0m2.2 1.3h0m0.2 -2h0m0.7 2.2h0m0.3 -2.7h0m0.8 2.8h0m0.1 -2.3h0m0.8 1.6h0m0.5 -1.7h0m0.1 -0.6h0m0.4 3.1h0m0.6 -3.8h0m0.4 3.2h0m0.1 0.4h0m0.2 -3.1h0m0.4 -0.8h0m1.2 3.6h0m0.5 -1.4h0m0 0.9h0m0.3 0.7h0m0.3 -3.2h0m0.5 0.4h0m0.2 0.9h0m1 1.4h0m0.4 0.4h0m0 -0.9h0m0.2 -0.7h0m0.2 -2.4h0m0.4 1.5h0m0.2 -0.8h0m0.5 3h0m0 -1.3h0m0.1 -1.9h0m0.2 3.9h0m0.3 -4.4h0m0.4 3.4h0m0.3 -3.4h0m0.2 2.2h0m0.2 1.2h0m0.5 1h0m0.2 -4h0m0.2 1.3h0m0.5 1.9h0m0.3 -3h0m0 1.4h0m2.4 -1.8h0m0.4 2.5h0m0.9 0.5h0m1 -2.4h0m0.7 -0.8h0m0.5 1.2h0m0.6 1.1h0m1.9 -0.7h0m1.2 -1.2h0m6.3 1.5h0m-73.4 3.9h0m10.7 2.4h0m0.9 1.2h0m5.8 -0.7h0m6.2 0.1h0m1.5 -3h0m0.1 3.1h0m1.1 -0.3h0m0.4 -0.7h0m1.2 0h0m0.4 -2.9h0m0.5 1.9h0m0.3 1.5h0m0.4 -2.1h0m0.8 2.2h0m0.1 -1.5h0m0.1 0.6h0m0.3 1.7h0m2.2 -1.2h0m0.2 -2.7h0m0.4 2.3h0m0.6 -1.1h0m0.1 2.4h0m0.3 -0.3h0m1.3 -3.2h0m0 -0.2h0m0.3 3h0m0 -3.5h0m0.8 1.6h0m0.8 -0.6h0m0.4 2.5h0m0.7 0h0m0.5 -1.1h0m0.3 -2.2h0m0.6 2.2h0m0.2 -1h0m1.2 1.7h0m0 -2.7h0m0.3 0.8h0m0.6 -1h0m0.1 0.2h0m0.2 2.2h0m1.5 -1h0m0.9 -0.8h0m2.4 0.2h0m0.8 0.8h0m0.1 -1.5h0m1.3 1.4h0m0.5 0.1h0m0.8 0.2h0m0.1 -0.5h0m0.3 0.8h0m0.3 -1.5h0m0.5 0.5h0m1.1 1.2h0m0 -1.9h0m1.1 0.3h0m0.3 1h0m0.8 1.8h0m0.7 -1.7h0m0.2 -0.8h0m0.5 0h0m0.1 2h0m0.2 1.3h0m0.7 -2.5h0m0.1 1.2h0m0.2 0h0m0.1 -2.6h0m0.6 3.8h0m0 -4.6h0m0.6 0.4h0m1.2 3.6h0m0.1 -2.1h0m0 2.6h0m0.2 -2h0m0.5 2h0m0.6 -3.7h0m0.8 1.2h0m1.1 0h0m0.9 1.3h0m0.2 -1.4h0m1 -1.7h0m0.5 4h0m0.2 -3.3h0m0.5 3.5h0m0.5 -0.5h0m0.1 0.6h0m0.2 -0.6h0m0.1 0.1h0m0.6 -0.4h0m1.9 -3h0m0.7 2.6h0m2.7 -3h0m0.7 0.6h0m0.9 1.9h0m8.5 -2.6h0m-74.9 7.5h0m6.3 0.3h0m4.2 1.4h0m1.7 -2.8h0m0.4 -1.3h0m0 3.9h0m1.4 -4.1h0m0.5 2h0m0.7 1.9h0m0.5 -3h0m0.2 1.1h0m1.3 0.1h0m1 -2h0m0.9 3h0m0.2 -2.2h0m0.5 3.1h0m0.1 -3.9h0m0.3 2.3h0m0 1.8h0m0.4 -4.2h0m0.2 2.3h0m0.3 -2.4h0m0.4 0.5h0m0.6 4.3h0m0.2 -1.5h0m0.2 -1.7h0m0.1 -1.6h0m0.2 2.5h0m0.6 -0.9h0m0.3 0.8h0m0 -0.4h0m0.5 -0.5h0m0.8 0.2h0m0 -0.7h0m1.3 -0.7h0m1.5 -0.1h0m22.9 1.9h0m0.2 -0.6h0m2.1 -0.3h0m0 -0.2h0m0.7 1.7h0m0.1 -2.1h0m0.4 4.4h0m0.3 -4.1h0m0.1 -0.5h0m0 2h0m0.2 0.8h0m0.1 -0.7h0m0.1 0.8h0m0 -0.8h0m0.8 1.6h0m0 -3.7h0m1.7 0.6h0m0.1 2.7h0m0.2 -3.7h0m0.1 2.4h0m1.2 -0.8h0m0 0.8h0m0.2 2.5h0m0.3 -0.5h0m0.5 0.6h0m0.6 -4.1h0m0.2 3.1h0m0.5 -1.5h0m0.6 1h0m0.6 -2.9h0m0.5 2.7h0m1 -2.5h0m0.3 2.2h0m1.3 -1.6h0m0.7 0.9h0m3 0.9h0m3.1 0.4h0m-80.6 2.8h0m9.2 1.7h0m4 0.6h0m0.5 -1.1h0m0.4 0h0m0.1 2.1h0m2.6 0.2h0m0.4 -4.6h0m0.4 2.9h0m0.3 -2h0m1.8 -0.1h0m0.6 -0.8h0m0.3 3.5h0m0.3 -2.7h0m0 3.7h0m0.1 -4h0m0.8 1.6h0m0.6 0.8h0m0.6 -2h0m0.2 -0.7h0m0.4 0h0m0 2.7h0m0.2 -0.9h0m0 -2.2h0m0.9 1.1h0m0.7 2.7h0m0.1 0.1h0m0.2 -3.9h0m0.6 2.5h0m0.1 -2.2h0m0.3 3.7h0m0 -3h0m0.3 0.2h0m0.2 1.9h0m0.6 -1.5h0m0.3 0.1h0m1.2 -1h0m32.7 -0.2h0m1 1.9h0m1.2 -1.3h0m0.4 2.3h0m0.3 1.1h0m0.2 -2.7h0m0.4 1.4h0m0 -1.9h0m0.9 1.7h0m0.2 -1.8h0m0.5 1.5h0m0.6 1h0m0 -1.2h0m0.4 0.3h0m0.4 0.1h0m0.6 0h0m0.3 -2.1h0m0.5 3.7h0m0.8 -4.5h0m1.9 0.2h0m0.3 3.3h0m0.6 -3.5h0m0.5 4.2h0m1 -1h0m3.1 1.3h0m0.4 -0.7h0m0.1 -1.1h0m0.6 -0.7h0m1.4 1.7h0m3 0.4h0m-69.7 5.6h0m0.7 -4.7h0m1.7 4.9h0m0.4 -2.4h0m2.3 -0.9h0m0.3 0.2h0m0.5 -1.1h0m0 1.9h0m0.6 2h0m0.4 -2.9h0m0.9 -1.6h0m0.2 1.5h0m0.6 3.3h0m0 -1.2h0m0.7 -3.4h0m0.3 1.3h0m0.3 0.8h0m0 0.6h0m0.3 -2.8h0m0.6 4.6h0m0.5 -0.3h0m0.7 -3.4h0m0.3 2.1h0m0.2 -1.7h0m0 1.2h0m0.1 -1.8h0m0.1 3.8h0m1.9 -4.3h0m36.4 3.2h0m0 -1.5h0m1.2 -1h0m0.1 1.2h0m0.4 2.5h0m0.1 -4.6h0m0.4 3.1h0m0.6 -2.6h0m0.8 1.1h0m0.1 -1.3h0m0.3 0.8h0m0 2.3h0m0.1 -1.8h0m0.2 3.1h0m1.7 -4.4h0m0.2 1.8h0m0 -0.8h0m0.1 2.4h0m0.7 -2.3h0m0.4 3h0m0.3 -4.3h0m0 4.3h0m1.8 -0.4h0m0.3 -4.2h0m1.5 4.2h0m1.4 -3.9h0m17.3 4h0m0.2 -3.7h0m-85.4 8h0m1.3 -2.8h0m3.2 1.5h0m1.6 -1h0m1.5 -0.2h0m0 0.3h0m0.2 1.2h0m1.1 -0.8h0m1.4 0.3h0m1 -1.1h0m0.1 1h0m0.7 2.8h0m0.1 -1.4h0m0.6 -2.6h0m0.1 1.3h0m1.1 2.2h0m0.4 -2.8h0m0.8 2.1h0m0.3 -3.6h0m0.2 1h0m0.8 1.1h0m0.2 1.5h0m0.1 1.2h0m0.1 -4.4h0m0.2 4.2h0m0.3 -1.4h0m0.4 -3.1h0m0.2 3.3h0m0.2 0.5h0m0 -2.1h0m37.2 1.8h0m1 0.7h0m0 -2.8h0m0.4 -0.5h0m0.2 3.2h0m0.3 -3.9h0m0.2 2.1h0m0.2 -1.5h0m0.6 3.2h0m0.6 -2.2h0m0.5 2.1h0m0.5 -2.5h0m0.6 2.4h0m0.2 -3.1h0m0.4 0.9h0m1.2 1.7h0m0.1 0.9h0m0.1 -3.1h0m0.2 1.6h0m0.3 -1.5h0m0.3 0.6h0m0.9 1.3h0m3.5 0.3h0m5.7 -0.8h0m20.1 -2.2h0m-92.3 8.5h0m6.5 -3.4h0m3 1h0m0.4 -0.1h0m0.2 -0.5h0m0.3 -0.2h0m0.2 3.8h0m2.1 -3.5h0m0 1h0m0.1 2.8h0m0.4 -0.3h0m0.2 -2.6h0m1.3 1.2h0m0.8 0.8h0m0.3 -0.1h0m0.1 0.6h0m0.4 0.1h0m0.7 -3.9h0m0.6 3.2h0m0.2 0.1h0m32.8 0.3h0m0.6 -0.5h0m1.2 -1.6h0m0.2 -2.1h0m0.3 3.9h0m0.1 0.7h0m0.8 -2.4h0m0.1 -1.1h0m0.7 -1h0m0.4 3.6h0m0.3 -1.5h0m0.1 -0.1h0m0.4 0.5h0m0.3 1.9h0m0.2 -1.1h0m2.1 -3.6h0m0.3 3.3h0m0.4 -0.8h0m0.2 -1.9h0m0.4 4.1h0m0.6 0h0m0.1 -4.4h0m1 3.5h0m1.5 -1.1h0m0.1 2.3h0m2.8 -3h0m0.3 1.8h0m1.3 -3.1h0m2 1.8h0m4.8 -2.1h0m-73.1 5.5h0m6.1 -0.6h0m0.6 0.7h0m0.2 1.8h0m1.1 0.1h0m0.5 -0.3h0m0.9 -2.5h0m1.1 3.9h0m0.5 0h0m0.3 -3.1h0m0.4 3h0m0.1 -2.2h0m1.1 0.3h0m0.6 1.5h0m0.6 -1.2h0m0.5 1.3h0m1.3 -3.4h0m0.3 3.4h0m0.6 0.7h0m0.5 -1.8h0m0.1 -0.6h0m0.1 1.5h0m0.1 1.5h0m0.1 -1.2h0m0.1 -2h0m0.3 -1.1h0m0.5 0.5h0m0.1 3.4h0m1 -1.2h0m0 -0.7h0m0.6 0.3h0m0.1 0.9h0m0.5 -2h0m0.9 0h0m1.2 2.5h0m0.4 0h0m20.9 -0.2h0m1.5 -0.6h0m0.7 -0.8h0m0.6 1.5h0m0.1 -2.7h0m0.2 1.5h0m1.2 -1.4h0m0.2 -1.5h0m0.2 4.8h0m0.2 -1.8h0m0.5 -1.9h0m0.1 1.8h0m0 -0.6h0m0.3 -0.3h0m0.5 2.1h0m1 -2.1h0m0.2 -0.1h0m0.3 1.7h0m0 -3.6h0m0.2 1.2h0m0.1 2.4h0m1 -1h0m0.6 -1.2h0m0.2 -0.8h0m0.2 2.5h0m0.1 0.5h0m1.3 -0.3h0m0.2 -2h0m0.6 0.4h0m4.4 -0.9h0m0.4 0.1h0m0.3 2.5h0m0.3 -2.8h0m6.2 0.1h0m13.9 2.2h0m-72.5 5h0m4.6 -2.1h0m0.1 -0.2h0m0 1.6h0m0.1 2.4h0m0.4 -3.7h0m2 1.2h0m0.2 2.7h0m0.8 -4h0m0.1 2.4h0m0.5 -1.9h0m0.6 2.9h0m0.7 -1.8h0m0.3 -1.9h0m0.8 2h0m0.3 -0.1h0m0 -1.8h0m0.2 1h0m0.6 1.7h0m0.2 -1.6h0m1 -0.3h0m0.5 -0.8h0m0 3.4h0m0 -1.5h0m0.8 -2.3h0m0.1 0.8h0m0.2 3.6h0m0.7 -2.8h0m0.2 -1h0m0.6 1.6h0m0.3 -1.5h0m0.2 0.1h0m0.9 3.3h0m0.5 -1.5h0m0.2 -0.4h0m0.4 1.1h0m0.9 -0.2h0m0.1 -1.1h0m0.5 -0.2h0m0.2 1.8h0m0.1 -0.5h0m0.1 -0.7h0m0.7 -1.3h0m0.8 3.5h0m0.3 -1.4h0m0.8 -2h0m0.3 1.4h0m0.3 2h0m1.5 -1h0m0.6 -1.5h0m0.6 0.9h0m0.6 1.6h0m0.2 -3.2h0m1 2.1h0m0.9 0.9h0m1.4 -0.9h0m1 -1h0m0.8 -1.1h0m0 0.3h0m0.6 1.2h0m0.3 -1.4h0m0.6 -1.7h0m0.3 4.8h0m0.2 -4.2h0m0.2 1.6h0m0.5 -0.4h0m0.5 -1.3h0m0.2 0.5h0m0.4 3.9h0m0.8 -1.9h0m1.4 -0.2h0m0.5 -0.5h0m0.1 0.3h0m0.2 -2.4h0m0.7 3.5h0m0.3 -2.5h0m1.2 2h0m0.5 -2.5h0m0.5 1.3h0m2.5 -0.4h0m0.5 2.1h0m1.8 -0.8h0m2.1 -2.8h0m0.2 -0.1h0m0.3 1.3h0m0.5 1.7h0m0.4 -2.3h0m0.7 2.8h0m7.1 -1.6h0m-59 4.5h0m1.7 2h0m6.1 -2.2h0m0.3 0.8h0m0.6 2.2h0m0.6 -3.7h0m0.8 3.4h0m1.1 -3h0m1.6 0.9h0m0.3 0.9h0m0.3 -0.4h0m2.7 -0.8h0m1.1 2.6h0m0 0.6h0m0.8 -3.3h0m0.1 -0.8h0m1.2 3.8h0m1 -1.9h0m2 -0.3h0m0.1 -0.8h0m0.2 1.1h0m0.5 -0.5h0m1.9 -0.1h0m0 0.7h0m1.4 1.1h0m1.3 -0.5h0m0.5 -1.3h0m1.3 2.4h0m0.9 -2.7h0m1.1 1.7h0m1.8 -1.9h0m1 -0.8h0m1 2.3h0m0.5 0.6h0m0.8 -1.4h0m0.5 -0.1h0m0.2 1.6h0m0.8 -0.5h0m1.4 1.3h0m0.3 -1.5h0m0.3 -0.7h0m0.1 -2.1h0m2.4 0h0m0.2 0.3h0m0.3 -0.4h0m3.2 3.9h0m0.1 -1.5h0m1 -1.5h0m10.2 3.3h0m-50.4 4.2h0m9.5 1.3h0m1 -3.4h0m3.6 2h0m3.9 -2.8h0m8.4 -0.5h0m5.9 1.8h0m6 -1.2h0m0.8 4.2h0m16.4 -1.4h0m-19.4 5.7h0m21.3 -2.8h0m-54 4h0" fill="none" stroke-width="2.4" stroke-linecap="round"/>
</g>
<g fill="#ff0000" stroke="#ff0000">
<ellipse cx="155.5" cy="345" rx="20.496" ry="24.6366" transform="rotate(0 155.5 345)" stroke="none"/>
<path d="M180.9 291.6h0m-20.8 6.3h0m5.2 0.2h0m-17.6 4.7h0m3.8 2.5h0m4.1 0.5h0m1.2 -3.2h0m16.4 0.8h0m-36.6 8.8h0m6.5 -1.1h0m1.8 0.9h0m1.1 -3.8h0m3.7 3.6h0m1.6 -1.6h0m2.1 0.7h0m1.3 -2.8h0m0.4 3h0m0.8 -0.8h0m0.4 -0.9h0m0.7 0.2h0m0.3 -1.7h0m1.6 0.3h0m3.6 3.2h0m0.4 -2.3h0m1.1 1h0m0.4 -1.7h0m2.9 2.3h0m2.5 1.1h0m1.2 -1.8h0m10.8 1.6h0m-51 2.3h0m1 3.2h0m7.6 -2.1h0m2.3 1.1h0m0.7 1h0m0.6 -2h0m0.9 -0.4h0m3.3 -1.3h0m2.4 3.4h0m0.5 -0.2h0m0.5 -0.3h0m0.5 1h0m0.7 -4.3h0m0.2 3.4h0m0.2 -3.6h0m0.7 4.5h0m1 -3.2h0m0.3 0.2h0m0.2 0.4h0m0.9 1.8h0m0.6 -1.5h0m0.1 -0.3h0m0.2 -1.8h0m0.4 0.8h0m0.4 0.1h0m0.2 2.1h0m0.6 1.5h0m1.1 -1.6h0m0.5 -1.4h0m1.1 2.5h0m0.2 -1.8h0m0.8 -1.7h0m0.3 3.1h0m1.7 -0.4h0m0.4 -2.5h0m0.4 0h0m1 1h0m2.5 1.6h0m0.8 -0.2h0m0.9 -0.6h0m0.3 -0.9h0m0.8 1.5h0m1.3 -1.8h0m1.9 2.1h0m1.7 0.9h0m3.5 -2.7h0m6.8 -1.3h0m-54.2 9.3h0m3.3 -1.2h0m1.3 -0.5h0m0.9 1.2h0m0.5 0.5h0m0.4 -1.2h0m1.7 -1.3h0m0 2.3h0m0.3 -3.6h0m0.8 1.7h0m0.6 1.6h0m0.3 -4.3h0m1.1 0h0m0.1 1.6h0m2.3 1.5h0m0.5 0.4h0m0.1 -2.5h0m0.7 1h0m0.1 0.3h0m0.8 -2.5h0m0.1 4.1h0m0.4 0.1h0m1.2 -1.3h0m0.4 1.5h0m0.2 -0.7h0m0.4 -0.9h0m0 -2.1h0m0.7 3.2h0m1 -1.6h0m0.7 -1.2h0m0 -0.2h0m1.2 -0.5h0m0.3 2.4h0m0.3 -1.1h0m0 -0.8h0m0.4 2h0m0.2 -1h0m0.4 0.6h0m1.4 -0.8h0m0.2 0.8h0m0.5 0.7h0m0.3 -2.7h0m1.1 2.3h0m0.2 -1.2h0m0.2 -0.3h0m0.2 0.1h0m0.6 3.1h0m0.2 -3.4h0m0 -0.7h0m0.4 -0.1h0m0.2 3.1h0m0.1 -1.8h0m1.2 1.8h0m0.2 -0.1h0m0.3 -2h0m0.1 3.1h0m0.2 -0.4h0m0.4 -3.4h0m0.2 2.7h0m0.1 -0.8h0m0.6 0h0m0.1 -0.9h0m0.1 2.3h0m1 -2.5h0m1.1 2.4h0m0 1.2h0m0.2 -1.4h0m0.2 -1.8h0m0 2.3h0m0.7 -1.8h0m0.1 -2.1h0m0.6 2.8h0m0.5 0.9h0m1.5 -0.8h0m0.5 0.6h0m0.3 -3.5h0m0.1 1.1h0m0.3 3.7h0m0.2 -3.4h0m0.1 2.7h0m1.2 -1.1h0m0.5 -0.6h0m0.7 0.6h0m0.2 1.1h0m-45.3 3.8h0m1.8 -0.9h0m1.6 -1h0m1.5 2h0m0.9 -0.7h0m1.3 -0.2h0m1.3 -0.4h0m0 2h0m1.1 -0.6h0m0.1 -0.8h0m0.3 -0.9h0m1 1.2h0m0 -1.9h0m0 2.3h0m0.8 -2.3h0m0.5 2.2h0m0.2 -2.1h0m0.1 2.9h0m0.8 -0.2h0m0.9 -1.8h0m0.9 -0.5h0m0.1 -1.3h0m1.7 0.4h0m17.8 0.3h0m0.6 0.2h0m0.3 0.4h0m0.3 0.1h0m1 -0.7h0m0.5 2.2h0m0 -0.8h0m0.7 1.3h0m0.5 -2.6h0m0.2 -0.1h0m0.2 3.5h0m0.3 -1.7h0m0.5 0.4h0m0.3 -0.9h0m0.1 2.3h0m0.6 0.2h0m0.3 -3.3h0m0.2 0.5h0m0.2 -1h0m1.1 1.4h0m0.2 1.6h0m0.7 0.4h0m0.6 -2.5h0m0.9 -1.4h0m0.6 2.2h0m2.3 1.6h0m0.6 -1.5h0m0.1 -1.3h0m1.8 -1.2h0m10.9 3.9h0m-61.8 3h0m2.4 -1.1h0m0.8 1h0m0 1.3h0m1 0.8h0m0.3 -3.1h0m0.3 0.5h0m0.7 3.5h0m1.4 -3.1h0m0.1 1.4h0m0.6 -2.9h0m1.1 4.4h0m0.9 -2.2h0m0.1 1.8h0m0 -2.8h0m0.5 2.6h0m0.7 -1.2h0m0 -0.4h0m0.5 -2h0m0.6 -0.3h0m1.5 -0.1h0m27 0.3h0m0.4 0.8h0m1.8 1.3h0m0 -0.5h0m0.7 1h0m0.1 2h0m0 -4.5h0m0.2 1.2h0m0.5 2.9h0m0.1 -3.7h0m0.3 3.7h0m0.6 -4h0m0.3 3.2h0m0.1 -1.9h0m2 -0.2h0m0.5 2.4h0m1.1 0.7h0m0.3 -3.2h0m0.1 -1.2h0m1.1 4.4h0m2.6 -4h0m2.6 1.5h0m23.8 -1.6h0m-80.7 5.8h0m2.6 -0.9h0m0.9 3.4h0m1.1 -3.1h0m0 3.4h0m0.5 -2.9h0m0.7 0.2h0m0.4 0.2h0m39.6 -0.6h0m0.5 1.7h0m0.1 -0.8h0m0.2 0.8h0m0.5 -2.7h0m0.1 0.1h0m0.4 3.3h0m1.2 0h0m0.4 0.5h0m0.1 -1.3h0m0.2 1h0m0.1 -0.6h0m1.2 0.6h0m0.3 0.3h0m0 -3.5h0m2.1 1.5h0m0.4 1.2h0m2.2 -3.1h0m1.2 3.1h0m2.5 0.6h0m-59.9 5.7h0m1.1 -1.8h0m1.1 -2.3h0m1.8 1.2h0m0.3 1.2h0m0.7 0.4h0m0.1 1.4h0m1.3 -0.9h0m1.1 -3.5h0m0.4 4.6h0m0.3 -3.2h0m0.4 -0.3h0m38.7 -1.3h0m0.6 0.6h0m0.1 1.8h0m1.1 2.4h0m0.4 -4.7h0m0.2 3.4h0m0.1 -1.2h0m1.2 -1.6h0m0.8 2.3h0m0.1 1.7h0m0.5 -3h0m0 1.8h0m0.8 0.7h0m0.1 -3.1h0m2.9 3.7h0m0.3 -3.4h0m2.1 0.6h0m0.9 -0.9h0m6.9 2.3h0m-67.1 1.7h0m0.4 2.4h0m1.1 0.5h0m0.3 0.7h0m1.4 0.7h0m1.2 -3.7h0m0.1 1.3h0m0.2 1.1h0m0.3 -1.1h0m0.2 0.5h0m0.3 -0.2h0m0.6 -2.1h0m0 3.8h0m0.1 -2.6h0m0.1 1.5h0m0.2 1.7h0m0 -3.4h0m1.2 0.9h0m0.7 2.3h0m0 -1.3h0m41.2 -1.6h0m0 -1h0m0.1 2.9h0m0.3 -2.6h0m0.4 3.9h0m0.4 -4.7h0m0 2.5h0m0.6 -2.5h0m0.2 0.1h0m0.1 0.5h0m0.5 3.7h0m0.3 -3h0m0.5 1.8h0m0.9 -0.8h0m0.2 -1.8h0m0.2 3h0m1.8 1.2h0m1.6 0.1h0m0.3 -4.5h0m1.6 2.7h0m4 -0.8h0m3.2 2.6h0m-71.4 3.2h0m2.8 -2.4h0m0.6 0.4h0m2.3 0.1h0m1.5 2.7h0m0.5 -0.8h0m0.7 0.4h0m0.3 0.2h0m0.2 0.6h0m0.4 -1.9h0m0.3 -1.7h0m1 2.7h0m0 0.1h0m0.1 -1.7h0m0.1 1h0m0.5 0.3h0m0.4 -2.4h0m0 2.5h0m0.1 -0.6h0m0.6 0.3h0m0.2 -1h0m0.9 2.7h0m1.1 -1h0m37.9 0.2h0m1.1 -3.4h0m0 1.7h0m0 1.4h0m0.1 -1.9h0m0 2.9h0m1.2 0.2h0m0.9 -2h0m0 -0.4h0m0.2 -2.1h0m1.1 3.8h0m0.1 -1.9h0m0.3 -1.6h0m0.1 3.6h0m0.8 -0.3h0m1 -0.1h0m0.3 -2.1h0m0.5 0.2h0m0.7 -1h0m0.4 -0.1h0m0.1 3.2h0m1.5 0h0m1.8 -3.5h0m1.8 4h0m0.5 -0.2h0m-66.5 3.8h0m3.4 -0.3h0m3 -0.4h0m2 -0.2h0m1.2 -0.3h0m0 -0.3h0m0.8 2.9h0m0.3 -1.9h0m0.2 -2.2h0m0 2h0m0.9 0.9h0m0.2 -1.7h0m0.2 -1.4h0m1.1 1.7h0m0 2.9h0m0.4 -2.6h0m0 1h0m0.8 1.3h0m0.1 -4h0m0.2 2.8h0m0.3 -0.6h0m0.2 1.2h0m34.7 0.9h0m1.3 -1.1h0m0.6 -1.5h0m0.5 -1.1h0m0.3 1.6h0m0.2 2h0m0.2 -0.3h0m0.2 -2.2h0m0.3 1.9h0m0.2 -2.8h0m1.6 0.1h0m0.6 -0.9h0m1.4 1.4h0m0.5 0.6h0m0.2 0.3h0m1 -0.7h0m0.1 -1.4h0m0.1 0.5h0m0.6 3.1h0m2 -3.6h0m2.6 2.9h0m0 1.2h0m1.1 -1.4h0m2.7 1.1h0m0.6 -4.3h0m-71.3 5.5h0m8 0.6h0m2.5 -0.7h0m0.7 4.5h0m0.5 -2.8h0m0.6 -0.5h0m1.1 2.9h0m0.5 -2.1h0m0 -2.2h0m0.6 4.1h0m0.6 -3.1h0m0.5 0.5h0m0.4 2.2h0m0.1 -2.4h0m0.6 0.5h0m1 -0.5h0m0.2 1.5h0m0.1 -2.3h0m0.2 2.7h0m0.1 -0.4h0m0.1 1h0m0.9 0.9h0m0.4 -3.7h0m0.2 0.7h0m0.3 1.8h0m0.4 -1.2h0m28.4 2.3h0m1.4 -0.7h0m0.4 -1.4h0m0.3 0.5h0m0.5 1.7h0m0.4 -3h0m0.4 1.5h0m0 -0.6h0m0 -1.5h0m0.3 2.3h0m0.2 -0.4h0m0.3 -3.1h0m0 3.3h0m1.1 -2.4h0m0.1 -0.2h0m0.7 -0.3h0m1 2.1h0m0.1 -0.6h0m0.4 1.3h0m0.4 -1.6h0m0.6 -1.1h0m0.6 2.1h0m0.4 -0.3h0m0.4 -0.8h0m0.9 3.3h0m0.4 -2.6h0m0.8 -0.5h0m3.7 -0.8h0m3.5 3.1h0m-62.1 4.5h0m4.4 0.3h0m1.5 -1.5h0m1.1 0.4h0m2.3 1.9h0m0.2 -0.6h0m1 -1.4h0m0.6 -2.1h0m0.2 2.9h0m0.9 -1h0m0.4 -1.8h0m0.5 3.9h0m0.4 -3.5h0m0.2 0h0m1 -1h0m0.3 0.9h0m0.3 2.8h0m0.7 -1.1h0m1 1.7h0m0.5 -3h0m0.4 2.8h0m0 -0.7h0m1.5 1h0m0.4 -0.2h0m2.8 0.1h0m14.3 -0.2h0m1.4 0.5h0m0.2 -0.6h0m0.3 -0.6h0m0.6 0h0m0.1 -0.3h0m0.2 0h0m0.1 0.8h0m0.1 0.4h0m0.4 -0.8h0m0.3 -0.1h0m0.3 -2.1h0m1.2 -1.3h0m0.2 3.6h0m0.1 -0.8h0m0.8 -1.3h0m0.2 0.6h0m0.2 -1.9h0m0.8 1.7h0m0 0.2h0m1.1 1.4h0m0.3 0.1h0m0.1 -2.3h0m0.4 -1.4h0m0.3 1.8h0m0.5 0.7h0m0.5 -1.9h0m0.5 2.5h0m0.3 -0.2h0m0.5 -0.6h0m0 1.7h0m0.3 0.6h0m0.2 -3.3h0m0 -0.6h0m0.2 1.1h0m0.2 0.1h0m2.2 0.3h0m0.4 0.8h0m3.7 1.8h0m-50.4 0.7h0m1 3.2h0m1.5 0.2h0m0.6 -1.5h0m0.1 0.5h0m0.4 -2.8h0m0.1 0.2h0m0.4 0.8h0m0.7 0.6h0m1.6 -1.5h0m1.5 4.5h0m0 -3.5h0m0.7 0.9h0m1.2 -1.2h0m0.3 2.4h0m1.8 0.7h0m0.2 0.3h0m0 -4.4h0m0.1 1.8h0m0.3 1.3h0m0.5 1.3h0m0.1 -2h0m1 0.4h0m0.2 -1.1h0m0.1 2.8h0m0.9 -1.2h0m0.2 0.1h0m0.4 1.6h0m0.2 -3.7h0m0.4 1.8h0m0.9 0.9h0m0.2 -1.8h0m0.3 -0.8h0m0.2 2.4h0m0.4 0.5h0m0.7 -0.1h0m0.1 -2h0m0.3 1.6h0m0.3 -2h0m0.6 2.6h0m0.2 0.3h0m0.4 -3.1h0m0.2 -0.2h0m0 2.4h0m0.1 -2.8h0m0.3 3.3h0m0.4 -0.3h0m0.7 -1.8h0m0.6 0h0m0.6 0.3h0m0.8 2.1h0m0.7 -0.7h0m0.1 -2h0m0.3 0.2h0m1 1.3h0m0.3 -2.2h0m0.2 3.6h0m0 -2.4h0m0 -0.2h0m0.3 0.5h0m1.2 1.7h0m0.1 -2h0m0 -0.5h0m0.3 3h0m0.9 -4.5h0m0.2 2.2h0m0.1 -2.2h0m0.2 1.3h0m0.3 -1.3h0m0 4.3h0m0 -0.2h0m0.6 -0.5h0m0.5 -1.4h0m0.6 2.1h0m0.1 -3.9h0m0.3 4h0m0.4 0.1h0m0.3 -4.5h0m0.1 1.3h0m0.5 -1.1h0m0.4 3.8h0m0.4 -3.2h0m0.7 1.7h0m0.2 -0.7h0m0.3 1.7h0m0.5 -1.4h0m1.4 -0.3h0m0 1.5h0m0 0.7h0m0.5 -0.4h0m0.7 -1.7h0m0.1 -2h0m0 0.4h0m0.7 2.4h0m0 -2.5h0m2.3 2.3h0m1.2 -2.8h0m1.6 0.1h0m20.1 0.8h0m-63.6 5h0m6.3 1.2h0m1.9 -0.5h0m0.6 -0.2h0m0.3 2.5h0m2.1 -0.6h0m0.5 -0.3h0m0.1 -1.2h0m0.5 -1.7h0m1.1 4.1h0m0 -1.9h0m0.4 -0.8h0m0.9 -0.9h0m0.7 3.5h0m2.6 -3.7h0m0.1 2h0m0 1.6h0m1.3 -1.9h0m0.1 1.2h0m0.4 -0.9h0m0.8 -1.1h0m2.2 0h0m0.5 -0.8h0m0.1 0.4h0m0.5 0.5h0m3.4 0.7h0m0.3 -1h0m0.6 1.4h0m0.2 2h0m0.1 -1h0m0.3 1.1h0m0.2 -2.6h0m0.9 -0.9h0m0.2 3.5h0m2.5 -1.4h0m0.6 -2.5h0m0.8 1.1h0m0.7 -1.2h0m1.5 3.3h0m0 0.2h0m2.3 -1.8h0m4.3 -1.4h0m14.1 3.8h0m-59.4 3.9h0m14 -1.6h0m0.2 -0.4h0m5.5 -1.7h0m0.3 3.1h0m0.6 0.3h0m3.3 0.4h0m1.6 -0.2h0m0.3 -3.3h0m2.7 2.9h0m0.2 -3.1h0m0.3 0.5h0m0.6 0.9h0m1 1.3h0m2.3 0.1h0m3.8 -0.2h0m0.2 -0.9h0m2.1 -1.3h0m0.3 0.4h0m3.2 -0.2h0m-25.6 4.5h0m5.1 4h0m1.1 -2.3h0m6.4 2.1h0m0.6 -1.4h0m3.5 -0.7h0m8.4 0h0m0.3 2.9h0m0.4 -2.7h0m-38 4.3h0m9.8 1.9h0m1.1 0.5h0m14.1 -3.3h0m8.1 1.6h0m-13.3 4.3h0m9 0.1h0m-10.3 4.9h0m-18.9 5.5h0m23.5 -1h0" fill="none" stroke-width="2.4" stroke-linecap="round"/>
</g>
<g fill="#00ff00" stroke="#00ff00">
<ellipse cx="104" cy="324" rx="23.1597" ry="22.3326" transform="rotate(0 104 324)" stroke="none"/>
<path d="M111.3 272.9h0m-17.9 11.4h0m3.3 2.2h0m2.6 -1.6h0m-13.4 6.6h0m0.2 0.6h0m6.8 -0.6h0m3.8 -0.2h0m5.2 -0.1h0m0.9 1h0m4.3 -0.7h0m6 0.6h0m-45.8 2.2h0m10.1 3.1h0m0.5 -0.3h0m0.7 -0.3h0m5.8 -3.3h0m1.1 2.4h0m0.4 0.1h0m3.3 0.6h0m1 -2.8h0m0 3.5h0m1.9 -0.1h0m2.5 0.2h0m0 -2.7h0m0.4 1.1h0m1.8 -0.9h0m2.4 2.2h0m2.8 -1.9h0m0.3 2.2h0m1.2 -2.3h0m1.3 2.1h0m1.6 -3.9h0m1.5 0.6h0m0.6 1.8h0m0.2 -3h0m0.9 4.7h0m1.1 -1.2h0m0.7 -0.8h0m1.3 -1.2h0m0.2 2.9h0m0.5 -1.7h0m0 -1.3h0m1.2 1.7h0m0.2 -3.2h0m6.1 2.5h0m0.7 -0.8h0m7.3 2.2h0m-50.4 3.8h0m2 1.3h0m1 -0.2h0m1.8 -3.4h0m1.5 0.3h0m0.1 0.9h0m1.3 2.9h0m1 -1.7h0m0.2 -0.2h0m0.1 1.5h0m2.3 0.5h0m0.3 -3.4h0m0.2 3.6h0m0.1 0.1h0m0.8 -2.3h0m0.8 1.2h0m0.4 -3.7h0m0.4 2.4h0m1.8 1.5h0m0.3 -2h0m0.1 2.6h0m0.1 -4.6h0m0.3 3.1h0m0.3 -0.1h0m0.1 0h0m0.2 0.8h0m1 -1.7h0m0.1 1.4h0m0.3 0.8h0m0.9 0h0m0 -4.2h0m0.3 1.8h0m0.7 1.4h0m0.9 -2.1h0m0.6 2.9h0m0.5 -3.8h0m0.9 1.7h0m0.2 0.2h0m0.2 -0.2h0m0 0.5h0m0.6 0.5h0m0.3 -0.5h0m0.7 -1.9h0m0.2 2.4h0m0.2 -2.3h0m0.8 3.5h0m0.4 -2.9h0m0.1 1h0m0.5 1.3h0m0.3 -2.3h0m0.2 0.7h0m0.2 -0.5h0m0 1h0m0.4 2.2h0m0.4 -1.1h0m1.1 -2.3h0m1.4 2.3h0m0.7 -1.5h0m0.2 0h0m0.2 0.5h0m0 2.2h0m0.4 -4.5h0m0.3 2h0m0.2 1.5h0m0.3 -0.8h0m1 0.6h0m0.5 -0.3h0m0.4 -1.3h0m0.2 -1.3h0m0.1 0.6h0m1.1 1.2h0m1.2 2.4h0m0.4 -1.3h0m0.6 1h0m0.3 -1.7h0m2.8 1.8h0m2.3 -3.3h0m3.4 1.9h0m2.8 0.5h0m1.3 -1.5h0m0.2 -1.3h0m1.1 0.7h0m1.1 1.1h0m1.7 1.5h0m-62.2 2.4h0m2 3h0m4.2 -1.1h0m0.9 -1.7h0m0.1 2.2h0m0.9 0.5h0m0.2 -0.5h0m0.8 -0.2h0m0.9 -1.4h0m0.7 -1h0m0.1 1.4h0m0.3 0.5h0m0.2 0.4h0m0.5 -2.4h0m0.1 2.5h0m0.2 -3.9h0m0.8 1.3h0m0.3 -0.5h0m0 3.1h0m0.1 -1.2h0m0.7 -0.4h0m0.5 -0.1h0m1.1 1.6h0m0.1 -1.8h0m0.5 -0.3h0m0.6 2.7h0m0.4 -2.4h0m1.3 -0.8h0m0.5 1.3h0m0.1 -1.8h0m0.6 1.3h0m0.3 -2h0m2.3 1.4h0m1.4 -0.8h0m12 0h0m1.6 -0.2h0m1.6 0.2h0m0.9 0.1h0m1 1.2h0m0.6 -1.3h0m0.6 2.2h0m0.1 -2.5h0m0.4 1.8h0m0.3 -0.1h0m1.4 0.7h0m0.1 -0.9h0m0.3 -1.1h0m1.3 2h0m0 1.5h0m0.7 -1.4h0m0.1 -1.1h0m0 -1.5h0m0.8 2.1h0m0.3 -1.3h0m0 -0.6h0m0.4 3.1h0m0.2 -2.6h0m0.4 0.7h0m0.8 1.3h0m0.7 1.5h0m0.6 -0.7h0m1.4 -2.8h0m0.1 -0.1h0m0.6 4h0m0.1 -4.7h0m2.3 3.1h0m3.5 0.4h0m9.1 -3.2h0m3.6 2.5h0m-70.5 6.7h0m4 -1.3h0m0.3 1.2h0m1.1 -4.3h0m0.4 1.6h0m0.5 1.9h0m0.4 -0.9h0m1 -0.5h0m1.7 -0.8h0m0.3 0.7h0m0.5 0.6h0m0.1 -2.5h0m0.5 3.9h0m0.2 -3.6h0m0 -0.1h0m0.2 2.8h0m0.2 -2.2h0m0.1 0.4h0m0.2 -1.4h0m1.4 -0.1h0m1.1 1.1h0m31.4 0.2h0m0.3 -0.3h0m0.3 -1.1h0m0.6 2.9h0m0.4 -2.1h0m0.6 -0.2h0m0.6 3.9h0m0.1 -1.3h0m0.2 -1.6h0m0.4 0.5h0m1.4 0h0m0.4 -0.3h0m0.5 -0.3h0m0.2 -1h0m0.2 2.5h0m0.2 0.8h0m0.7 -2.3h0m1 2.7h0m0.6 0.6h0m0.4 -1.8h0m1 -1.2h0m0 2.4h0m0.9 -1.2h0m6.4 -0.6h0m0.2 0.7h0m-83.1 4.1h0m16.5 2.4h0m2.3 -2.7h0m1.9 2.8h0m0.2 -3.9h0m0.7 3h0m1 -0.8h0m0.5 0.6h0m0 -1.2h0m0.9 2.2h0m0 -1.2h0m2.2 1.1h0m0.1 -2.6h0m0.5 0.4h0m0.2 2.5h0m0.2 -4.4h0m0.3 0.3h0m0.3 2.5h0m0.4 -2h0m0.2 3.1h0m0.2 -0.3h0m0.1 -0.8h0m0.4 -1.6h0m1.5 -1.1h0m39.4 0.7h0m0.4 0.6h0m0.1 0.3h0m0.2 0.7h0m0.2 -0.4h0m0.3 -0.7h0m0.1 -0.6h0m0.4 3.3h0m0.2 -1.4h0m0.1 -0.9h0m0.3 0.7h0m1.1 -0.5h0m0 -0.1h0m0.2 -1.2h0m0.2 -0.9h0m1.2 0.8h0m0.4 -0.7h0m0 2.1h0m0.4 2.4h0m0.9 -3.1h0m0.3 0.3h0m0 1.9h0m0.2 -1.6h0m1.1 0.4h0m0.7 1.8h0m0.4 -1.8h0m0 -0.1h0m0.2 1.4h0m0.4 -0.5h0m0.7 1.2h0m2.2 0h0m-70 5.4h0m0.7 -0.1h0m2.4 -2.3h0m0.5 -2.4h0m2 0.9h0m0.5 -0.8h0m3.6 4.7h0m0.1 -4.2h0m0 4.2h0m0.1 -2.4h0m0.6 -2.2h0m0.4 4.4h0m0.2 -2.8h0m0.3 1h0m0.4 0.8h0m0.5 -1.9h0m0 3h0m0.1 -1.2h0m0.3 -1h0m0.4 -0.7h0m0.6 0.4h0m0.2 0.9h0m1.1 -1.8h0m44.8 1.2h0m0.1 -1.1h0m0.1 1h0m0.2 0.7h0m0 -3.3h0m0.5 0.8h0m0.1 -0.5h0m0 1.6h0m0.5 -1.4h0m0.5 3.2h0m0.2 -0.7h0m0.1 -1.6h0m0.6 2.4h0m1.4 -0.5h0m0.2 -0.4h0m1.5 0.6h0m0.1 -1.8h0m0 2.8h0m0.5 -3.3h0m2.3 -1.2h0m2.1 2h0m0.9 -1.3h0m0.2 3.3h0m2.2 -0.1h0m1.1 0.5h0m-81.2 1.2h0m4.7 0.2h0m5.3 1.7h0m2.4 1.9h0m0.8 -2.5h0m0.1 1h0m0.8 -1.7h0m0.7 1.4h0m0 1.1h0m0.2 -2.7h0m0.3 2.2h0m1.6 -0.4h0m0.2 1.1h0m0.3 -1.4h0m1 -1.4h0m1.3 1.6h0m0.1 -2.5h0m0.1 2.5h0m0.2 1.9h0m0.3 -2.1h0m45 0.4h0m0 -0.9h0m0.5 -1.2h0m0.4 0.1h0m0.1 -0.7h0m0.3 4.4h0m0.5 -4h0m0.9 -0.1h0m0.5 0.5h0m0.3 3.3h0m1.2 -2.7h0m0.1 1.3h0m3 0h0m-68.1 2.2h0m6.3 0.5h0m1.4 -0.2h0m0.3 2.7h0m0.2 0.7h0m1.8 -2.9h0m0.4 1.5h0m0 2h0m0.2 0.3h0m0.6 -0.3h0m0.5 -3.8h0m0.5 0.4h0m0.3 3.2h0m0.2 -0.6h0m0.4 0.6h0m0 -4.2h0m0.6 3.3h0m0 0.4h0m0.1 -2.4h0m0.4 -1h0m0 2.4h0m0 1.7h0m0.4 -4.1h0m1 0.5h0m0.4 3.4h0m0.1 -2.8h0m0.8 2.4h0m0 0.9h0m41 0.2h0m1.2 -0.8h0m0.7 -3.7h0m0.3 -0.3h0m0 3h0m0.4 -2.3h0m1.2 2.6h0m0.3 -3.2h0m0.2 1.9h0m0.1 -0.9h0m0.1 -1.2h0m0.7 3.7h0m1.3 1.1h0m0.7 -0.6h0m0.2 -1.7h0m0.1 -1.8h0m0.5 3.4h0m0.5 0.6h0m0.3 -3.5h0m4.1 3.8h0m2.1 -4.5h0m-67 8.4h0m0.2 -1.7h0m1 -0.8h0m1.4 -1h0m1.1 -0.1h0m0 4.1h0m0.7 -3.9h0m0.5 2.2h0m1.2 -0.7h0m1.3 0.9h0m0.7 -1.5h0m0 3.2h0m0.5 -2.2h0m0.2 2.2h0m0.7 -0.4h0m0.2 -3.7h0m0.1 0.8h0m0.2 -0.4h0m0.3 1.5h0m0.2 -0.5h0m0.4 3h0m0 -2.6h0m0 0.7h0m1 0.4h0m39 0.3h0m0.8 -2.1h0m0.2 1.7h0m0.1 -0.3h0m0.2 1.8h0m0.4 -4.2h0m0.3 2.3h0m0.1 -1.7h0m0.3 3.4h0m0.2 -2.2h0m1.3 -1.9h0m0.3 4.4h0m0.5 -3.6h0m0.2 -1.1h0m0.2 3.5h0m0.1 -0.8h0m1 -2.3h0m0.8 1.9h0m4.4 0.9h0m0.7 -2.3h0m0.6 2h0m0.3 0.6h0m0.4 -2.6h0m1 1.6h0m4 2.2h0m-71.6 2.6h0m3.3 0.2h0m5.6 -2.4h0m1.2 0.8h0m0.4 2.7h0m0 -1.6h0m0.3 -0.6h0m0.9 1h0m0 -1.7h0m0.8 3.5h0m0.7 -1.8h0m0.1 -2.5h0m0.1 0.3h0m0.3 2.6h0m0.9 -2.6h0m0 0.3h0m0.3 2h0m0.9 -1.6h0m0.4 1.2h0m0.3 2h0m0.1 -3.4h0m0.2 2.3h0m0.2 -0.6h0m0.7 -1.4h0m0.1 -0.3h0m0 3.2h0m0.8 -1.2h0m0.7 0.9h0m0.6 -0.8h0m1.8 1.7h0m0.2 -0.4h0m25.9 -1.1h0m1.5 -0.7h0m0 1.2h0m0.9 0.3h0m0.5 -0.1h0m0 -2.3h0m0.1 2.9h0m0.2 -4.5h0m0 2.7h0m0.8 -2.3h0m0.1 1.3h0m0.4 -1.6h0m0.3 4.8h0m0.3 -1.2h0m0.1 -0.6h0m0.4 -2h0m0.3 0.4h0m0 0.2h0m1.1 1.5h0m0.1 -2.8h0m0.1 -0.3h0m0.8 3.9h0m0.2 -1.9h0m0.1 -2h0m1 1.2h0m0.3 1h0m0.4 -0.1h0m1.1 -1.4h0m0.3 0.9h0m0.1 -1.4h0m4.3 2h0m0.4 0.9h0m2 0.5h0m-61.4 5.5h0m5.3 -4h0m1.4 2.9h0m0.8 -3h0m2.1 2h0m0.1 -0.3h0m0.7 -1h0m0.3 1.9h0m0.3 0.4h0m1.4 -0.8h0m0.7 -1.3h0m0.2 -0.3h0m0 2.6h0m0.2 -3.1h0m1 0.7h0m0.2 3.2h0m0.7 -3.4h0m0.3 0.8h0m0.1 -0.8h0m0.6 0.7h0m0.2 2.2h0m0.1 -1.5h0m0.7 0.3h0m1.2 -1.3h0m0.4 1.8h0m0 -1.5h0m0.2 0h0m0.4 2h0m0.4 1h0m0.5 -0.5h0m0.4 -2.5h0m0.3 0.5h0m1.1 2.3h0m0.2 -1.4h0m1.5 1.2h0m1.6 -0.5h0m0.3 -0.9h0m0.7 1h0m0.1 -0.6h0m0.8 0.5h0m0.8 0.5h0m1.3 -1.2h0m1 1.9h0m1.3 -0.8h0m0.1 -0.5h0m0.8 -0.1h0m1.1 -0.4h0m1.4 -0.1h0m0.6 1.9h0m0.5 -2.3h0m0.5 -0.5h0m0.3 2.5h0m1 -0.7h0m0.1 -0.5h0m0.6 -1.8h0m0.2 0.9h0m0.8 2.1h0m0.1 -0.7h0m0.9 -2h0m0.5 -1.2h0m0.8 2.8h0m0.5 -2.7h0m1 -0.3h0m0.5 2.3h0m0 -1.9h0m0.5 4.2h0m0.1 -2.6h0m0.9 0.7h0m0.1 -2.9h0m0.1 3h0m1.1 -1.6h0m1.2 2.9h0m0.3 -2.5h0m0.2 -0.9h0m1.3 2.8h0m0 -3.6h0m2.7 1.6h0m1.1 2h0m1.2 -2.8h0m-52.2 4.8h0m1.2 4.2h0m3.5 -0.1h0m1.7 -2.5h0m3.5 1.2h0m1.8 -1.5h0m0.1 -2.1h0m0.6 1.7h0m0.2 2.3h0m0.3 -0.6h0m2.4 -0.8h0m0.1 -0.9h0m0.1 -0.2h0m1.3 2.4h0m0.4 0.4h0m0.1 -4.3h0m1.7 1h0m0.6 0.8h0m0.1 1.6h0m0.1 -2.2h0m0.2 1.9h0m0.4 -1.8h0m0.2 2.7h0m0.2 -3.2h0m0.8 0.5h0m0.1 3.4h0m0 -4h0m0.6 -0.4h0m1.3 0.2h0m0.1 1.4h0m0.1 0.4h0m1.2 2.2h0m0.1 -3.8h0m0.5 -0.7h0m1.5 2.8h0m1.2 1.4h0m0.2 -1.9h0m0.3 -1.8h0m0.5 1.1h0m0.1 -0.2h0m1.2 3.3h0m2.2 -2.6h0m0.1 2.3h0m0.4 -0.8h0m0.1 -3.6h0m0.5 0h0m0.6 0.4h0m0.6 1.6h0m0.4 -0.3h0m2.8 2.7h0m1.4 -2h0m0.7 0.2h0m0 -1.3h0m0.6 0.8h0m0.7 -1.4h0m1.8 4.3h0m0.9 -4.8h0m0.2 0.2h0m3.7 1.4h0m-65.8 5.2h0m9.1 1.5h0m12.5 -1.2h0m4.8 -1.2h0m1.7 1h0m0.2 2.8h0m0.2 -4h0m5.4 3.1h0m1.8 -3.4h0m0.6 3.6h0m2.2 -1.7h0m1.9 0.3h0m1.1 0.4h0m0.1 1.7h0m0.2 -2.3h0m1 0.1h0m0.4 -2.3h0m2.4 -0.1h0m0.4 0.6h0m3.8 -0.3h0m0.8 1.1h0m0.8 -0.3h0m1.6 -0.4h0m1.5 -0.6h0m0.7 1.1h0m0.2 1h0m3 0h0m0.8 -0.2h0m1.1 -1.3h0m3.5 0.2h0m20.1 0h0m-63.3 8.5h0m2.9 -2.3h0m24.2 -1.6h0m0.9 1.4h0m6.9 0h0m3.8 -1.6h0m-39.7 9.4h0" fill="none" stroke-width="2.4" stroke-linecap="round"/>
</g>
<rect x="26.5" y="218.4" width="192" height="191" fill="none" stroke="#a4a4a4" stroke-width="1"/>
<text x="26.5" y="421.9" text-anchor="middle">-0.04</text>
<text x="64.9" y="421.9" text-anchor="middle">-0.02</text>
<text x="103.3" y="421.9" text-anchor="middle">0</text>
<text x="141.7" y="421.9" text-anchor="middle">0.02</text>
<text x="180.1" y="421.9" text-anchor="middle">0.04</text>
<text x="218.5" y="421.9" text-anchor="middle">0.06</text>
<text x="23.1" y="222" text-anchor="end">0.05</text>
<text x="23.1" y="317.5" text-anchor="end">0</text>
<text x="23.1" y="413" text-anchor="end">-0.05</text>
<path d="M64.9 409.4v-2M64.9 218.4v2M103.3 409.4v-2M103.3 218.4v2M141.7 409.4v-2M141.7 218.4v2M180.1 409.4v-2M180.1 218.4v2M26.5 313.9h2M218.5 313.9h-2" stroke="#a4a4a4" stroke-width="1" fill="none"/>
<text class="t i" transform="translate(45.4 235.1) scale(1.12 1)">W</text>
<text class="t e" transform="translate(62.5 236.4) scale(1.4 1)">=</text>
<text class="t n" transform="translate(74.4 235.1) scale(1.04 1)">800</text>
</g>
<g>
<g fill="#0000ff" stroke="#0000ff">
<ellipse cx="369.3" cy="298.5" rx="20.0348" ry="25.6114" transform="rotate(0 369.3 298.5)" stroke="none"/>
<path d="M383.4 242.3h0m-16.6 4.1h0m27.9 -3.4h0m-49.6 8.3h0m16.2 0.8h0m3.1 -4.5h0m0.5 2.4h0m8.9 4.9h0m11.7 2.1h0m-23.7 1.5h0m1 3.2h0m4.6 -1.6h0m0.1 0.9h0m1.2 -0.3h0m0.4 -0.6h0m1.2 -0.3h0m0 2.1h0m2.6 -3.3h0m1.2 3.4h0m0.5 -4.3h0m1.1 4.3h0m3.3 -3.1h0m1.6 -1.1h0m0.2 1.6h0m4.5 2.4h0m-32.5 4.5h0m2.6 0.7h0m3.8 0.2h0m0.5 -3.5h0m0.4 3.1h0m0.4 0.6h0m1.2 -0.9h0m0.3 0.5h0m1.3 -3.9h0m1.5 0.5h0m0.5 0.8h0m2.8 -0.1h0m1.1 -1.3h0m0.4 -0.1h0m0 3.8h0m0.2 -1.5h0m0 -0.8h0m0.1 2.6h0m1.9 -2.1h0m0.4 -0.5h0m0.9 2.9h0m2.1 -0.8h0m0.3 0.1h0m0.3 -1.1h0m0.6 -2.2h0m0.1 4h0m0.6 -2.7h0m1.4 2.2h0m1 -2.6h0m0.4 2.6h0m0.4 -3.4h0m0.7 2.8h0m0.1 -1.7h0m1 2.5h0m2.1 -3.1h0m0.5 3.2h0m0.7 -0.5h0m5 -0.2h0m2.8 -3.1h0m-47.1 8.2h0m3.4 0h0m0 -2.8h0m1.7 0.5h0m0.2 -0.5h0m1.3 2.3h0m3.3 -1.2h0m0.1 1.5h0m1.3 -3.5h0m0.3 2.2h0m0.5 1.8h0m0.8 -3.1h0m0.5 3.7h0m0.5 -1.4h0m0.4 0.6h0m0 -3h0m0.5 3.8h0m0 -0.9h0m0.2 -2.1h0m1.4 -1.7h0m0.1 4.8h0m0.1 -1.2h0m0.4 -2.4h0m0.1 2.9h0m0.3 -1.8h0m0.8 -0.5h0m0 -0.3h0m0 0.5h0m0.2 -1.6h0m0.2 3.5h0m1.3 -3.7h0m0.1 2.6h0m0 -1.9h0m0.1 3.1h0m0.6 -2.6h0m0 -1h0m0.7 1.5h0m0.5 0.5h0m0.3 -1.2h0m0.3 -0.5h0m0.3 -0.4h0m0.6 1.8h0m0.7 -0.1h0m0.2 2.3h0m0.6 -3.6h0m0.1 2.8h0m0.1 1h0m0.4 -3.5h0m0.3 0.9h0m0.4 2.8h0m0.4 -4.2h0m0.8 4h0m0 -1.2h0m0.1 -0.4h0m1.3 1.9h0m0.1 -4.4h0m1.6 2.5h0m0.3 -3h0m0.2 1.9h0m0.1 0.4h0m3.3 0.9h0m0.2 -3.1h0m0 3h0m0 0.6h0m0.5 -3.4h0m0.2 3.3h0m0 -2.8h0m0.5 1.6h0m1.5 -1.6h0m0.1 0.1h0m1.9 4h0m0.3 -3.7h0m1.9 -0.8h0m1.5 2.6h0m2.5 0h0m0.6 -0.7h0m2.5 1.1h0m2.5 0.3h0m5.9 -2.1h0m1.7 0.8h0m-63.3 2.9h0m5.4 2.2h0m0.3 1.6h0m0.9 -3.6h0m1.4 0.7h0m0.9 3.2h0m0.4 -3.7h0m1.1 2.2h0m1.3 -2.1h0m0.5 0.5h0m0 2.5h0m0.8 -0.2h0m2.2 -0.6h0m0.5 -1.1h0m0.1 1.8h0m1.1 0.6h0m0.5 -3.5h0m0 -0.3h0m0.2 0.4h0m0 1.4h0m0.9 -1.3h0m0.2 3h0m0.6 -0.6h0m0.1 -1.3h0m0.1 1.6h0m0.7 -3.2h0m0.3 -0.1h0m0.4 1.1h0m1.4 -1h0m0.3 -0.5h0m0.2 1.6h0m0.6 -0.4h0m0.7 -0.4h0m0.8 -0.1h0m0.1 -0.5h0m0.2 -0.2h0m0.4 0.3h0m2 0.4h0m0.3 -0.2h0m1.9 -0.4h0m2.8 0.8h0m0 -0.7h0m0.6 0.4h0m0.6 0.4h0m0.5 1.6h0m0.9 -0.5h0m0.6 -1.9h0m0.3 0.5h0m0.8 1.3h0m0.8 -0.4h0m0.5 3h0m0 -1.1h0m0.8 0.6h0m0.1 0h0m0.3 -4.1h0m0.1 3.6h0m0.8 -0.5h0m0.4 0.2h0m0.2 -0.3h0m0.2 -2h0m0 -0.3h0m0.1 2.9h0m0 1h0m0.6 -0.5h0m0.3 -2.6h0m0.4 -1.5h0m0.2 1.2h0m0 -0.9h0m0.9 4.4h0m0 -3.2h0m0.1 0.6h0m0 1.8h0m0.4 -2.1h0m0 3h0m1.1 -3.9h0m0.3 3.6h0m2 -1.7h0m1.2 2h0m1.5 -4.2h0m3.5 3.8h0m2 -2.3h0m-57.9 5.5h0m3.9 -1.5h0m3.6 2.5h0m0.1 -2.7h0m0.8 2.5h0m0.5 -1.1h0m1 1.2h0m0.5 0.7h0m0.3 -3.4h0m0.6 1.3h0m0.7 0.1h0m0.1 -1.3h0m0.9 1.8h0m0.2 1.2h0m0.6 -1.9h0m0.5 -1.5h0m0.4 1.9h0m0.2 1.2h0m0.1 -2.1h0m0.5 3.1h0m0.9 -1.6h0m0.2 -2.5h0m1.2 0.8h0m0.8 -0.3h0m0.1 -0.7h0m21.5 -0.1h0m2.1 0.4h0m0.2 1.6h0m0.7 0.2h0m0.8 1.5h0m0 -3h0m0.2 2.8h0m0.5 0.8h0m0.3 -2.8h0m0.1 -1.8h0m0.9 4.1h0m0.5 -2h0m0.1 0.6h0m0.4 -2.6h0m0.3 0.9h0m0.2 -0.5h0m0.2 4.3h0m0 -0.4h0m0.3 -2.5h0m0 1h0m0.3 1.9h0m1.4 -1h0m0.8 -0.8h0m0.6 1.8h0m0.5 -2h0m0.1 -1.9h0m0.2 2.3h0m0.1 0.9h0m0.7 -3.2h0m0.1 3.4h0m0.8 -2.6h0m0.2 1.5h0m0.7 -1.6h0m0.4 -1h0m3 4h0m0.1 -0.2h0m-55.4 2.1h0m0.1 -1.4h0m0.9 1.2h0m1.6 1h0m0.1 -2.2h0m0.7 4.6h0m0.4 -2.8h0m0.1 -1.5h0m0.2 1.8h0m1.2 -0.9h0m0.3 1.3h0m0.2 -1.2h0m1.1 2.1h0m0 1.1h0m0.1 -4.3h0m0.3 -0.2h0m0.4 3.4h0m0.1 1.3h0m0.4 -0.3h0m0 -3.9h0m0.1 1.5h0m1.5 0.9h0m0 -1.3h0m0.6 2.2h0m0.1 -1.1h0m0 -2.3h0m0.2 0.7h0m0 -0.2h0m1.5 -0.8h0m31.8 0.3h0m0.3 1.4h0m0.6 -1.2h0m0.1 2.3h0m0.9 0h0m0.1 1.7h0m0.4 -2h0m0.3 0.9h0m0.3 -2.8h0m0.6 2.1h0m0.2 -0.6h0m0.6 -1.3h0m0.9 2.2h0m1.1 1h0m0.2 -0.7h0m1.1 -1.6h0m2.6 1.2h0m0.9 0.4h0m1.2 -3.4h0m-58 8.7h0m1.8 -3.5h0m0.1 2h0m0.4 1.2h0m2.1 -1.1h0m1.1 0.2h0m0.2 2.3h0m0.1 -4.9h0m0.2 3.7h0m0.2 -1.4h0m0.6 0.6h0m0.1 -2.3h0m0.3 2.2h0m0.3 1.9h0m0.4 -3.4h0m0.7 3.2h0m0.4 -2.3h0m0.3 0h0m0.2 -1h0m0.2 3.6h0m0.4 -3.8h0m0.8 1.2h0m0.2 -1.6h0m36.5 1.4h0m0.3 -1.9h0m0.2 3.6h0m0.7 -2.6h0m0.2 3.8h0m0.8 -3.9h0m0.1 -0.8h0m0.5 3.9h0m0.2 -0.1h0m0.6 -3.8h0m0.7 3.2h0m0.3 -1.5h0m0.4 2h0m1.4 0.4h0m0 -2.2h0m0.8 -0.3h0m0.6 1.5h0m4.8 1.1h0m0.6 -4.3h0m1.2 1.2h0m0.7 3.3h0m-72.1 1.4h0m8.5 2.4h0m2.3 -0.8h0m1 -2.2h0m0.1 3h0m0.2 -1.8h0m1 1.2h0m1.3 1.3h0m1.1 -0.2h0m0.9 -2.6h0m1 -0.6h0m0.3 0.9h0m0.3 1.8h0m0.2 0.8h0m0.9 -3.7h0m0.5 0.6h0m38.6 -1h0m0.3 3.1h0m0.2 -1.3h0m0.4 -0.4h0m0.3 -0.8h0m0 2.7h0m0.4 -0.9h0m0.2 -1.2h0m0.6 -0.3h0m0.1 3.7h0m0.5 -4.4h0m0.5 2h0m0.4 -0.7h0m0 0.9h0m1.3 2.4h0m0.2 -2.6h0m1.4 -2.1h0m0.3 3.4h0m1.8 -2.4h0m0.4 -0.1h0m4.3 -0.7h0m-63.5 6.3h0m1.5 -0.9h0m0.4 1.6h0m3 2.1h0m0.4 0.1h0m0.7 0.4h0m0.5 -3.1h0m1.7 -1.9h0m0.2 2.1h0m0 0.2h0m0.1 2.6h0m0.7 -2.2h0m0.2 -1.2h0m0.7 2.2h0m0.7 0.1h0m0.1 -1.3h0m0.2 2.2h0m37.7 -0.5h0m0.1 -3h0m0.1 1.2h0m0.3 -0.3h0m0.4 -1.9h0m0.2 1.8h0m0.6 -0.2h0m0.2 2.6h0m0.3 -3.6h0m0 3.8h0m0.4 -4.1h0m0.9 -0.1h0m0.1 4.3h0m0.8 -0.2h0m1.5 0.4h0m0 -4.6h0m1.4 0.6h0m0.9 -0.9h0m0.8 0.5h0m1.6 4.4h0m1.2 -4.3h0m-61.8 9.2h0m2 -1.9h0m1.9 -0.8h0m0.3 -0.1h0m1.1 2.8h0m0.4 -2.8h0m0.1 0.5h0m1.4 0.1h0m0.4 -2.5h0m0.8 1.4h0m0.1 2.7h0m0.4 -0.4h0m0 -3h0m0.8 -0.6h0m0 4.4h0m0.1 -0.4h0m0.4 -3.9h0m0.6 1h0m0.2 0.3h0m0.2 1.3h0m0.4 -1.6h0m1.4 2.6h0m36.7 -1.6h0m0.5 2h0m0.3 -0.5h0m0 -0.1h0m1.1 0.1h0m0 0.2h0m0.3 0.4h0m0.1 -3.7h0m1.3 0.2h0m0.1 3h0m0.6 0.8h0m0.4 -0.6h0m0.6 -1h0m1.2 -1.8h0m0.6 0.2h0m18.4 1.3h0m-72.4 3.2h0m2.3 -0.7h0m0.1 4.6h0m2.7 -2.8h0m0.4 1h0m0.4 -1.1h0m0.3 0.1h0m0.1 1.7h0m0.3 0.7h0m1.4 -4.4h0m0.1 2.4h0m0.5 1.4h0m0.1 -0.9h0m0.1 1.5h0m0.2 -4.3h0m1.3 -0.1h0m0.3 2.1h0m0.1 -1.2h0m0.3 1.4h0m1.1 2.6h0m0.1 -1.4h0m33.3 -1.9h0m0.2 2.3h0m0.8 1h0m0 -2.1h0m0.5 1.7h0m0.1 -3.6h0m0.5 2.2h0m0.4 -1.8h0m0.1 -0.9h0m0.1 1.9h0m0.2 1h0m0.3 -2.3h0m0.4 3.9h0m0.3 -0.9h0m1.6 -0.4h0m0.2 0.8h0m5.5 -3.5h0m1 1.9h0m3.8 -1.3h0m4.8 2.7h0m-71.3 1.1h0m7.6 4.1h0m3.1 -3.7h0m0 1.2h0m1.3 1.9h0m0.2 -0.5h0m0.7 1.2h0m0.6 -3.6h0m0.4 1.5h0m0.7 -1.1h0m0.1 2.1h0m0.1 -0.2h0m0.8 1.2h0m0.1 -4.1h0m0.5 3.6h0m1.6 -0.3h0m0.1 0.2h0m0.8 -0.9h0m0.2 -0.4h0m0.3 1.9h0m0.5 -0.1h0m27.7 0.3h0m0.2 -1.4h0m0.1 -0.4h0m1 -0.5h0m0.1 2.1h0m0.1 -0.3h0m0.6 -3.3h0m1.1 1.6h0m0 -2.3h0m1.3 4h0m0.4 -3.3h0m0.9 -0.4h0m1 2.5h0m0.2 1.2h0m0.2 -0.8h0m1 -2.8h0m1.1 2.3h0m0.4 0.9h0m0.7 -0.6h0m1.1 -2.7h0m0.7 0.4h0m2.6 -0.1h0m3.9 0.3h0m2.2 2.7h0m-63.7 4.6h0m0.1 -2.6h0m8.9 0.6h0m0.8 1.7h0m0.6 -3h0m1.3 2.6h0m0.2 -1.1h0m0.4 0.9h0m0.5 -0.1h0m0.2 -0.9h0m0.1 1.7h0m0.2 -2.4h0m0.1 4h0m0.7 -4.2h0m0.4 -0.3h0m0.4 1.4h0m0.9 1.2h0m0.6 1.4h0m0.1 -4.2h0m0.1 3.3h0m1.1 -1.5h0m0 1.9h0m0.7 -1.5h0m0.2 0.6h0m1.2 -0.3h0m17 2.1h0m0.2 -1h0m1.9 -0.5h0m0.1 -0.6h0m0.1 -0.5h0m1.4 -0.3h0m0.1 -1.1h0m0.7 2.1h0m0.1 -0.8h0m0.2 2.7h0m0.9 -2.9h0m0.4 -1.2h0m0.2 4.2h0m0.1 -4.6h0m0.1 0.6h0m0.2 -0.5h0m0.6 2.1h0m0.3 0.5h0m0.3 1.2h0m0.4 0.1h0m0.2 -3.7h0m0.1 3.8h0m0.6 -4.3h0m0.3 1.6h0m1.2 -0.8h0m0.6 3.4h0m0.8 -0.9h0m0.1 -1.8h0m0.7 0.5h0m0.9 1.1h0m0.9 -2.8h0m1.8 1.8h0m-55.9 5h0m5.1 2.6h0m4.9 -0.1h0m2.7 -1.2h0m1.1 -1.8h0m0.3 2.7h0m0.1 -2.7h0m1.4 1.1h0m0.2 -0.6h0m1 -1.3h0m0.1 2.2h0m0.7 -1.6h0m1.4 1.1h0m0.6 0.4h0m1.3 -1.4h0m0 0.8h0m0.7 2.1h0m0.2 -4.2h0m0.3 0.3h0m0.4 -0.4h0m0 0.3h0m0.4 1.7h0m0.4 -1.6h0m0.2 4.1h0m1.6 0.1h0m0.2 -2.8h0m0.2 1.4h0m0.5 -1.1h0m0.5 -0.3h0m0.1 -1.8h0m0.3 3.3h0m0.4 -0.2h0m0.4 -2.5h0m0.5 1.9h0m0.4 -0.3h0m0.6 -1.7h0m1.6 1h0m0.2 2.5h0m0.2 -3.2h0m0 1.4h0m0.5 2.3h0m0.6 -0.9h0m0.3 -1.1h0m0.2 1.2h0m0.1 -2.6h0m0.3 -0.6h0m0.4 0.4h0m0.5 1.8h0m0.1 0.7h0m0.6 -0.3h0m0.3 -1.8h0m0.4 -0.6h0m0.1 -0.6h0m0.1 2.2h0m0.4 1.8h0m0.4 -4h0m0.1 3.3h0m0.2 -0.4h0m0.6 -1.2h0m0 1.7h0m0.2 -3.5h0m0.6 3.6h0m1.1 -1h0m0 -1.9h0m0.2 -0.3h0m1.2 1.8h0m0.7 1.1h0m0.3 -2.1h0m0.3 -1.2h0m0.2 2.5h0m0.1 -1.8h0m0.8 3.3h0m0.2 -1.2h0m1 -2.7h0m0.7 0.7h0m1.5 0h0m0.4 0.3h0m0.1 3.4h0m0.7 -3.4h0m0.1 -0.3h0m0.6 0.1h0m1.5 0h0m0 0.2h0m1.7 3h0m0.8 -1.7h0m-31.9 6.4h0m2.8 -3.8h0m0.3 0.2h0m0.3 0.4h0m0.3 -0.6h0m0.1 4.4h0m0.9 -2h0m1.6 -1h0m1 -1.2h0m0.1 1h0m0.3 2.5h0m0.8 -2.8h0m0.1 0.4h0m0.9 -1.4h0m2.1 2.1h0m0.7 1.7h0m0.3 -3.7h0m1.3 3.4h0m0.8 -1.5h0m2.7 0h0m0 1h0m1 -0.9h0m0.3 2.1h0m0.1 -3.9h0m0 0.6h0m2.4 0.1h0m1.8 0.2h0m2.5 2.5h0m0.1 -0.2h0m0.3 -1h0m-34.1 4.6h0m7.7 0.6h0m5.9 -1.8h0m1.8 3.9h0m0.1 -3.2h0m3.7 0.4h0m5.6 -1.6h0m6.1 3.2h0m22.7 -1.7h0m-41.1 3.4h0m2.6 0.4h0m23.5 3.2h0" fill="none" stroke-width="2.4" stroke-linecap="round"/>
</g>
<g fill="#ff0000" stroke="#ff0000">
<ellipse cx="374" cy="365" rx="19.7012" ry="24.7853" transform="rotate(0 374 365)" stroke="none"/>
<path d="M349.4 319.3h0m5.2 2.2h0m30.5 0.2h0m-23.5 3.4h0m5.5 2h0m16.7 -0.3h0m1.7 -0.6h0m0.2 1.2h0m-31.2 2.9h0m6.8 2.2h0m0.3 -4.6h0m1.5 4.2h0m7.2 -0.4h0m3 -3.1h0m0.5 1.8h0m0.1 -1.6h0m2 0.7h0m1.5 0.7h0m1.5 0.8h0m0.9 -0.2h0m2.4 -3.1h0m4.3 3.1h0m0.3 0h0m-33 3.1h0m0.9 1.9h0m4.4 -2.9h0m1.6 4.3h0m0.9 -0.1h0m1.1 -0.2h0m0 -0.7h0m1.6 0.3h0m0.1 -1.6h0m2.6 -2.3h0m1.1 2.7h0m0.6 2h0m0.6 -1.4h0m0.2 0.9h0m0.1 -0.7h0m0.4 -1.5h0m1.6 0.9h0m0 -1.9h0m1.8 0.5h0m0.7 0.6h0m0.3 0.3h0m0.2 1.2h0m0 1.2h0m0.5 -0.5h0m0.5 -0.1h0m0.3 -3.7h0m0.4 4.3h0m0.2 -3.7h0m0.1 1.8h0m0.6 0.1h0m0.1 1.2h0m0.3 0.2h0m0.2 -1.9h0m0.9 -0.5h0m0.9 -0.6h0m1.5 3.4h0m0.8 -2.8h0m0.8 2.7h0m0.2 -1.2h0m1.2 -1.6h0m1.4 2.4h0m2.7 -3.2h0m0.9 3h0m0.5 -3.9h0m0.2 1.6h0m0.7 -1.8h0m6.5 1.9h0m-46 6.5h0m1.9 -0.2h0m2.6 -1h0m2.9 0.4h0m0.7 -0.1h0m1.9 2.3h0m0.2 -2.9h0m0.1 0.7h0m0.2 2h0m1.2 -2.1h0m0.1 2.3h0m0.3 -3.3h0m0.8 1.6h0m0.7 -0.1h0m0.4 1.4h0m0.8 -1.2h0m0 0.1h0m0.4 -3.4h0m0.2 2.9h0m0.1 -1.6h0m0.2 3.7h0m0.6 -2.2h0m0.3 -2.5h0m0.4 3.9h0m0 -1.4h0m0.1 -0.1h0m0.1 1.6h0m0.5 -1.3h0m0.2 -2.6h0m0.3 0.2h0m0.1 3.6h0m0.6 -1.5h0m0.9 0.2h0m0.3 -1.1h0m0.5 -1.3h0m0.3 0.3h0m0 -0.8h0m0.7 0.8h0m0.4 0.7h0m0 -1.5h0m0.1 2.6h0m1.4 -1h0m0.1 1.8h0m1.1 -1h0m0.7 -1.5h0m0.1 2.6h0m1.1 0h0m0 -0.9h0m0.3 1.6h0m0.2 -3.5h0m0.8 0.3h0m0.8 3.7h0m0.1 -2h0m0.6 -1.2h0m0.7 1.3h0m0.4 -0.2h0m0.4 0.9h0m0.8 -0.9h0m0 -1.8h0m0.5 2.2h0m0.5 -1.7h0m0.6 0h0m0.5 2.2h0m0.3 0.9h0m0.2 -1.1h0m0.1 -3.3h0m0.7 2.1h0m0.9 2.6h0m0 -0.2h0m1.1 -0.4h0m0.7 -2.9h0m0.5 0.9h0m0.6 1.9h0m0.2 0.7h0m0.7 -1.2h0m1.6 0.9h0m0.7 -1.4h0m0.3 -2.2h0m1.3 2.6h0m0.8 -1.3h0m1.7 1.8h0m0.3 -1.6h0m2.9 2.4h0m22.7 -3.2h0m-83 8.3h0m5.3 -3.6h0m4.7 -0.4h0m0 1.6h0m3.3 0.4h0m0.2 1.7h0m0 -3.6h0m0.4 -0.4h0m0.8 2.1h0m0.3 0.1h0m0.2 1.8h0m1 -2.7h0m1.1 -0.5h0m0 2.3h0m0.2 -1.9h0m0.6 -0.6h0m0.8 -0.8h0m0 3.7h0m0.1 -3.9h0m1.4 2.7h0m0.1 -0.6h0m0.4 2.2h0m0.5 -1.6h0m0.2 0h0m0.6 -1.8h0m0.3 1h0m2.1 -0.6h0m0.5 -0.5h0m17.6 -0.4h0m0.2 -0.3h0m1 1.5h0m1.1 -0.5h0m0.3 0.2h0m0.2 1.7h0m0 -1.1h0m1.3 1.3h0m0.1 1.3h0m0.2 -3.5h0m0.3 3.3h0m0.3 -3.2h0m0.2 1.9h0m0 -2.4h0m1.3 1.4h0m0.3 1h0m2.3 -0.4h0m0.1 2.1h0m1.2 -0.4h0m0.5 -1.5h0m0.5 -2.5h0m1 0.8h0m0.5 0.7h0m0.4 1.5h0m1.6 -2.9h0m0.8 0.5h0m3.1 -0.2h0m4 -0.6h0m7.6 1.6h0m-70.8 6.6h0m2.3 -0.7h0m0.2 0.3h0m0.5 0.6h0m2.2 -0.8h0m0.7 0.4h0m1.8 0.2h0m0 -2.1h0m1.5 2.5h0m2.6 -0.3h0m0.3 -1.7h0m0.2 3.1h0m0.8 -3.8h0m0.1 0.8h0m0.1 2.1h0m0.2 -3.9h0m0.1 1.5h0m1 2.2h0m0.1 -0.6h0m0.3 -2.4h0m1 0.6h0m0.2 0.5h0m1.4 -1.8h0m1.1 -0.1h0m26.3 0.8h0m1.2 -0.7h0m0.8 1h0m0 1.1h0m0.9 2h0m0.9 -2.2h0m0.7 -0.8h0m0.2 0.8h0m0.4 2.8h0m0.2 -1.9h0m0.1 -2h0m0.7 2.5h0m0.7 -0.9h0m0.2 -1.9h0m0.5 1.7h0m0 -1.2h0m0.4 3.7h0m0.3 -0.6h0m0.1 -3.9h0m1.3 4.3h0m3.2 -2.6h0m2.1 0h0m5.7 2.8h0m0.1 -0.2h0m4.9 -2.5h0m-70 4.1h0m7.9 3.3h0m1 -2.7h0m0 -0.7h0m1.1 1.9h0m0.3 -2.1h0m0.1 2.4h0m1.1 -1.1h0m0.4 -1h0m0 1.4h0m0.7 -0.7h0m0.4 -0.3h0m0.5 1h0m0.6 -1.3h0m0 -0.5h0m33.8 -0.4h0m0 1.8h0m0.2 -0.6h0m0 0.8h0m0.5 -0.1h0m0.3 -1.5h0m0.5 3.3h0m0.8 -0.1h0m0.2 -3.5h0m0 1.9h0m0 0.3h0m0.2 -2.2h0m1.7 1.5h0m0.6 2.9h0m0.3 -3.7h0m0.1 1.9h0m2.4 0.2h0m0.5 -0.4h0m1.4 0.1h0m2 -2.4h0m-60.3 4.9h0m4.2 -0.5h0m0.7 0.7h0m3 0.1h0m0.1 3.2h0m1.2 -1.5h0m0.4 2.4h0m1.6 -4.7h0m0.3 2.1h0m0.1 2h0m0.2 -3.1h0m0.1 0h0m0.4 2.7h0m0.6 -3.3h0m37.3 3.5h0m0.1 -2.2h0m0.3 -1.8h0m1.1 0.7h0m0.1 1.5h0m0 -1.3h0m0.1 2.5h0m0.4 0.9h0m0.1 -4.1h0m0.4 0.9h0m0.8 2h0m0.2 0.1h0m0.1 -0.1h0m0 0.6h0m0.1 -2.3h0m0 0.3h0m0.3 2.7h0m0.2 -4.1h0m0.2 0.9h0m1.5 -0.7h0m0.6 3.2h0m0.3 -0.9h0m1.1 0.8h0m2.2 1.2h0m0.6 -2.1h0m2.3 -1.9h0m3.4 1.6h0m4.5 2.4h0m3.2 -0.9h0m-70.7 2.4h0m0.7 3.5h0m1.1 -1.2h0m0.9 -3h0m0.9 2.3h0m0.6 -1.7h0m0.5 3.1h0m0.4 -4.1h0m0.6 2.1h0m0.9 -2.3h0m0.1 4.7h0m0.2 -1.9h0m0.6 -2.1h0m0 3.7h0m0.8 -2.6h0m0.1 -0.9h0m0.4 2.4h0m37.6 1.3h0m0.5 -1.6h0m0.6 -1.1h0m0.4 -1.6h0m0.8 2.7h0m0.4 -1h0m0.2 0.5h0m0.5 -1.8h0m0.4 2.9h0m0.3 0.3h0m0.4 0.4h0m1.2 -3.5h0m1.2 1.4h0m0.2 1.6h0m1.8 -3h0m-61.4 7.3h0m2.3 -0.7h0m1.1 1.2h0m2.5 -3.3h0m1.6 1h0m1.2 0.1h0m1.5 -0.9h0m0.6 -0.5h0m1.5 2.4h0m0.1 -2.2h0m0.3 3.1h0m0.2 -3h0m0.2 2.4h0m0.2 0.5h0m0.3 -2.2h0m0.4 3.9h0m0.7 -1.5h0m0.6 -1.1h0m0.1 -2h0m36.6 3.6h0m0 -0.8h0m1.1 -1.3h0m0.4 2.1h0m0.3 -2.7h0m0.1 -1.2h0m0.9 1.5h0m0.1 2.7h0m0 -0.6h0m0.2 -2.1h0m0 -1.3h0m0.2 0.6h0m0.2 0.7h0m0.1 2.6h0m0.7 -3.5h0m0.1 3.1h0m0.4 -2.9h0m0.8 -0.5h0m0.1 0.8h0m1.7 -0.1h0m3 2.8h0m2.8 0h0m1.4 0.3h0m-58.7 3.4h0m0.9 -2.3h0m0.8 0.2h0m0 4h0m0.8 -1.6h0m0.8 1.4h0m1.5 -3.9h0m1 2.5h0m0.3 -1.2h0m0.3 0h0m0.1 2.2h0m0.3 -3.4h0m1 1.5h0m0.3 0.7h0m36.1 2.1h0m0.3 -4.5h0m0.1 2.6h0m0.1 -0.4h0m0.4 0.8h0m0.1 -1.4h0m0.1 -0.5h0m0.2 -0.3h0m0.1 2.4h0m0.2 -0.6h0m0.1 -0.7h0m0.4 0h0m0.7 1.4h0m0.4 -2.5h0m0.2 3.7h0m2.7 -3.5h0m1.5 2.5h0m0.1 -2h0m5.9 1.2h0m0.6 -2.1h0m-55.8 8.6h0m0 -3h0m0.6 0.3h0m1.6 2.2h0m0.5 -3.3h0m0.2 0h0m1.2 1.3h0m0.4 -1.4h0m0.8 0.1h0m0.1 -0.7h0m0.1 3.8h0m0.1 -0.3h0m0.7 -1.1h0m0.5 0.2h0m0.4 -2.5h0m1 3.6h0m0.4 -0.6h0m0.6 1.1h0m1.5 0.7h0m27.1 -1.5h0m1.2 0.5h0m0.2 -0.5h0m0.1 -1h0m0.1 1.6h0m0.2 -1.2h0m0.6 0.5h0m0 -1.7h0m0.6 0.9h0m0.1 -2.5h0m0.1 1.7h0m0 1.6h0m1.3 -2.5h0m1.7 0.3h0m0.1 -0.3h0m0.5 1.1h0m1.1 2.5h0m0.3 -0.1h0m0.4 -2.6h0m2.2 -0.6h0m1.8 0.8h0m1.5 1h0m0.7 0h0m-58.3 6.4h0m6.1 -3.1h0m1 0.2h0m0.3 -1.2h0m0.6 3.8h0m0.2 -2.3h0m0.1 -1.6h0m1.1 1.2h0m0.6 3.2h0m0.9 0.4h0m0.2 -4.5h0m0.1 2.2h0m0.7 -2.2h0m0 0.6h0m0.6 0.5h0m0.2 -1.3h0m0.5 2.8h0m0.6 1h0m0 -3.9h0m0.4 2h0m0 2.3h0m0.3 -2.6h0m0.1 2.3h0m1 -3.5h0m0 3.3h0m1 0.1h0m0.1 -3.8h0m0.3 3.4h0m0.4 -1.2h0m0.4 1.8h0m0.2 -1.5h0m0.1 -0.2h0m1.3 1.9h0m1.6 0h0m1.5 0.2h0m15.6 0h0m0.4 -1h0m0.8 0.1h0m0.9 -0.9h0m0 1.7h0m0.1 -1h0m1.1 0.8h0m0.4 -0.5h0m0.2 -2.4h0m0.1 -0.7h0m0.8 2h0m0.4 -1.8h0m0.3 2.9h0m0.3 -3.4h0m2.6 3.6h0m1.6 -1.5h0m0.6 -1.8h0m0.4 2.3h0m0 -2.5h0m3.3 1.1h0m1.6 0.5h0m3.2 0.7h0m-54.1 2.3h0m8 4.6h0m0.7 -3.1h0m1.4 3.4h0m0.6 -5h0m0.5 1.6h0m0.6 2.9h0m0.6 -1h0m0.3 -0.8h0m0 -1h0m0.7 1.1h0m0.6 0.4h0m1.6 -0.7h0m0.2 -1.2h0m0.5 2.3h0m0.9 -0.4h0m0.5 0.6h0m0 -3.5h0m0.1 4.1h0m0.1 -2.9h0m0 0.6h0m0.4 1h0m0.5 -0.5h0m0.4 0.2h0m0.6 -2.4h0m0.6 2.6h0m0.2 -0.8h0m1.2 -1.8h0m0.1 2.9h0m0.2 -2.4h0m0.7 1.1h0m0.3 1.1h0m0.5 -2.2h0m0.1 0.7h0m0 1.3h0m0.4 2.1h0m1.1 -3.2h0m0.1 0.3h0m0.8 -0.1h0m0.5 1.2h0m0.3 1h0m0.1 -1.9h0m0.5 -1.2h0m0.3 2.8h0m1.1 -1.8h0m0.3 2.3h0m0.8 -0.9h0m0.2 -2.7h0m0.2 2.7h0m0.2 -1.6h0m0.8 -0.4h0m0.3 2.7h0m0.3 0.3h0m0.2 -1.2h0m0.4 1.6h0m0.6 -3.6h0m0.6 -0.6h0m0.3 -0.5h0m0.3 4h0m0 -1.3h0m1.4 -1.5h0m1.3 1.8h0m0.2 0.2h0m0.1 -3.2h0m0.1 1h0m1.5 -0.2h0m0.1 1.7h0m2 1.1h0m0.3 -0.1h0m0.1 -0.9h0m0.2 -1.8h0m0.6 3.7h0m1.2 -0.2h0m1.3 -3.7h0m1.2 3.9h0m2.2 -4.7h0m-38.5 5.5h0m0.2 1.4h0m0.3 -1.8h0m0.3 4.6h0m1.7 -3.6h0m0.1 3.2h0m3.5 -2.2h0m1.3 -1.7h0m0.2 -0.1h0m2.9 1.6h0m0.7 0h0m0.7 -1.6h0m0.1 1.1h0m1.1 -0.6h0m0.1 -0.7h0m0.5 3.3h0m0.8 0.6h0m1.1 -0.7h0m0 -2h0m0.1 -0.8h0m0.6 1.3h0m0.1 2.9h0m0.7 -4.2h0m1 0.1h0m0.2 4.3h0m0.3 -2.4h0m0.4 0.5h0m0.9 -1.7h0m0.6 2.3h0m0.1 -2.4h0m0.3 1.1h0m1.2 -0.9h0m5.8 -1h0m0.1 -0.1h0m0.7 0.7h0m0.1 -0.6h0m2.1 1.3h0m5 -0.1h0m-24 4.4h0m0.4 0.2h0m2.4 3.4h0m2.4 -0.5h0m2.3 -4h0m0.2 3.8h0m4.1 -2.2h0m3.6 1.1h0m8.7 -0.5h0m3.1 -1h0m-27.5 4.8h0m5.4 -1h0m2.3 0.9h0" fill="none" stroke-width="2.4" stroke-linecap="round"/>
</g>
<g fill="#00ff00" stroke="#00ff00">
<ellipse cx="309.5" cy="333" rx="21.2631" ry="22.7515" transform="rotate(0 309.5 333)" stroke="none"/>
<path d="M286.7 287.2h0m14.2 3.1h0m-2.8 6.2h0m-12 5.8h0m6.5 -1h0m1.6 0.9h0m0.1 0.2h0m5 -1h0m9.9 0.4h0m0.7 -2.2h0m1.1 2.7h0m13 -0.1h0m-36.7 2.5h0m2.2 2.3h0m2.7 -2h0m1 -0.3h0m1 -1h0m0 3.1h0m3.2 -2.2h0m0.5 1.2h0m1.3 1.2h0m0.3 -2.1h0m1.3 1.3h0m3.9 1h0m0.2 -1.1h0m0.5 0.4h0m0 -1.2h0m0.1 -1.2h0m0.2 -1.4h0m0.4 4.6h0m0.2 -0.3h0m0.8 -1.8h0m0.6 0.3h0m1.9 -0.5h0m0.3 -1.3h0m0.2 2.9h0m0.8 -1.1h0m0.3 1.3h0m0.1 0.6h0m0.5 -4.6h0m0.4 2h0m0.1 2.6h0m0 -1.1h0m0.8 0.9h0m0.8 -1.8h0m0.8 0h0m0.1 1.8h0m0.8 -1.3h0m0.8 0h0m1.3 0.8h0m0.2 0.7h0m0.2 -4.8h0m1.1 4.3h0m0.5 -2.5h0m3.2 1.8h0m2.8 -0.9h0m3.8 1.3h0m-43.1 1.7h0m2.7 2.2h0m1.5 -2.4h0m2.7 -0.4h0m0.8 2.3h0m0.2 1.4h0m0.7 -0.9h0m1.5 -2.4h0m1 0.8h0m0.7 0.7h0m0.1 -0.9h0m0.1 2.6h0m0 -3.1h0m0.2 0.7h0m0.1 3.1h0m0.8 0.2h0m0.4 -1.2h0m0.4 0.6h0m0.2 -0.8h0m0.6 0.5h0m0.1 -3.7h0m0.4 4.7h0m0.5 -0.3h0m0.3 -3.2h0m0 -0.5h0m0.3 2.5h0m0.4 0.6h0m1 -2.4h0m0.1 -1.1h0m1.2 0.2h0m0.1 2.8h0m0.3 -0.1h0m1.1 -2.6h0m0.1 0.9h0m0.2 1.2h0m0.3 -1.5h0m1.7 1.5h0m0.1 -0.3h0m1.3 -0.3h0m0.6 -0.1h0m1.3 -1.3h0m0.2 3.2h0m0.7 -1.3h0m0.1 -2.3h0m0.4 0.7h0m0.2 0.7h0m0.1 1.2h0m0.2 -0.6h0m0.6 1.3h0m0.4 -2.5h0m0.3 -0.8h0m0.2 3.4h0m0.1 -0.7h0m0.6 0.3h0m0.1 -1.9h0m0.2 -0.4h0m0.3 2.4h0m1.5 -0.9h0m1.3 1.4h0m0 -0.1h0m0.5 0.7h0m0.2 -2.5h0m0.1 0.5h0m0.3 1.4h0m0.3 -2.4h0m0.2 1.9h0m0.3 -2.9h0m0.4 2h0m0.4 -2.2h0m0.6 2.6h0m0.4 2h0m0.1 -4.2h0m0.3 -0.3h0m0.5 3.6h0m1.4 -2.2h0m0.6 -1.6h0m0.3 2.1h0m0.1 1.5h0m0.5 -2.1h0m0.6 2h0m2 -1.2h0m0.4 -1.8h0m-51.4 8.6h0m4.5 -2.7h0m2.5 0.5h0m1.1 0.1h0m0.1 2.2h0m0.2 -3.3h0m1.1 1.9h0m0.6 0.2h0m0.5 1.1h0m0.7 0.3h0m1.4 -1.3h0m0.4 1.1h0m0.5 -1.8h0m0.1 -1.1h0m0.3 1.1h0m0.3 0.9h0m0.1 -3.1h0m1.2 -0.2h0m0.2 0.3h0m0.4 0h0m0.7 0.8h0m0.1 -1.2h0m0 3.5h0m0.1 -3.6h0m0.1 1.2h0m0.3 1.7h0m0.5 -0.6h0m0.7 -0.9h0m0.3 0.7h0m1.5 -0.8h0m0 -0.8h0m18.1 0.1h0m1.5 -0.1h0m0.3 0.4h0m1.1 0.7h0m1.1 -0.4h0m0.9 1.5h0m0.9 -1.4h0m0.5 2.8h0m0.2 -1.9h0m0.2 0.3h0m0.1 -1.1h0m0.2 1.5h0m0.5 -0.1h0m1.6 0.4h0m0.3 -2.2h0m0.2 1.6h0m0.2 -2.6h0m1.2 0.7h0m0 -0.1h0m0.2 4h0m0.2 -1.4h0m0.2 -0.8h0m0.3 1.4h0m0.5 -3h0m1.3 3.6h0m2.1 -0.3h0m0.7 -4h0m-61.3 5.2h0m4.8 0.7h0m5.2 2.7h0m1.4 -1.5h0m0.3 1.2h0m2.6 -1.7h0m0.1 2.2h0m1.7 -0.2h0m0.6 1.1h0m0.2 -1.4h0m0.5 -2h0m0.5 3.4h0m0.1 -3.3h0m0.1 -0.4h0m0.4 2.3h0m1.5 -1.7h0m0.1 -0.4h0m0.3 -1.1h0m0.4 0.6h0m0.1 -0.4h0m0.3 0h0m31 -0.5h0m0 0.3h0m0.4 0.9h0m1.6 0.9h0m0.1 0.5h0m0.2 1.1h0m0.1 -1h0m0.1 1.4h0m0 -0.5h0m0.3 -2.9h0m1.3 1.5h0m0.1 0.5h0m0.5 -2.5h0m0.1 2.9h0m0.2 -0.1h0m0.2 1.6h0m0.9 -3.8h0m0.1 2h0m0.2 1.8h0m0.3 -1.7h0m0.3 -1.5h0m1.5 -0.8h0m-58.2 7.6h0m2.6 -2.9h0m2.4 2.6h0m0 -0.1h0m0.8 0.8h0m1.7 -1.4h0m0.3 0.7h0m0.4 1.1h0m0.5 -0.7h0m0.4 0.9h0m0.9 -0.2h0m0.5 0.6h0m0.9 -1.9h0m0.1 0.7h0m0 -0.6h0m0.2 -2.4h0m0.3 2h0m0.7 1.3h0m0.6 -1.8h0m0.6 2.8h0m0.4 -1.6h0m1.1 -2h0m0.2 0.2h0m36.6 -1.1h0m0.5 0.9h0m1.4 1.3h0m0.3 0.9h0m0 -3.1h0m0.1 2.5h0m1 -0.7h0m0.2 1.6h0m0.1 0.7h0m0.2 -4.1h0m0 1.9h0m1 2.7h0m0.1 -2.5h0m0.2 -0.6h0m0.5 -1.1h0m0.1 2.7h0m0.4 0.7h0m0.2 -0.4h0m0.3 1.3h0m1.8 -0.2h0m3.2 -1.8h0m1.9 -0.7h0m7.5 1.4h0m-72.8 5.9h0m0.1 -2h0m3.4 -0.3h0m1.9 -1.7h0m0.6 2.9h0m0.5 -2.7h0m0.4 0.2h0m1.4 0.8h0m0.1 -0.5h0m0.1 0.7h0m0.2 2.3h0m0.2 -3.6h0m1.1 0.7h0m0.3 2.7h0m0.1 -0.4h0m0.3 -3.4h0m0.1 2.9h0m0.9 0.2h0m0 0.3h0m0.3 -2.7h0m0 2.2h0m1.3 1.8h0m0.2 -3.2h0m40.2 -0.9h0m0.3 1.8h0m0 -1.8h0m0.3 0.9h0m0.5 3h0m0.8 -1.9h0m0.1 -2.1h0m0.2 3.8h0m0 0.5h0m0.7 -3.4h0m0.9 -0.5h0m0.2 1.1h0m0.3 1.2h0m0.5 -0.9h0m1.2 -2.5h0m0.5 4.6h0m2 0.2h0m1.2 -1.3h0m1.2 -2h0m-76.8 7h0m13.1 0.4h0m5.2 -1.4h0m0.6 0.2h0m0.5 -2.2h0m0.3 3.6h0m1.2 -1.9h0m0 -0.8h0m0.3 2.7h0m0.9 0.4h0m0.2 -1.4h0m0.5 1.2h0m0.5 -2.5h0m0.3 1h0m0.4 -0.1h0m0.8 0.7h0m0.1 -2.8h0m0.2 -0.2h0m41.6 2.4h0m0.5 -2.5h0m0.1 0.6h0m0 1.6h0m0.8 1.8h0m0.2 -3h0m1 1h0m0.5 2.3h0m0 -1.9h0m0.6 -1.5h0m2.3 -0.5h0m0 1.6h0m0.2 2.4h0m0.2 -1.1h0m1.2 -2.8h0m1.7 0.2h0m1.3 1.1h0m5.7 0.1h0m-72.7 5.7h0m5.3 0.8h0m2.2 0.4h0m0.2 -2h0m0.2 -0.3h0m0.9 -1.4h0m0.4 -0.2h0m0.3 2.3h0m0.8 -2.5h0m0.2 3.7h0m0.1 -1h0m1.8 -2.7h0m0.2 3.3h0m0.2 1.4h0m0.3 -0.8h0m0.4 -2h0m0.3 -1.3h0m0.3 2.2h0m0.1 -2.5h0m0 1.9h0m0.2 -1.3h0m0.1 3.3h0m0.9 -1.4h0m0.1 2.1h0m0.3 -1.1h0m0 1.1h0m39.7 -0.8h0m0 -2.1h0m0.1 -0.3h0m0.7 -0.5h0m0.3 1.6h0m0.1 -2.7h0m0 4.5h0m1 -1.2h0m0.1 -0.3h0m0.3 -1.9h0m0.3 0.6h0m2 0.7h0m0.3 -2.5h0m0.1 2.3h0m0.3 1.7h0m0 -2.3h0m0.7 -0.6h0m1.3 -1.1h0m0.1 0h0m0.1 0.6h0m-58.6 8.7h0m1.1 -0.1h0m3.9 -2h0m0.9 -1.6h0m0.6 2.3h0m0.1 0.6h0m0.1 -0.4h0m1.2 -2.2h0m1.8 0.5h0m0 -0.5h0m0.7 0.1h0m0.2 -0.8h0m1.1 0.5h0m0.2 0.7h0m0.9 0.8h0m0.2 -1h0m0.2 0.6h0m0.3 0.5h0m0.2 2.2h0m32.4 0.2h0m2.1 -0.5h0m0.3 -1.4h0m0.4 -1.1h0m0.1 -1.4h0m0.4 1.5h0m0.7 0.2h0m0.1 1.6h0m0 -1.1h0m0.4 -0.6h0m0.6 2.2h0m0.4 -1h0m0 1.1h0m0.7 -0.7h0m0.5 -1.1h0m0.1 1h0m0.6 -2.5h0m0.1 2.9h0m0 -3.4h0m1.1 0.7h0m0.2 2.5h0m0 0.8h0m0.8 -0.1h0m0.9 -0.5h0m0.6 -2.9h0m3.8 3.6h0m11.2 -2.3h0m-77.3 4.2h0m8.7 3.3h0m0.5 -4.6h0m0.4 1.7h0m1.4 -0.4h0m2.2 -1.3h0m0.2 0.1h0m0.2 3h0m2.4 1.6h0m0.6 -4.4h0m0 3.5h0m0.3 -1.7h0m0 -1h0m0.8 0.7h0m0.5 -1.8h0m0.3 2.4h0m0.3 0.1h0m0.3 -1.9h0m1.4 3.5h0m0.1 -2.7h0m0.1 0.6h0m0.4 1.7h0m0.4 -0.9h0m0.4 -0.8h0m0.5 0.2h0m0.2 1.8h0m0.8 -1.1h0m0 1.6h0m1.4 0.4h0m0.9 -0.2h0m20.5 -0.7h0m0.8 0.1h0m0.3 -0.9h0m0.1 1.1h0m0.5 -1.2h0m0.5 1.6h0m0.2 -1.8h0m0 1.7h0m1 -3.1h0m0.3 1.6h0m0.2 -0.4h0m0.3 1.7h0m0.2 -3.5h0m0.1 1.8h0m0.6 0.8h0m0.6 0h0m0.4 -3.2h0m0.2 3.5h0m0.1 -3.6h0m1.1 3.9h0m0.2 -1.3h0m0.1 1h0m0 -2.9h0m0.3 -0.7h0m0.9 2.5h0m1.1 0.2h0m0.2 1h0m0.6 -0.4h0m0.7 -2.2h0m2.3 2.5h0m-48.1 5.1h0m0.4 -3.5h0m0.1 2h0m0.5 -2.2h0m0 1.1h0m0.6 2.3h0m1.6 -0.5h0m0.4 -0.9h0m0.2 -2.2h0m3.8 1.1h0m1.2 2.8h0m1.2 -1.6h0m0.3 -2.3h0m0.1 2.2h0m0.1 1.7h0m0.3 -0.9h0m0.1 -0.2h0m0.9 -1.3h0m0.2 2.7h0m0.9 -2.3h0m0.5 -0.7h0m1.6 1.3h0m0.1 -1.9h0m0.3 1h0m0.1 0.8h0m0.4 -0.4h0m1.2 2h0m0.4 -0.2h0m0.1 -1h0m0.1 0.6h0m0.8 1.2h0m0.6 -3h0m1.1 0h0m0.1 1.6h0m0.7 -0.6h0m0.1 -0.1h0m0.9 1.2h0m0.7 -0.9h0m1.5 1.7h0m0.4 -1.2h0m0.8 0h0m0.7 -0.1h0m0.4 0.4h0m0.4 -0.8h0m1.1 -0.6h0m0 2.5h0m1.2 -1.1h0m0.1 -2.3h0m0.7 3.1h0m0.7 -1.4h0m0.3 -1.1h0m0.5 0.8h0m0.3 -1.3h0m0.1 0.9h0m0 1.1h0m0.5 0.8h0m1.3 0h0m0.3 -3.2h0m0.5 -0.4h0m0.1 -0.4h0m0.1 3.8h0m0.1 -3.9h0m0 1.2h0m0.7 1.9h0m0.3 0.5h0m0.3 -1.3h0m0.9 1.6h0m0.3 -3.1h0m0.1 -0.7h0m0.2 3.4h0m0.4 -1h0m1.3 0.8h0m2.2 -1h0m0.4 -0.4h0m0.4 0.3h0m0.9 2.3h0m2.7 -3.8h0m-44 6.2h0m0.2 -1.1h0m3.7 0.1h0m2.2 1.5h0m0.1 -0.4h0m0.6 -1.2h0m1.1 -0.3h0m3.3 0.1h0m0 0.9h0m0.1 -1.4h0m0.5 2h0m0 -1.4h0m2.3 -0.8h0m0.5 3h0m1.2 1.3h0m1 -3.9h0m0.4 2.9h0m0.9 -3.4h0m0.4 1.8h0m0.4 1.2h0m0.4 0.1h0m0.6 0.3h0m0.3 -3h0m0.2 -0.4h0m0.1 1.8h0m1.1 -0.8h0m0.5 3h0m0.2 -0.7h0m0.1 0.3h0m0.5 -3.4h0m0.1 0.5h0m0.1 0.5h0m0.1 3.5h0m0.4 -1.9h0m0.5 1.3h0m0.2 -2.9h0m0 -0.8h0m0.7 0.5h0m1.1 1.9h0m0.2 0.2h0m0.2 -1.7h0m1.7 1.3h0m0.2 1.5h0m0.8 -1.1h0m0.4 0.2h0m0 -1.3h0m0.4 2.8h0m1.7 -4h0m0.6 0.9h0m0.4 0.9h0m1 -1.8h0m9.8 2.8h0m0.4 -3.5h0m-44.1 8.5h0m11.1 1.2h0m0.2 -3.2h0m0 0.1h0m1.1 -0.9h0m6.3 -0.5h0m0.1 0h0m1.3 0.4h0m0.6 0.7h0m1 0.8h0m0.2 -2h0m0.4 2.9h0m0.6 -1.9h0m2.3 -0.2h0m1.2 2.1h0m0.1 -2.8h0m5.4 0.5h0m0.7 2.8h0m0.1 1h0m4.7 -4.1h0m12.4 2.8h0m-31.7 6.1h0m2.1 -3.4h0m11.5 0.6h0m1 5.8h0m-4.9 3.3h0" fill="none" stroke-width="2.4" stroke-linecap="round"/>
</g>
<rect x="254.5" y="218.4" width="192" height="191" fill="none" stroke="#a4a4a4" stroke-width="1"/>
<text x="254.5" y="421.9" text-anchor="middle">-0.04</text>
<text x="286.5" y="421.9" text-anchor="middle">-0.02</text>
<text x="318.5" y="421.9" text-anchor="middle">0</text>
<text x="350.5" y="421.9" text-anchor="middle">0.02</text>
<text x="382.5" y="421.9" text-anchor="middle">0.04</text>
<text x="414.5" y="421.9" text-anchor="middle">0.06</text>
<text x="446.5" y="421.9" text-anchor="middle">0.08</text>
<text x="251.1" y="222" text-anchor="end">0.05</text>
<text x="251.1" y="317.5" text-anchor="end">0</text>
<text x="251.1" y="413" text-anchor="end">-0.05</text>
<path d="M286.5 409.4v-2M286.5 218.4v2M318.5 409.4v-2M318.5 218.4v2M350.5 409.4v-2M350.5 218.4v2M382.5 409.4v-2M382.5 218.4v2M414.5 409.4v-2M414.5 218.4v2M254.5 313.9h2M446.5 313.9h-2" stroke="#a4a4a4" stroke-width="1" fill="none"/>
<text class="t i" transform="translate(273.4 235.1) scale(1.12 1)">W</text>
<text class="t e" transform="translate(290.5 236.4) scale(1.4 1)">=</text>
<text class="t n" transform="translate(302.4 235.1) scale(1.04 1)">1600</text>
</g>
<g>
<g fill="#0000ff" stroke="#0000ff">
<ellipse cx="635" cy="275" rx="24.0396" ry="22.0023" transform="rotate(0 635 275)" stroke="none"/>
<path d="M606.2 222.3h0m46 -1h0m-54.7 2.7h0m26.9 6.2h0m2.2 1.3h0m9.3 -2.5h0m1.3 2.1h0m5.8 -3.1h0m-21.9 8.3h0m2.8 -2h0m0.3 -1.7h0m18.1 0.8h0m8.6 4h0m4.7 -2h0m-40.6 4.5h0m2.9 -1h0m3.9 1.6h0m2.6 -1.4h0m1.6 2.2h0m7.6 -1.1h0m1.4 -0.7h0m1.4 0.3h0m3.3 -1.3h0m0.7 2.1h0m0.2 -0.8h0m0.4 -1.5h0m28.2 2.2h0m-72.3 5.6h0m2.1 -2.2h0m6.5 1.3h0m6.3 1.8h0m7.6 -2h0m0.4 -1.1h0m3.9 3.2h0m0.7 -4.3h0m1.2 3.8h0m1.2 -3.5h0m0.7 -0.2h0m0.5 -0.2h0m0.6 2.3h0m1.9 -0.8h0m0.1 -0.3h0m1.6 0.6h0m0.2 0.2h0m1.1 0.3h0m0.3 -0.8h0m0.2 3.2h0m0.5 -2.2h0m0.3 1.8h0m0.1 -0.9h0m0.7 -2.8h0m1.7 -0.5h0m1 4.6h0m1.3 -1h0m0.5 -1.4h0m0.3 0.6h0m1 0.5h0m0.1 -0.4h0m1.5 -1.1h0m1.3 -0.7h0m1.4 3h0m1.8 -3.1h0m1.8 2.9h0m0 0.7h0m1.1 -3.8h0m1.3 2.5h0m4.4 -0.1h0m1.5 -3.2h0m1.8 3.7h0m3.2 0.9h0m-62 4.1h0m9.8 0.6h0m0.7 -0.8h0m0 -3.3h0m0.4 1.5h0m0.1 3h0m1.2 -4.1h0m0.5 1.8h0m0.5 -2.5h0m0.1 1.1h0m2.6 0.4h0m1.1 3.2h0m2.3 -3.1h0m0.6 1.5h0m0.5 -2.9h0m2.8 0.7h0m0.3 3.7h0m0.3 -2.1h0m0.1 -0.6h0m0.4 0.2h0m0.8 0.4h0m0.1 0.2h0m0.6 1.4h0m0.1 -3.8h0m0.1 1.9h0m0.3 -1.3h0m0.3 0h0m0.4 3.7h0m0.6 -1.4h0m0.3 0.8h0m0.4 -4.2h0m0.3 0.6h0m0.1 0.5h0m0.8 2.3h0m1.4 -0.8h0m0.5 2.2h0m0.9 -0.8h0m0.1 -3.1h0m0 1.9h0m0.3 -1.8h0m1.1 2.2h0m0.7 -1.3h0m0.4 -1.1h0m0.9 3.8h0m0.4 0h0m0.2 -3.7h0m0.5 1.7h0m0.1 1.2h0m0.3 -1.4h0m0.1 -1.7h0m1.6 0.8h0m0.1 2.4h0m0.2 -0.4h0m1.5 -2.6h0m0 2.2h0m0.3 1.6h0m0.6 -1.8h0m0.3 1.3h0m0.1 -3.3h0m0.7 1.1h0m1.1 -0.3h0m0.6 2.6h0m0.1 0.3h0m1.2 -2.3h0m0.3 1.2h0m1 -1.4h0m0.5 2.2h0m0.9 -0.2h0m0.1 0.8h0m1.5 -1.6h0m0.9 0.2h0m0.1 -0.1h0m0.4 1.5h0m0.8 -0.4h0m2.9 -3.8h0m1.6 1.2h0m3.4 1.7h0m2.8 0h0m2 -2.7h0m-90.1 4.8h0m8.5 1.4h0m13.1 0.2h0m2.9 1.8h0m4.6 -0.2h0m3.6 -1.7h0m2 0.5h0m1.6 1.9h0m1.4 -0.8h0m0.7 -0.2h0m0.1 -1.7h0m1.2 -1.8h0m0.3 2.4h0m0.4 -2h0m0.3 2.8h0m0.3 1.3h0m0.3 -0.6h0m0.1 -1.7h0m0.8 -1.4h0m0.1 1.9h0m0.3 -2.7h0m0.1 3h0m0.1 1.8h0m0.4 -1.4h0m1.2 -1.7h0m0.5 2.6h0m0.1 -2.7h0m0.8 1.7h0m0.3 0.2h0m0.8 -0.1h0m0.8 -2h0m0.2 0.4h0m0.7 1.7h0m0.6 -2.4h0m0.7 0.6h0m0 -1.3h0m1.1 1.3h0m0.4 -1.3h0m0.3 -0.3h0m1.6 0.7h0m1 0h0m0.1 -0.8h0m0.6 1.3h0m3.9 -1h0m4.4 0.2h0m1.4 -0.3h0m1.9 0.4h0m0.9 1.7h0m0.8 -1.5h0m0.1 0.6h0m0.9 -0.7h0m0.2 2.2h0m1.4 -2.5h0m1.2 1.4h0m0.2 0.5h0m0.1 -0.8h0m0.4 2.9h0m1.1 -2.3h0m0.1 1.7h0m0.1 -3.5h0m0.6 4.3h0m0.2 -4.5h0m0.7 3.8h0m0 -0.4h0m0.3 1.2h0m1 -2.4h0m0.1 -0.6h0m0.6 -1.6h0m0.6 4h0m0.5 -0.5h0m0.2 0.7h0m0.2 -1.4h0m1.8 1.6h0m0.8 -1.1h0m0.1 -3.2h0m0.9 2.2h0m0.4 -0.1h0m0.1 2.1h0m1 0.2h0m1.3 -0.2h0m0.5 0.1h0m4.9 -1h0m0.7 1.3h0m-72.6 4.7h0m4.9 -4.5h0m0.5 2.8h0m3.4 -0.1h0m3.6 1.8h0m1 -0.7h0m0.1 -2.2h0m0.2 2.8h0m1.4 0.1h0m0.5 -0.2h0m1.9 -0.2h0m0 -3.6h0m0.2 4.4h0m1.4 -0.6h0m0.5 -0.6h0m0.7 -1.8h0m0.7 2.9h0m0.3 -2.4h0m0.5 -0.9h0m0.1 0.3h0m1 0.1h0m0.1 0.8h0m0.9 0h0m1.3 -2.2h0m2.1 -0.6h0m29.6 0.6h0m0.3 0.9h0m0.2 -1.4h0m1.3 2.9h0m0.4 1.2h0m0.2 -2h0m0.1 -1.6h0m0.1 0.8h0m0.3 0.3h0m1 1.2h0m0.3 0.1h0m0.1 1.3h0m0.1 -0.4h0m0.5 -3.4h0m0.2 4.5h0m0.1 -0.5h0m1.9 -4.3h0m0.6 1.8h0m0.5 -1.8h0m0.9 1.3h0m0.7 -0.2h0m1.2 1.2h0m2.9 -2h0m1.8 0.8h0m0.1 3h0m6.3 0.5h0m-106.2 0.6h0m30.2 4.3h0m1.1 -1.2h0m2.4 1.3h0m1.2 -1.8h0m0.5 -2.4h0m1.2 0.5h0m0.6 1.1h0m2.2 -1.1h0m0.5 0.8h0m0.2 1.7h0m0.2 -1.2h0m0.1 -0.3h0m0 1.5h0m0.2 -1.4h0m1.7 -0.2h0m1.1 0.8h0m0.3 -2.2h0m0 0.8h0m0.3 2.7h0m0.1 -2.9h0m0.7 1.9h0m0 1.2h0m0.6 0.1h0m0.1 -2.3h0m0.5 0.1h0m0 0.4h0m0.5 -0.2h0m0.4 -0.4h0m0.7 -0.8h0m0.3 -0.5h0m39.8 0.9h0m1.5 0.7h0m0.1 1.1h0m0.1 -0.6h0m0 -2.6h0m0.1 4.2h0m0.4 -1.8h0m0.2 -0.8h0m0.1 -1.1h0m0.2 3.6h0m0.4 -4.1h0m1.3 2h0m0.2 -1.8h0m0.2 3.6h0m0 0.5h0m0.6 -2.3h0m0.1 -0.6h0m0.2 0.9h0m0.7 -1.8h0m0.4 3.9h0m0.3 -1.2h0m5.1 1.2h0m0.2 -1.3h0m-70.3 4.6h0m0 -2h0m0.5 0.2h0m3.7 3.6h0m0.4 -4.2h0m0.4 3.3h0m0.2 -0.1h0m1.1 -3h0m2.8 0.4h0m0.5 2.6h0m0.5 0.1h0m0.7 -1.5h0m1 -1.4h0m0.4 3.3h0m0.4 -4.2h0m0.1 0h0m0.1 0.9h0m1 3.7h0m0 -3.2h0m0.1 3.1h0m0 -1.4h0m0.5 -1.2h0m45.1 -1.5h0m0.6 1.9h0m0.4 -2h0m0.7 1.7h0m0.5 2.5h0m0.6 -3.1h0m0.2 1.9h0m2.5 -1.7h0m1.8 -1.6h0m1.9 0.5h0m0.4 0.9h0m6.1 1.8h0m-77 4.3h0m0.6 -1.1h0m1 -0.5h0m0 -0.1h0m0.5 4h0m1.2 -1h0m0 -2.9h0m3.1 -0.5h0m0.1 1.2h0m0.4 1.3h0m0.6 -2.8h0m2 4.3h0m0.1 -1.5h0m0.6 -1.4h0m0.4 1.2h0m0.7 1h0m0.4 -3.1h0m1.2 -0.5h0m0.2 0h0m0.3 2.6h0m0.6 -1.5h0m0.1 -0.5h0m0.2 0.4h0m0.2 2.2h0m0.4 -0.8h0m0.5 0.4h0m0 1.6h0m0.2 -1.9h0m0.2 1.8h0m47.2 -3.4h0m0 3.3h0m0.3 -1.9h0m0.6 -0.6h0m0.2 0.4h0m0.9 2h0m0.4 -0.4h0m0.1 0.6h0m0.1 -2.6h0m0.1 -1.5h0m0.7 3h0m0.3 -1h0m0.2 0.8h0m0.1 -1.6h0m0.4 -1.3h0m0.6 2.5h0m0 1.8h0m1.1 -3h0m0.3 1.5h0m1.8 0.1h0m2.9 1.7h0m0.7 -2.5h0m-75 6.4h0m2.7 -2.7h0m3.2 3.7h0m1.5 -3.4h0m0.8 2.3h0m0.4 1.3h0m0.4 -3.8h0m0.1 2.5h0m0.2 0.7h0m1.3 0.1h0m0.6 -3.5h0m0 1.6h0m0.3 0.9h0m0.2 1.2h0m0.5 -3.7h0m0.1 1.8h0m0.1 -1.2h0m0.1 -1.3h0m0.8 2.4h0m0.4 1.3h0m0.2 -1.2h0m0.1 -1.8h0m0.7 0.6h0m0.3 -1h0m0 -0.5h0m0.1 0h0m0.6 3.7h0m0.6 0.7h0m0.9 -1.1h0m0.6 1.3h0m44.4 0.2h0m0.9 -3.8h0m0.2 -0.8h0m0.1 4.4h0m0 -2.4h0m0 1.6h0m0.3 -3.2h0m0.4 3.7h0m1 -2.7h0m0.2 3.2h0m0.6 -3.8h0m0.2 0.9h0m0.3 -1h0m0.3 2.9h0m0.6 -1.8h0m0.1 -1.9h0m0.8 1h0m0.5 -0.5h0m1 2.6h0m0 -2.5h0m1.5 2.8h0m3 -2.2h0m1.9 0.1h0m-85.5 7.8h0m4.8 -0.5h0m4.9 -1h0m9.3 -1.1h0m1.2 1.9h0m0.1 -1.1h0m1.2 1.4h0m1 -0.3h0m0.2 -2.8h0m0.7 0h0m0.3 2.6h0m0.1 -2.3h0m0.1 2.5h0m1.8 0.7h0m0.6 -3.5h0m0.1 1.5h0m0.3 1.5h0m0.3 -3.1h0m0.6 1.6h0m0.2 0.7h0m0.3 1.8h0m0.5 -0.8h0m0.9 -0.7h0m39 1.1h0m0.6 0.3h0m0.2 -1.5h0m0.5 0.6h0m1.3 -0.9h0m0.4 -0.5h0m0.5 2.5h0m0 -3h0m0.5 1.1h0m0.7 -1.9h0m0.7 0.6h0m0.3 -0.3h0m1.1 1.7h0m0.3 -2.2h0m0.5 2.4h0m1.4 -2h0m3.7 2.6h0m0.3 0.7h0m0.2 -0.5h0m1.5 -2.9h0m0.2 3.5h0m2.3 -1.6h0m-70.6 3.4h0m1.9 1h0m0.6 -2h0m3.3 0.1h0m1.4 2.8h0m1.3 -1.4h0m0.4 2.3h0m0 -1.8h0m1.3 1.9h0m0.1 -0.8h0m0.2 -2.5h0m0.7 1.2h0m0.8 -1.1h0m0.8 1.9h0m0.3 -1.7h0m0.5 2.3h0m0 0.1h0m0.8 -3.1h0m0.6 1.9h0m0.3 0.7h0m1 1.8h0m1.1 -1.1h0m2.9 0.3h0m28.3 0.3h0m0.6 -1h0m1 -0.2h0m0.4 0h0m0.3 1h0m0.7 -2.4h0m0.1 2.3h0m0.3 -2.9h0m0.9 1.5h0m1 1.6h0m0 0.4h0m0 -2.8h0m1.1 -1.2h0m0.6 3.1h0m0.3 -3.8h0m0.4 4.1h0m0.6 -1.6h0m0.9 1.9h0m0 -2.7h0m0.8 1.8h0m1 -2.8h0m0.2 3.1h0m0.5 -1.1h0m0.2 -2.6h0m6.1 1.6h0m2.9 -1.4h0m-67 5.5h0m1 2h0m0.1 -0.2h0m2.6 -1.1h0m1.6 3.1h0m0.7 -2.4h0m0.7 -1.9h0m1.2 1.9h0m0.9 -0.9h0m0.8 -0.5h0m0.5 -0.8h0m0.9 2.6h0m0.1 -2.4h0m1.4 -0.2h0m0.1 0.9h0m1.1 1.3h0m0.2 -2.2h0m0.1 0.3h0m0.8 4.1h0m0.2 -2h0m0.1 -2.4h0m0.1 3.9h0m0.3 -2.1h0m0.4 -0.4h0m0.3 2.9h0m0.1 -3h0m0.2 0.7h0m0.3 -1.9h0m0.7 2.6h0m0.5 -1.5h0m0.3 2.2h0m0.1 -3.1h0m0 2h0m0.5 2h0m0.6 -2.1h0m0 -1h0m0.2 2h0m0.3 -0.3h0m0.6 0.9h0m0.1 -2.8h0m1.5 1h0m0.3 1.9h0m0.3 0.1h0m1.8 -0.1h0m0.1 0.8h0m0.2 -0.3h0m0.1 0.3h0m1 -1.1h0m1.5 1.2h0m0 -0.7h0m1.9 -0.3h0m2 0h0m0.5 0.4h0m0.1 -0.5h0m0 1.1h0m2.7 -0.9h0m0.6 0.3h0m0.8 0.4h0m0.6 -1.7h0m0.1 0.2h0m0.7 0.9h0m0.7 -1.4h0m0.5 -0.2h0m1.1 -0.5h0m0.3 1.2h0m0.3 1.2h0m0.1 0.4h0m0.2 -2h0m0.7 -1.4h0m0.5 2.8h0m0.1 -1.2h0m0.5 -0.2h0m0.6 -1.4h0m0.6 2.4h0m0.1 -2.7h0m0.7 -0.9h0m0.2 3.9h0m0.5 -0.9h0m0.5 -1.3h0m0.2 2.8h0m0.2 -1.4h0m0 -2.7h0m0.4 1.3h0m0.4 -1.4h0m0.6 0.9h0m0.3 0.8h0m0.7 -0.3h0m0.5 -0.6h0m0 2.5h0m0.1 -3.7h0m1 3.1h0m0.8 -1.9h0m1.5 -1.1h0m3 3.4h0m0.7 -2.7h0m0.3 3.2h0m0.7 -2.7h0m2.7 -0.8h0m0.9 0.4h0m1.2 1.1h0m5.3 1.7h0m0.8 -1h0m-75.4 2.4h0m5.4 0.3h0m10.5 2.1h0m2.3 -0.4h0m1.2 2.5h0m0.2 -4.5h0m0.3 1h0m0.1 1.4h0m0.8 0.9h0m1.7 -3.3h0m0.7 1.9h0m0.6 -1.9h0m1.6 3.3h0m1 -1.5h0m0 -1.4h0m1.7 3.7h0m0.2 -1.8h0m0.9 -1.2h0m0.7 -0.9h0m0.6 3.8h0m0 -4.1h0m0.9 4.9h0m1.1 -1h0m0.4 -1.7h0m1.2 0.9h0m0.2 -3.2h0m1.1 1.7h0m0.3 -0.1h0m0.1 -1.5h0m1 0.5h0m0.4 3.2h0m0.1 -2.7h0m0.9 0.5h0m0.4 1.9h0m0.6 0.1h0m0.1 -2.1h0m0.1 0.3h0m0.2 1.8h0m0 1.4h0m0.6 -4.1h0m0.3 2.5h0m0.3 0.3h0m0.6 -0.1h0m1.4 -3.3h0m0.2 3.3h0m1.8 0.8h0m0 -2.5h0m1.3 2.8h0m0.3 -3.4h0m1.4 3.3h0m0.4 -2.8h0m0.5 -0.6h0m0.2 2.1h0m0.4 1.3h0m0.8 -3.2h0m0.3 0.4h0m0 -1.2h0m1.7 -0.1h0m1.5 0.6h0m1.8 -0.7h0m1.2 4.4h0m6.2 -3.9h0m2.4 3.9h0m1.2 -4.2h0m1.5 2h0m-53.6 5.2h0m0.8 -2.4h0m3.4 0.5h0m3.9 0.9h0m1.2 -1.7h0m2.1 0.9h0m3.4 -0.7h0m1.1 1.1h0m1.7 3h0m1.6 -2.8h0m2 1.3h0m0.9 0.4h0m0.7 -2.3h0m0.9 1.5h0m0.4 -1.2h0m0.1 -0.9h0m5.2 0h0m1.6 4.3h0m0.9 -3.3h0m3.2 -0.8h0m0.9 0.7h0m1.1 0.7h0m4.4 -0.3h0m2 1.7h0m-43.1 2.2h0m1.6 2h0m1.3 -2.1h0m3.8 -0.5h0m6.5 2.9h0m2.1 -2.8h0m1.9 0.2h0m9.2 -0.2h0m4.9 4.2h0m-7.9 2h0m18.8 2.2h0" fill="none" stroke-width="2.4" stroke-linecap="round"/>
</g>
<g fill="#ff0000" stroke="#ff0000">
<ellipse cx="635" cy="337" rx="24.2263" ry="20.4343" transform="rotate(0 635 337)" stroke="none"/>
<path d="M633 301.6h0m4.8 -1.8h0m35.3 2.7h0m-46.1 2.9h0m4.8 0.9h0m3.4 0.2h0m0.4 -0.8h0m18.9 -0.6h0m-36.8 6.8h0m1 0.2h0m0.8 0.1h0m7.4 0h0m0.3 -3.8h0m0.9 0.5h0m0 2.4h0m0.3 -1.6h0m2.9 0.1h0m0.8 0.4h0m4.2 0.1h0m2.1 0.7h0m1 0.6h0m0.6 -0.1h0m1 -0.9h0m2.1 -1.2h0m1.7 2.3h0m1.4 -2.4h0m0.1 0.3h0m0.9 -1.6h0m0.3 1.1h0m3.7 1.7h0m6.7 1.1h0m5.6 -1.3h0m-71.1 5.8h0m20.5 -0.3h0m0.5 -1.7h0m0.3 2.2h0m1.7 -0.9h0m0.4 0.7h0m0.3 -1.1h0m0 0.5h0m0.7 1.3h0m0.5 -1.9h0m0.9 0.4h0m1.1 1.5h0m0.2 0.2h0m1.3 -0.8h0m0.4 -0.6h0m0.5 0.9h0m0.6 0.5h0m0.5 -4.1h0m0.6 2.9h0m0.1 -0.3h0m0.1 -2.6h0m0.7 0.8h0m1.4 0.5h0m0.6 -0.4h0m1 0h0m0.2 0.8h0m0.4 -2.2h0m0.2 4.7h0m0.7 -1.1h0m0.2 -0.3h0m0.3 1.3h0m0.4 -4.1h0m0 2.4h0m1.1 -2.2h0m0.5 3h0m1 -0.5h0m0.2 0.4h0m0.4 0.5h0m0.2 -0.7h0m0.4 -1.9h0m0.2 0.1h0m0.1 2.3h0m0.2 -4h0m0.2 2.2h0m1.1 1.9h0m0.3 -1.2h0m0.3 0.7h0m1 0.9h0m2 0.3h0m0.5 -1.7h0m0.5 0.2h0m0.1 -1.7h0m1.3 -1h0m0 4h0m0.1 -3.3h0m0 1.9h0m0.6 0.1h0m0.3 -1.9h0m0.8 1.1h0m0.5 1.8h0m0.8 -0.9h0m0.7 -3.4h0m0.2 4.1h0m0 -1.1h0m2.7 0h0m0.7 -1.7h0m0.4 1.2h0m0.3 0.6h0m1.1 -2.8h0m0.7 1.6h0m0.3 0.5h0m1.6 2.4h0m0.8 -2.8h0m0.5 -0.7h0m6.7 0.8h0m3.5 1.9h0m-65.2 3.8h0m5.5 -1.8h0m0 3.7h0m3.3 0.1h0m0.1 -2.8h0m1.4 0.4h0m2.3 -1.1h0m0.1 -0.6h0m0.4 3.3h0m1.6 -3.3h0m0.1 2.4h0m1.5 -0.5h0m0.3 -0.5h0m0.3 1.6h0m0.2 1.2h0m0.6 -0.4h0m0 -1.3h0m0.2 -2.6h0m0.8 2.2h0m0.1 -0.5h0m1.2 0.7h0m0 0.9h0m0.4 -1.8h0m1.2 -0.4h0m0.3 -1.8h0m0.4 2.1h0m0.6 -1.2h0m1.5 0.6h0m2 -0.2h0m1.6 -0.8h0m1 0h0m1.6 0h0m8.1 -0.3h0m3.9 0.1h0m0.5 0.7h0m1.7 -0.7h0m1.1 -0.3h0m1.2 1.5h0m0.7 -0.3h0m1 -0.6h0m0.4 2.6h0m0 -0.7h0m0.4 -2.1h0m0.3 1.7h0m0.1 -1.9h0m0.5 3.5h0m0.8 -1.7h0m0.3 2.5h0m0.2 -4.3h0m0.3 1.3h0m0.5 2.2h0m0.5 -3.4h0m0 3.2h0m0.3 1h0m0.2 -2.1h0m0.1 0.6h0m0.7 -2.5h0m0.2 4.1h0m0 -0.3h0m3.5 -2.1h0m0 2.3h0m0.1 -0.7h0m0.2 0.3h0m0.8 -2h0m2.1 1.3h0m10.1 1.2h0m-73.6 5.2h0m6.6 -1.3h0m0.1 -1.6h0m2 -1.8h0m0.6 4.1h0m0.1 -1.5h0m0.6 -1.5h0m0.1 -0.9h0m0.7 3.4h0m0.3 0.9h0m0.5 -3.9h0m0.1 2.3h0m0.1 0.3h0m0.6 -1.9h0m0.8 2.8h0m0.6 -1.8h0m0.2 -1.9h0m0.3 1.6h0m0.1 1.7h0m0.2 -3.1h0m1 1.2h0m0.6 -0.6h0m0 -0.8h0m0.3 2.1h0m0.1 1.5h0m0 -0.9h0m0.2 -1.5h0m0.8 -1.3h0m0.1 2h0m0.1 1.6h0m0.6 -3.8h0m0.6 0.7h0m0.9 0h0m35 -0.2h0m0.5 0.9h0m1.2 -0.7h0m1.4 3.7h0m0.3 -2h0m0.2 -1.3h0m0.9 1.3h0m0.2 -0.4h0m0.1 -1.5h0m0.2 3.9h0m0.9 -2.2h0m0.6 -0.1h0m0.9 -1.9h0m0.3 4.3h0m0.5 -1.1h0m0.4 -3h0m0.7 -0.1h0m1.1 0.6h0m0.1 1.1h0m0.4 0.5h0m1.1 -1.5h0m0.3 1.6h0m0.7 -1.5h0m0.2 2.3h0m4.7 -2.2h0m3.1 3h0m0.2 -0.9h0m-75.5 4.2h0m1.2 -1h0m3.3 -1.7h0m2.4 2.4h0m1.8 0.4h0m0 -1.5h0m0.3 3.1h0m0.2 -1.8h0m0.8 0h0m0.3 0.7h0m0 0.3h0m0.8 -3.1h0m0.3 3.3h0m0.3 -0.7h0m0.2 0.1h0m0.3 -2.9h0m0 1.3h0m0.5 -0.5h0m0 3.2h0m0.5 -3.9h0m0.2 1.4h0m1 1h0m0.2 -2.8h0m0.6 1.5h0m43.9 1h0m0.2 1.4h0m0.2 -2.4h0m0.6 -0.4h0m0.6 3.3h0m0.7 -2h0m0.1 0.3h0m0.1 2.2h0m0 -4.7h0m0.1 3.3h0m0.1 0h0m1 1.1h0m0.1 -1.2h0m2.5 -0.3h0m0.2 -1.7h0m0.8 -1.1h0m1.3 0.1h0m4.8 2.7h0m1 0.8h0m-72.8 3.9h0m3.3 0.7h0m1.3 -1.8h0m0.6 2.3h0m0.2 -2.3h0m0.5 1.8h0m0.1 1.1h0m1.5 -0.3h0m1.4 0.4h0m0.1 -3.3h0m0.3 2.5h0m0.2 -2.7h0m0.4 2.7h0m0 -3.4h0m0.5 2.3h0m0.2 1.5h0m0.1 -3.1h0m0.1 2.4h0m0.3 -1.1h0m0.3 -0.1h0m0.7 1.5h0m0.9 0.1h0m0 -3.5h0m46.2 0.7h0m0.3 0.9h0m0.4 1.6h0m0.3 -1.8h0m0.3 1.8h0m0.2 0.3h0m1.2 -2.4h0m0.1 1.1h0m0.1 1.4h0m0.8 -3h0m0.1 0.9h0m0.4 1h0m0 1.6h0m0.6 -4h0m0.4 4.3h0m0.4 -1h0m0.9 0.1h0m0.3 0.2h0m0.1 -1.8h0m1.5 -2.1h0m0.5 2.6h0m0.3 -1.3h0m0.1 -0.8h0m1.7 1.6h0m0.5 2.4h0m1 -2h0m2.5 1.4h0m1.1 -1h0m-75.4 4.8h0m1.3 -2.5h0m1.2 4.2h0m2.6 -3.4h0m2.3 -0.1h0m0.1 2.4h0m0.2 1.1h0m1.1 -1.5h0m0.6 -0.6h0m0.1 1.2h0m0.6 0.8h0m0.4 -2.1h0m1.1 2.1h0m0.3 -2.9h0m0.1 3.2h0m0.5 -2.9h0m0.7 1.3h0m0.1 0.8h0m0.1 0.4h0m0.1 -2.7h0m45.4 3h0m0.1 -0.5h0m0.5 -0.3h0m1 -3.5h0m0.1 3.3h0m0.3 -0.6h0m0.2 -3.2h0m0.3 2.3h0m0 0.2h0m0.5 -1.8h0m0.7 4.2h0m0.2 -1.9h0m0.2 -2.6h0m0.2 0.5h0m0.3 -0.2h0m0.5 4.1h0m0.5 -3.2h0m0.6 -1.2h0m0.4 1.4h0m1.4 -0.2h0m0 1.6h0m0.8 0.6h0m0.4 -1.6h0m0 -1h0m0.4 -0.4h0m2.3 1.9h0m3.4 -1.2h0m-74.6 6.4h0m4 -2.7h0m1.4 0.1h0m3.4 2.3h0m0 -2.1h0m0.8 1.3h0m0.1 0.4h0m1 0h0m0.7 1.4h0m0.4 -2.7h0m0.8 1.7h0m0.7 1h0m0.1 -2.2h0m0.7 3.1h0m0.6 -2.3h0m0.2 1.5h0m0.3 0.2h0m42.3 1h0m0.6 -1.6h0m0.2 1.6h0m0.1 -2h0m0.9 -2.8h0m0.9 3.7h0m0 -3.4h0m0.3 1.7h0m0 2.3h0m0.3 -2.4h0m0.6 0.1h0m0.5 0.9h0m0.5 -2.3h0m0.1 1.6h0m1 1h0m0.4 0.6h0m0 0.9h0m0.9 -2.7h0m1.8 -0.8h0m2.3 2.7h0m0.1 -0.1h0m1 -2.4h0m-65.1 7.3h0m1.2 -0.7h0m0.7 -2.4h0m1.8 0h0m0.6 -0.5h0m2.2 1.7h0m0.2 2h0m0 -2.8h0m0.7 2.9h0m0.3 -0.5h0m0.7 -0.3h0m0.5 0.7h0m1 -2.6h0m0 -1.1h0m0.2 2.6h0m0.1 -0.6h0m0.6 1.9h0m0.1 -4h0m0 0.7h0m0.3 3h0m0.1 0h0m0.1 1.2h0m0.9 -0.5h0m0.4 -1.1h0m0 -0.5h0m0.3 1.4h0m0.2 -2.7h0m0.1 0.8h0m0.4 -1.2h0m0.3 3.5h0m0.2 -0.6h0m0.1 -0.4h0m3.1 1.1h0m29.1 0.2h0m0.8 -0.9h0m0.6 -0.6h0m0.9 -0.3h0m1.2 -1h0m0.1 1.3h0m0.6 -2.1h0m0 2.6h0m0.7 -2.6h0m0.2 3.5h0m0.5 -1h0m0 -0.5h0m0.5 0.6h0m0.8 0.9h0m0.2 -3.4h0m0.5 0.7h0m0.1 1.4h0m0.6 -1.6h0m0.8 -1.6h0m0.5 1.1h0m0.8 2.6h0m0.2 -1.8h0m0 0.4h0m0 -1.4h0m1.8 3h0m0.9 0.1h0m1.5 -3.7h0m0.4 0.9h0m0.8 0.9h0m3 2h0m-77.2 2.6h0m5.9 -1.7h0m3.4 0.7h0m2.3 -0.1h0m2.9 3.4h0m0.7 0.1h0m1.5 -1.8h0m0 0.4h0m0.5 -1.8h0m0 2.2h0m0.4 -3.4h0m0.8 0h0m0.9 0.6h0m1.2 0.6h0m0.9 -1.2h0m1 1h0m0.1 0.9h0m0.1 -0.6h0m0.2 0.4h0m0.2 2h0m1.4 -0.6h0m1.3 -2.7h0m0.2 1.6h0m0.3 -1.6h0m0.9 1.8h0m0.6 -1.8h0m0 3.8h0m0.1 -3h0m0.3 1h0m0.2 2.4h0m0.7 -4.6h0m0.3 3.1h0m0.2 1.7h0m0.3 -3.6h0m0.4 2.1h0m0.4 -2.7h0m0.3 2.2h0m0.5 -0.7h0m0.8 2h0m0.1 0.7h0m0.2 -3.1h0m0.7 3.1h0m0.9 -2.5h0m0.6 1.6h0m0.3 -0.8h0m1.8 1.2h0m0.4 -0.6h0m0.1 0.9h0m0.9 -1.3h0m0.3 1.1h0m0.3 -0.5h0m1.7 0.4h0m1 -0.6h0m3.5 1.1h0m0.5 -0.1h0m1.3 0h0m0.7 0h0m2 -0.6h0m2 0h0m0.2 0.7h0m0.4 -0.6h0m1.9 -1h0m0.7 0.3h0m0.3 1.2h0m1 -1.3h0m0.3 -0.9h0m0.4 -1.7h0m0.7 1.1h0m0.2 -0.3h0m0 3.2h0m0.1 -1.2h0m0.7 0h0m0.6 -2.1h0m0.5 -0.5h0m0.4 0.8h0m0.4 2.5h0m0.1 -2h0m0.4 -0.7h0m0.5 2.4h0m0.3 -3.5h0m0.3 1.7h0m0 -0.4h0m0.6 0.7h0m1.3 1.7h0m0.1 -3h0m1.1 0.3h0m1.1 0.6h0m0.7 -1.1h0m0.5 2.8h0m0.8 -3.2h0m0.4 2.1h0m4.7 1.3h0m-52.3 3.9h0m0.5 -2.1h0m2.9 0.4h0m0.5 3.5h0m0.1 -0.5h0m3.9 -3.5h0m0.3 2h0m1.2 -1.5h0m0.1 -0.8h0m0.9 3.2h0m2.3 0.7h0m0.1 -3.1h0m0.5 -0.6h0m0.5 1.8h0m1 0.1h0m0.2 -2.2h0m0.4 4.3h0m0.3 -2.2h0m0.1 0.4h0m0.8 -2.4h0m0.1 -0.2h0m0.5 1.2h0m1 2.1h0m0.4 -1.5h0m0.9 -2.1h0m0.8 4.7h0m0.5 -2.2h0m0.1 0.6h0m1 -0.5h0m0.2 -0.2h0m0.8 -2.4h0m0.1 2.1h0m0.7 1.8h0m0 -2.3h0m1.7 1.3h0m0.1 0.8h0m0.2 -2.9h0m1.5 3.4h0m0.2 -1.5h0m0.1 1.1h0m0.5 -2.1h0m1.6 -0.1h0m0.1 -1.1h0m0.1 2.4h0m0.1 -0.8h0m0.6 2.4h0m0.7 -1.5h0m0.4 1.5h0m0.9 -3.2h0m0.6 2.7h0m0.3 -3.7h0m0.1 -0.1h0m1 2.7h0m0.6 -1.8h0m0.6 2.1h0m0 -2.4h0m1.1 0h0m1.2 2.8h0m0 -2.6h0m0.1 -0.5h0m0.4 1.5h0m1.6 2.1h0m0.2 -2.4h0m2.4 -1.3h0m0.2 2.4h0m0.8 -2.7h0m0.4 1.4h0m2.8 2.3h0m7.5 -1h0m2.8 -0.9h0m0.8 -1.7h0m-59.5 8.9h0m5.9 -3.1h0m3.4 -0.2h0m3.7 1.7h0m2.4 -1.8h0m1.1 0.9h0m2.4 -1h0m0.2 0.1h0m0.1 -0.1h0m0.8 0.7h0m1.9 1.1h0m0.2 0.9h0m0.4 1.6h0m1.7 -4.4h0m0.2 4.4h0m0.7 -1.6h0m0.6 -2.8h0m2.1 0.9h0m4.7 0.3h0m0.8 2.3h0m2 -0.9h0m6.4 -1.4h0m2.3 1.6h0m3.9 -3.2h0m-47.3 8.3h0m5.2 -1.3h0m5.3 0.1h0m9.4 -1.8h0m0.5 2.6h0m1.7 1.3h0m2.8 -3.9h0m1 1.8h0m4.9 0.9h0m0.1 -1.2h0m12.1 -0.6h0m7.4 -0.8h0m-30.2 5.1h0m6.3 2.7h0m11.8 -1.7h0m-53.9 5h0m39.1 2h0m25.6 8.6h0" fill="none" stroke-width="2.4" stroke-linecap="round"/>
</g>
<g fill="#00ff00" stroke="#00ff00">
<ellipse cx="548" cy="304" rx="26.0572" ry="18.9125" transform="rotate(0 548 304)" stroke="none"/>
<path d="M532.8 266.5h0m13.9 -3.1h0m4.3 2.2h0m15.4 -1.8h0m-16.4 5.6h0m2.1 1.1h0m-28.6 4.9h0m15.2 -0.3h0m2.6 2.2h0m1.4 -4.3h0m0.9 4.1h0m2.5 -1.4h0m2.3 1.5h0m3.6 -0.5h0m6.6 -0.6h0m6.3 0.2h0m5.8 0.2h0m2.8 -2.2h0m-56.8 8.2h0m1 -4.4h0m1.1 -0.2h0m2.3 3.4h0m0.6 -2.4h0m2 1.2h0m6.6 1.3h0m0.1 -1.7h0m0.3 -0.5h0m0.5 3h0m0.9 -2.7h0m0 1.3h0m2.5 0.1h0m2.6 -3.1h0m1.1 0.8h0m2.1 2h0m0.6 -1h0m0.6 1h0m0.1 1.7h0m1.5 -1h0m0.5 0.8h0m2 -0.5h0m2.9 -2.3h0m1.5 -1.8h0m0.8 4.7h0m0.1 -2.8h0m0.7 2.4h0m0.8 0.2h0m0.5 0.5h0m1.6 -4.5h0m0.6 4.2h0m0.1 -0.9h0m1.4 -1.8h0m0.3 0.6h0m0.9 -0.6h0m2.7 0.8h0m0.4 -2.2h0m0.6 3.6h0m1.8 0.4h0m0.8 -2h0m3 1.9h0m1.3 -0.9h0m-58.5 5.7h0m2.2 0.2h0m7.1 -1.4h0m3.5 0.1h0m3 -3.1h0m0.2 1.8h0m0.5 -0.1h0m0.1 2.7h0m3.5 0.1h0m0.5 -1.1h0m0 -2.6h0m0 0.7h0m0.3 2.7h0m0.8 -0.5h0m1.3 -2.4h0m0.4 -1.1h0m0.2 1.4h0m0 2.8h0m0.8 -1h0m0.2 -1.7h0m0.6 2.5h0m0.2 -2.4h0m0.6 0.7h0m0.2 0.9h0m1.2 -3h0m0.1 2.8h0m0.7 -2.4h0m0 2h0m0.8 1.1h0m0.5 -2.4h0m0.4 1.8h0m0.8 -0.4h0m1.1 -0.5h0m0.1 -1.4h0m0.9 1.6h0m0.2 0.3h0m0.3 -2.6h0m0.1 3h0m0.9 -0.5h0m0 -0.8h0m1.5 0.4h0m0.3 0.1h0m0.3 -0.2h0m1.2 -1.6h0m0.6 2.1h0m0.4 -2.4h0m0.9 0.6h0m0.3 0.5h0m0.1 0.3h0m0.3 0.4h0m1.2 -2.2h0m0.8 2.2h0m0.8 -1.6h0m0.2 1.2h0m0.6 0.4h0m0.6 1.8h0m0 -3.5h0m0.7 3.2h0m0.3 -3.2h0m0 0.2h0m0.3 -0.3h0m0 2h0m1.3 1.2h0m0.1 -2.9h0m0.1 -0.4h0m0.6 3.3h0m0.1 0.4h0m0.2 -0.5h0m0.5 -1.2h0m0.5 -0.5h0m0.1 1.3h0m0.5 -1h0m0 -2.1h0m0.6 4.5h0m0.9 -0.8h0m1 -0.1h0m0.4 -0.9h0m0.6 -1.2h0m0.7 2.7h0m0.7 -1h0m1.6 -2.5h0m0.2 0.9h0m1.1 2.9h0m2.1 -2.1h0m0.7 1.8h0m0.1 -1.1h0m0.8 1.3h0m0.2 -1.7h0m0.1 0.7h0m2.8 -2.6h0m0.7 2.5h0m-88.1 6h0m14.4 -4.4h0m2.3 1.6h0m8 2.1h0m0.1 -0.9h0m0.6 0.6h0m2.3 -0.4h0m2.4 -1.5h0m0.9 0.1h0m2.2 -1.4h0m0.3 2.5h0m0.3 -0.1h0m2.3 2.2h0m0.2 -0.4h0m0.5 -1.5h0m1.2 1.1h0m0.5 -2.9h0m0.7 -1h0m0 2.5h0m0.3 -0.6h0m0.4 0.5h0m0.2 2.4h0m0.9 -3.1h0m0 1.4h0m0.1 -2.4h0m0.4 -0.2h0m0.7 3.2h0m0.5 -2.5h0m0.1 0.6h0m0.2 0.7h0m0 0.3h0m0.2 -1.5h0m1.3 -0.2h0m0.6 -0.7h0m0.5 1h0m0.2 -0.7h0m1 -0.2h0m26.8 0.2h0m1.5 0h0m0.1 0.9h0m0.1 -0.7h0m0.8 0.7h0m0.5 0.7h0m2.4 0.3h0m0.1 0.2h0m0.6 0.1h0m0.1 -2.2h0m0.1 -0.7h0m1 0.6h0m0 0.8h0m0.2 0.6h0m0.1 2.3h0m0.9 -3.4h0m0.5 3h0m0.4 -2.5h0m0.1 1.2h0m0.5 2.1h0m0.2 -1.5h0m0.2 -0.2h0m0.6 1.1h0m0.5 -3.9h0m1.3 1.9h0m0.1 -1h0m1.9 2.3h0m0.7 -3.3h0m0.7 2.7h0m1.3 -0.7h0m0.3 1.8h0m0.9 -0.6h0m0.2 0.3h0m5.3 -1.9h0m1.6 0.2h0m-96.3 5h0m14.5 1.8h0m0.4 0.3h0m1.2 -3.2h0m2.5 1.1h0m0.2 2.5h0m3 -3h0m0.2 1.9h0m2 -1.8h0m2.6 0.5h0m1.5 1.9h0m0.6 0.5h0m0.7 -0.4h0m0.3 -4h0m1.5 4.7h0m0.4 -0.7h0m0.2 -2h0m0 -1.6h0m0.8 1h0m0 -0.5h0m0.5 3.8h0m0.3 -4.5h0m0 3.6h0m0.2 0.7h0m0.4 -1.5h0m0.4 -1.1h0m0.1 1.4h0m0.9 -2h0m1 -1.1h0m0.9 0.8h0m41.2 0h0m2.2 1.7h0m0 -2.6h0m1.2 3.8h0m0 -1.1h0m0.1 -2.5h0m0.3 3.3h0m0 -0.2h0m0.9 1.4h0m0.6 -4.1h0m0.8 2.6h0m0.1 1.3h0m0.6 -2.4h0m0.7 -0.4h0m0.5 1h0m0.9 -0.3h0m1 -0.6h0m0.9 -0.6h0m0.7 0.7h0m1 0.1h0m0.1 0.8h0m0.1 1.7h0m0.5 -0.9h0m2.6 -0.3h0m0.3 -1.1h0m4.7 -1.3h0m-87.4 5.1h0m1.2 0.2h0m2.4 -0.2h0m1.2 1.8h0m5.2 -2.7h0m3.2 0.2h0m0.2 1h0m0.1 2.8h0m1.2 -1.3h0m1 1.2h0m0.8 -3.9h0m0.1 2.1h0m0.3 0.3h0m0.4 -2.2h0m0.1 1.6h0m0.3 1.4h0m0.3 -0.4h0m1.3 -0.7h0m0.1 2.4h0m0.1 -0.6h0m1.3 -2.7h0m0.1 -1.3h0m0.8 1.1h0m49.4 0.7h0m0.4 2.9h0m0.6 -1.8h0m0.2 -2.6h0m0.4 -0.4h0m0.1 3.7h0m0.1 -0.5h0m0.2 -0.1h0m0.2 0.8h0m1.5 0.7h0m0.1 -3.9h0m1.2 0.1h0m0.1 2.7h0m0.1 -2.4h0m0.2 0.5h0m0.2 -0.7h0m0.9 4h0m0.5 -2.7h0m7.2 -1h0m2.5 0.3h0m2.6 -0.5h0m4.8 3.5h0m-89.6 5h0m4.1 -2.9h0m1.6 2.3h0m0.5 -3.4h0m1 1.6h0m1.6 1.3h0m0.2 -3.3h0m0.7 1.5h0m0.2 0.6h0m0.6 2.4h0m0.2 -3.4h0m0.6 1.9h0m0.2 -3h0m0.8 3.3h0m0 0.2h0m1.5 -2.3h0m0.2 1.2h0m0.4 1.4h0m0.8 -1.4h0m0 -1.8h0m51.3 0.3h0m0.1 2.7h0m0 0.5h0m0.9 -2.4h0m0.1 -1.4h0m0.4 4.1h0m0.2 -0.1h0m0.6 -1.3h0m0.4 -2.2h0m0.1 -0.9h0m0.2 0.4h0m0.2 0.3h0m0.4 0.7h0m0.1 3.4h0m0.2 -2.9h0m0.2 0.3h0m0 -1.3h0m1.3 3.7h0m2.1 -4.2h0m1.3 3.7h0m0.8 0.4h0m0.5 -1.7h0m1.4 -2.2h0m0.3 0.7h0m6.2 2.5h0m-95.4 3.4h0m9.6 -2h0m8 0.5h0m0.2 1.6h0m0.8 -0.5h0m0.6 -0.7h0m0.6 -1.1h0m0.1 0.7h0m0.1 -0.2h0m0.4 3h0m0.5 -3.4h0m0.2 2.8h0m0.2 1.7h0m0 0.3h0m0.9 -4.7h0m0.6 3.3h0m0.1 -0.1h0m0.3 -2.6h0m0.2 1.4h0m0.1 2.2h0m0.6 -2.3h0m0.2 1.6h0m0.6 -3.1h0m0.5 0.6h0m0.4 3.1h0m0.2 -1.5h0m0.4 1.4h0m0.6 0.7h0m1.2 -0.4h0m46.9 -1h0m0.2 1.4h0m0.4 -3.2h0m0.6 -0.5h0m0.3 -0.5h0m0.5 1.9h0m0.2 -2.7h0m0 4.4h0m0.2 -0.2h0m0.2 -0.8h0m0.7 -0.3h0m0.2 -1.6h0m0.5 1.5h0m0 1.1h0m0.6 -1.1h0m0.3 0.2h0m2.8 1h0m0.1 -4h0m0.5 3.7h0m2.8 -1h0m3 -0.5h0m10.6 1.6h0m-106.1 1.3h0m14 2.9h0m4 0.9h0m2.2 -0.7h0m1 -1.9h0m2.2 3.1h0m5.5 -1h0m0.4 -3.2h0m0.8 3h0m0.4 -1.5h0m0.6 1.6h0m0 -0.3h0m0.2 -2.3h0m0.8 1.8h0m0.6 0.8h0m0.7 -0.3h0m0.1 -1.5h0m0.5 -0.5h0m0.1 2.6h0m0.4 -1.2h0m0.1 1h0m1.4 0.2h0m0.3 -2.2h0m0.3 -0.1h0m1 1.7h0m0.4 0.5h0m0.1 0.4h0m0.8 0.5h0m36 0.1h0m0.6 0.2h0m1.4 -1.9h0m0.6 0h0m1.3 -1.3h0m0.5 0.7h0m0.2 0.3h0m0.5 1.3h0m0.4 0.6h0m0 -4.2h0m0.1 3.5h0m0.2 -0.8h0m0.5 0.6h0m0.3 -2.2h0m0.1 2.8h0m0.3 -3.7h0m0.4 3.9h0m0.5 -2.2h0m0.9 0.5h0m0.1 -0.4h0m0.2 1.5h0m1.4 -2.5h0m0.3 3.2h0m0.9 -3.5h0m0.5 -0.6h0m0.7 4.2h0m0.9 -3.5h0m1.4 -1h0m0.3 0.5h0m1.5 2.2h0m1.3 -2.6h0m-74.9 5.7h0m1.3 2.7h0m0.9 -2.1h0m3.5 0.4h0m0.2 -1.5h0m2.2 1.6h0m1.5 -0.4h0m0.6 1.7h0m2.8 -3.1h0m1.4 1.9h0m2.1 1.2h0m1.2 -3.1h0m0.3 3.6h0m0.1 -3.9h0m0.4 1.2h0m0.3 0.9h0m0.2 0h0m0 2h0m0.9 -0.1h0m1.1 -2.2h0m0.2 0.5h0m0.5 2.7h0m0.3 -3.8h0m0.2 -0.2h0m0.7 3.5h0m0.7 -0.5h0m0.6 -1.2h0m0.1 1.5h0m0.1 -3.2h0m0 0.6h0m0.3 -0.1h0m0.2 1.2h0m0.2 1.3h0m1.4 -1h0m1.8 1.3h0m0.5 -1h0m0.9 0.3h0m0.3 -0.8h0m2 1.7h0m0.4 0.2h0m4.1 -0.1h0m2.3 0.2h0m4.3 -0.2h0m0.8 -0.4h0m1.4 0.4h0m1.4 0.2h0m2.5 -1.7h0m0.4 1.5h0m0.2 -1.7h0m0.7 0.7h0m1 0.7h0m0 -1.1h0m1 0.8h0m0.7 -2.5h0m0.3 2.2h0m0.1 -1.6h0m0.5 2.2h0m1.1 -2.7h0m1.2 0.8h0m0.3 -0.9h0m0.2 -0.9h0m0.6 0h0m0.1 1.6h0m0.5 2.2h0m0.7 -2.9h0m0.2 -1.2h0m0.4 0.6h0m0.6 0.6h0m0.5 -1.2h0m0.1 0.9h0m0.4 0h0m0.3 -0.6h0m0.1 1.6h0m0.8 2.3h0m0.5 -2.1h0m1.9 -2h0m0.4 3h0m0.3 0.4h0m1.3 -1h0m1.3 1.9h0m2.2 -1.1h0m1.5 -0.5h0m5.3 0.3h0m-69.8 5.6h0m3.5 -3.8h0m2.5 2.3h0m1.2 -1.4h0m0 2.3h0m2.8 -0.1h0m3.2 -2.7h0m1.8 1.9h0m3 0.2h0m0.2 -2.6h0m0.2 0.2h0m0.6 1h0m0.3 0.8h0m0 -1.8h0m0.1 2.6h0m0 1h0m0.8 -1h0m0.2 1.8h0m0.1 -1.1h0m1.2 -2.9h0m0.4 0.1h0m1.1 1.2h0m0.6 1.6h0m0.1 1.1h0m0.2 -3h0m0.3 -0.1h0m0.3 0.3h0m1.3 -0.7h0m0.1 -1.2h0m0.9 0.6h0m0.5 2h0m0.1 -1.3h0m0.6 0.2h0m1.3 -0.6h0m0 0.3h0m0.1 -0.5h0m1.2 2.5h0m0.9 -0.4h0m0.3 -2.2h0m0.1 1h0m0.1 1.8h0m0.8 -3.1h0m0.6 1.4h0m0.3 -0.1h0m0.2 1.5h0m0.2 -0.7h0m0.7 -0.7h0m0.1 3h0m0.1 -3.8h0m0.2 2h0m0.2 1h0m0.2 -3.6h0m0 2.2h0m0.3 -1.9h0m0.3 4.1h0m0 -4.5h0m0.2 4.4h0m0.1 -0.9h0m0.4 0.8h0m0.6 -0.8h0m0.6 -3.6h0m0.2 4.4h0m0.2 -4h0m0.6 4h0m0.7 -3.3h0m0.1 1.6h0m1.1 -2.6h0m0.4 0.9h0m0.1 0.4h0m0.1 -1.1h0m1.1 1.7h0m0.3 1.3h0m1.5 -3h0m0.1 2.2h0m0.7 0.4h0m0.1 -0.1h0m1.4 0.5h0m0.1 -1h0m0.7 0.1h0m3.7 -1.1h0m0.4 -0.6h0m1.1 0.7h0m0.6 1.1h0m0.9 2h0m0.1 -2.6h0m0.2 -0.8h0m0 3.3h0m1.1 -1.1h0m4.1 -3.2h0m2 1.2h0m1.9 -0.3h0m-72.3 6.3h0m13.4 1.5h0m0.9 -4h0m0.8 1.5h0m6.4 1.1h0m2.4 -2.1h0m7.2 3.1h0m0.3 -2.7h0m0.2 0.9h0m1.6 3h0m0.1 -3.9h0m1.4 1.5h0m2.1 -1.8h0m0.1 3.2h0m1 -2h0m1.2 -0.1h0m0.3 2.5h0m0 -2.3h0m0.2 -1h0m0.4 -0.2h0m2.2 0.9h0m2.2 1.8h0m0.1 -0.6h0m1.2 -1.8h0m3.8 0.2h0m1.4 -0.5h0m1.4 0.3h0m6 -0.9h0m5.2 0.6h0m1.6 3.4h0m5.2 -3.3h0m11.3 0.5h0m-87.7 3.8h0m30.5 2.1h0m1.4 -0.6h0m6.9 2.1h0m3.5 -2.6h0m1.8 -0.1h0m-3.5 4.7h0m4.5 4.1h0m20.6 -4.7h0" fill="none" stroke-width="2.4" stroke-linecap="round"/>
</g>
<rect x="482.5" y="218.4" width="192" height="191" fill="none" stroke="#a4a4a4" stroke-width="1"/>
<text x="482.5" y="421.9" text-anchor="middle">-0.04</text>
<text x="520.9" y="421.9" text-anchor="middle">-0.02</text>
<text x="559.3" y="421.9" text-anchor="middle">0</text>
<text x="597.7" y="421.9" text-anchor="middle">0.02</text>
<text x="636.1" y="421.9" text-anchor="middle">0.04</text>
<text x="674.5" y="421.9" text-anchor="middle">0.06</text>
<text x="479.1" y="222" text-anchor="end">0.04</text>
<text x="479.1" y="253.83" text-anchor="end">0.02</text>
<text x="479.1" y="285.67" text-anchor="end">0</text>
<text x="479.1" y="317.5" text-anchor="end">-0.02</text>
<text x="479.1" y="349.33" text-anchor="end">-0.04</text>
<text x="479.1" y="381.17" text-anchor="end">-0.06</text>
<text x="479.1" y="413" text-anchor="end">-0.08</text>
<path d="M520.9 409.4v-2M520.9 218.4v2M559.3 409.4v-2M559.3 218.4v2M597.7 409.4v-2M597.7 218.4v2M636.1 409.4v-2M636.1 218.4v2M482.5 250.233h2M674.5 250.233h-2M482.5 282.067h2M674.5 282.067h-2M482.5 313.9h2M674.5 313.9h-2M482.5 345.733h2M674.5 345.733h-2M482.5 377.567h2M674.5 377.567h-2" stroke="#a4a4a4" stroke-width="1" fill="none"/>
<text class="t i" transform="translate(501.4 235.1) scale(1.12 1)">W</text>
<text class="t e" transform="translate(518.5 236.4) scale(1.4 1)">=</text>
<text class="t n" transform="translate(530.4 235.1) scale(1.04 1)">2000</text>
</g>
</svg>
</body></html>
